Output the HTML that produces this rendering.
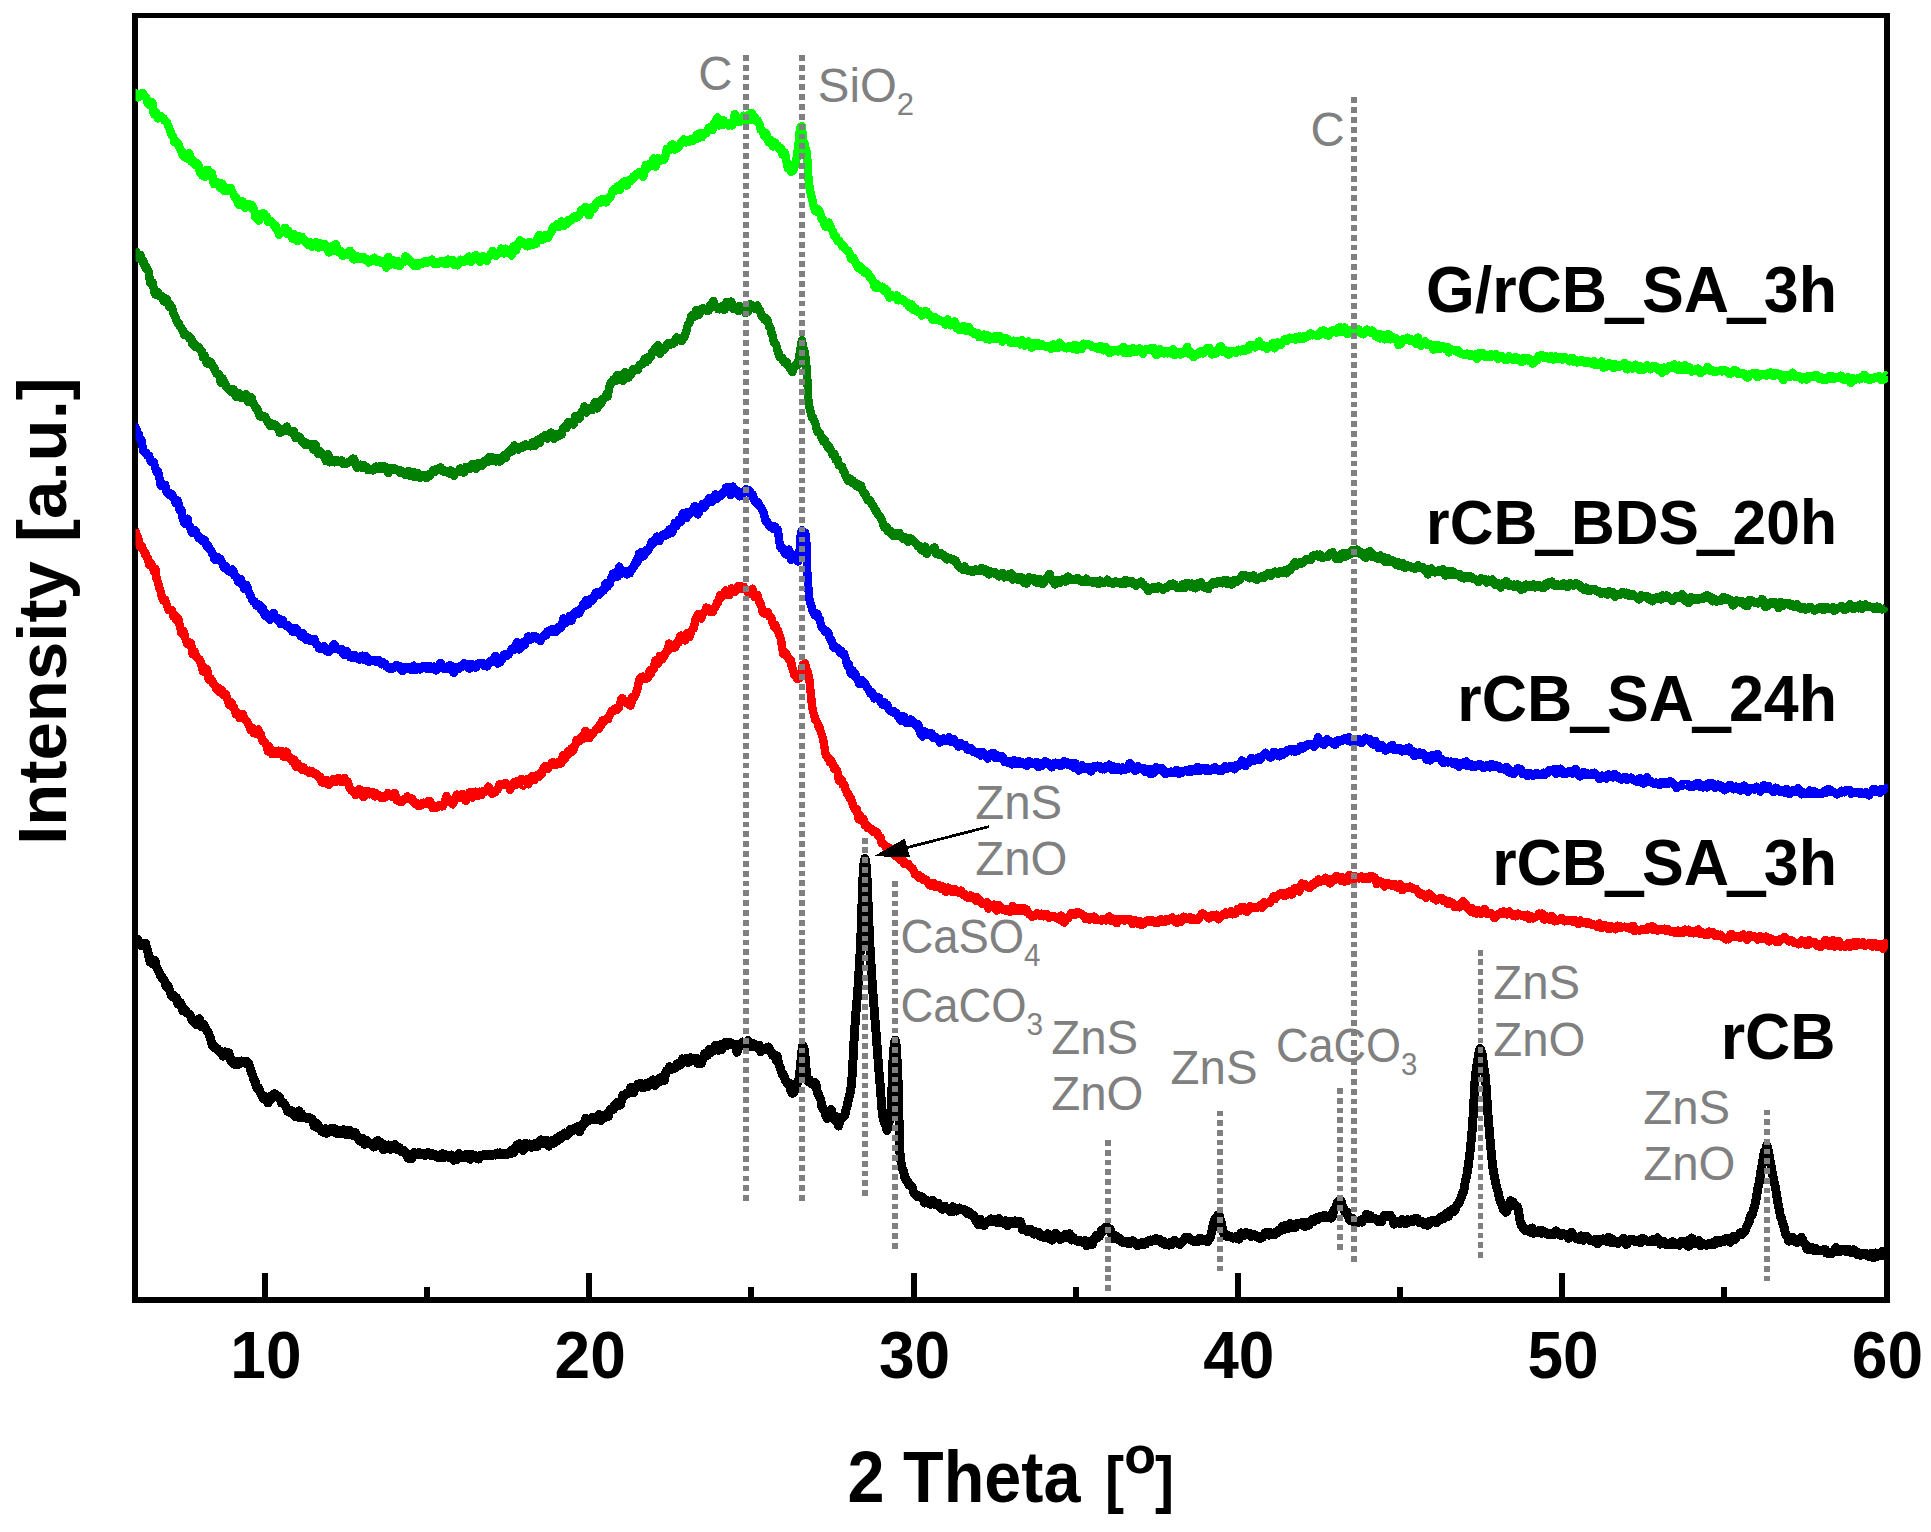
<!DOCTYPE html>
<html><head><meta charset="utf-8"><title>XRD patterns</title>
<style>
html,body{margin:0;padding:0;background:#fff;}
body{width:1931px;height:1532px;overflow:hidden;}
svg{display:block;}
.b{font-family:"Liberation Sans",Arial,Helvetica,sans-serif;font-weight:700;fill:#000;}
.g{font-family:"Liberation Sans",Arial,Helvetica,sans-serif;font-weight:400;fill:#808080;}
.c{fill:none;stroke-linejoin:round;stroke-linecap:butt;}
.d{fill:none;stroke:#808080;stroke-width:5.8;}
.t{stroke:#000;stroke-width:6;fill:none;}
</style></head><body>
<svg width="1931" height="1532" viewBox="0 0 1931 1532" shape-rendering="crispEdges">
<rect x="0" y="0" width="1931" height="1532" fill="#fff"/>
<g id="frame" fill="#000"><rect x="132" y="13" width="6" height="1290"/><rect x="1884" y="13" width="6" height="1290"/><rect x="132" y="13" width="1758" height="5"/><rect x="132" y="1297" width="1758" height="6"/></g>
<defs><clipPath id="cp"><rect x="135.5" y="16" width="1752.5" height="1284"/></clipPath></defs>
<g id="curves" clip-path="url(#cp)" stroke-width="8.4">
<path class="c" stroke="#000000" stroke-width="9" d="M135.0,939.9 135.7,940.5 136.4,940.2 137.1,939.2 137.5,939.1 137.8,941.2 138.5,944.2 139.2,944.9 139.9,944.0 140.6,943.7 141.3,945.6 142.0,945.6 142.7,944.5 143.4,943.4 144.1,945.3 144.8,945.9 145.0,943.9 145.5,943.1 146.2,946.2 146.9,947.6 147.6,951.4 148.3,953.9 149.0,958.0 149.7,960.1 150.0,962.0 150.4,959.7 151.1,958.8 151.8,960.7 152.5,963.7 153.2,961.6 153.9,960.4 154.6,960.3 155.3,962.0 156.0,965.2 156.7,967.7 157.4,968.7 158.1,970.3 158.8,971.4 159.5,972.8 160.0,973.8 160.2,975.3 160.9,975.3 161.6,976.0 162.3,978.1 163.0,978.7 163.7,979.6 164.4,980.7 165.1,982.1 165.8,985.3 166.5,986.7 167.2,986.7 167.9,985.3 168.6,986.9 169.3,989.3 170.0,991.1 170.0,991.9 170.7,993.0 171.4,995.9 172.1,996.4 172.8,996.1 173.5,995.5 174.2,996.4 174.9,996.6 175.6,997.7 176.3,997.8 177.0,1001.9 177.7,1003.8 178.4,1004.0 179.1,1001.8 179.8,1003.1 180.5,1002.8 181.2,1004.4 181.9,1005.8 182.0,1009.0 182.6,1010.6 183.3,1010.9 184.0,1008.8 184.7,1009.2 185.4,1011.7 186.1,1012.5 186.8,1012.1 187.5,1013.2 188.2,1013.7 188.9,1014.0 189.6,1014.0 190.3,1015.2 191.0,1016.7 191.7,1019.9 192.4,1020.9 193.1,1021.5 193.8,1021.8 194.5,1021.8 194.6,1022.1 195.2,1022.8 195.9,1024.3 196.6,1022.3 197.3,1021.9 198.0,1019.8 198.7,1019.0 199.4,1018.9 200.1,1021.0 200.8,1023.5 201.5,1026.5 202.2,1027.1 202.9,1025.6 203.6,1024.2 204.3,1026.0 205.0,1027.8 205.7,1028.6 206.4,1029.3 207.0,1031.3 207.1,1031.6 207.8,1031.2 208.5,1033.2 209.2,1035.4 209.9,1037.4 210.6,1038.2 211.3,1042.2 212.0,1044.1 212.7,1046.2 213.4,1046.6 214.1,1047.8 214.8,1046.7 215.5,1046.9 216.2,1048.5 216.9,1048.6 217.0,1048.8 217.6,1048.7 218.3,1050.5 219.0,1050.4 219.7,1052.2 220.4,1052.9 221.1,1052.2 221.8,1053.1 222.5,1055.0 223.2,1056.2 223.9,1054.7 224.6,1053.1 225.3,1051.9 226.0,1053.5 226.7,1053.5 227.0,1054.2 227.4,1052.7 228.1,1053.3 228.8,1052.8 229.5,1055.6 230.2,1057.8 230.9,1061.0 231.6,1061.7 232.3,1062.1 233.0,1061.7 233.7,1063.1 234.4,1064.4 235.1,1064.0 235.8,1063.7 236.5,1061.9 237.0,1061.5 237.2,1063.8 237.9,1064.7 238.6,1063.5 239.3,1062.2 240.0,1063.6 240.7,1062.6 241.4,1061.0 242.1,1061.2 242.8,1061.3 243.5,1061.6 244.2,1062.4 244.9,1063.3 245.6,1061.3 245.6,1061.5 246.3,1061.2 247.0,1062.9 247.7,1062.6 248.4,1063.2 249.1,1064.7 249.8,1067.0 250.5,1069.9 251.2,1071.2 251.9,1073.6 252.6,1075.0 253.3,1077.8 254.0,1080.0 254.3,1080.3 254.7,1080.0 255.4,1082.4 256.1,1085.4 256.8,1087.8 257.5,1087.7 258.2,1087.4 258.9,1088.3 259.6,1091.5 260.3,1093.1 261.0,1093.7 261.7,1094.8 262.4,1097.2 263.1,1098.5 263.8,1097.9 264.0,1097.8 264.5,1096.2 265.2,1097.2 265.9,1097.4 266.6,1099.6 267.3,1101.6 268.0,1103.0 268.7,1101.0 269.4,1097.5 270.1,1096.5 270.8,1097.1 271.5,1097.2 272.2,1098.4 272.9,1096.8 273.6,1094.5 274.3,1093.6 275.0,1095.1 275.7,1096.4 276.4,1096.4 277.1,1095.9 277.8,1095.8 278.5,1096.0 279.0,1097.7 279.2,1096.8 279.9,1098.6 280.6,1100.4 281.3,1102.8 282.0,1102.7 282.7,1102.8 283.4,1102.6 284.1,1103.5 284.8,1104.5 285.5,1105.7 286.2,1107.5 286.9,1108.5 287.6,1111.4 288.3,1111.9 289.0,1111.4 289.7,1110.8 290.4,1112.6 291.1,1110.5 291.6,1110.8 291.8,1111.1 292.5,1113.7 293.2,1114.5 293.9,1114.9 294.6,1116.3 295.3,1116.4 296.0,1115.2 296.7,1113.8 297.4,1112.0 298.1,1111.4 298.8,1110.8 299.5,1115.1 300.2,1118.0 300.9,1116.7 301.6,1113.7 302.3,1115.4 303.0,1117.3 303.7,1117.8 304.4,1116.6 305.1,1116.8 305.8,1117.5 306.5,1118.1 307.2,1118.5 307.9,1117.6 308.6,1117.1 309.0,1117.8 309.3,1119.0 310.0,1118.5 310.7,1119.0 311.4,1118.7 312.1,1119.0 312.8,1121.1 313.5,1124.1 314.2,1126.3 314.9,1125.6 315.6,1126.0 316.3,1124.3 317.0,1123.8 317.7,1124.5 318.4,1128.0 319.1,1128.0 319.8,1128.2 320.5,1128.3 321.2,1130.9 321.9,1131.6 322.6,1131.4 323.3,1132.3 324.0,1132.3 324.7,1131.4 325.4,1128.7 326.1,1129.0 326.4,1131.2 326.8,1133.2 327.5,1132.6 328.2,1131.1 328.9,1130.5 329.6,1129.9 330.3,1129.1 331.0,1128.6 331.7,1130.3 332.4,1131.0 333.1,1131.5 333.8,1129.4 334.5,1128.7 335.2,1131.1 335.9,1133.1 336.6,1133.4 337.3,1131.7 338.0,1130.2 338.7,1130.8 339.4,1132.6 340.1,1133.6 340.8,1133.4 341.5,1132.6 342.2,1133.5 342.9,1131.9 343.6,1130.9 343.8,1129.8 344.3,1132.4 345.0,1132.7 345.7,1132.8 346.4,1133.7 347.1,1134.9 347.8,1132.7 348.5,1130.8 349.2,1130.8 349.9,1130.7 350.6,1131.4 351.3,1134.3 352.0,1135.2 352.7,1134.6 353.4,1132.3 354.1,1132.8 354.8,1132.6 355.5,1132.8 356.2,1134.7 356.9,1136.7 357.6,1138.1 358.3,1138.9 359.0,1140.3 359.7,1140.6 360.4,1140.8 361.1,1141.4 361.8,1140.4 362.5,1138.4 363.2,1139.3 363.9,1141.5 364.6,1144.5 365.3,1143.5 366.0,1141.4 366.0,1140.2 366.7,1140.7 367.4,1142.2 368.1,1143.6 368.8,1143.8 369.5,1143.9 370.2,1143.6 370.9,1144.4 371.6,1143.9 372.3,1144.1 373.0,1146.4 373.7,1147.1 374.4,1146.4 375.1,1143.2 375.8,1142.2 376.5,1141.1 377.2,1140.9 377.9,1140.6 378.6,1143.5 379.3,1145.8 380.0,1144.1 380.7,1142.6 381.4,1143.3 382.1,1146.0 382.8,1148.3 383.5,1149.7 384.2,1148.2 384.9,1144.9 385.6,1145.6 386.3,1146.4 387.0,1145.5 387.7,1145.5 388.4,1145.0 389.1,1146.1 389.8,1147.0 390.5,1149.3 391.0,1147.7 391.2,1147.5 391.9,1146.7 392.6,1146.2 393.3,1145.9 394.0,1145.1 394.7,1144.4 395.4,1145.8 396.1,1147.9 396.8,1149.4 397.5,1149.9 398.2,1149.6 398.9,1148.6 399.6,1147.8 400.3,1150.6 401.0,1151.1 401.7,1151.8 402.4,1151.8 403.1,1151.9 403.8,1150.1 404.5,1151.6 405.2,1154.0 405.9,1153.4 406.6,1152.9 407.3,1155.1 408.0,1158.1 408.7,1157.0 409.4,1156.4 410.1,1155.0 410.8,1156.9 411.0,1158.4 411.5,1158.8 412.2,1156.3 412.9,1156.1 413.6,1153.3 414.3,1152.6 415.0,1152.9 415.7,1153.4 416.4,1154.1 417.1,1154.4 417.8,1154.0 418.5,1152.7 419.2,1152.5 419.9,1154.7 420.6,1155.0 421.3,1154.9 422.0,1154.6 422.7,1153.7 423.4,1153.2 424.1,1153.2 424.8,1155.4 425.5,1155.0 426.2,1154.3 426.9,1153.5 427.6,1152.9 428.0,1152.3 428.3,1152.8 429.0,1154.5 429.7,1155.0 430.4,1155.2 431.1,1153.8 431.8,1153.4 432.5,1154.3 433.2,1154.4 433.9,1155.9 434.6,1155.9 435.3,1156.0 436.0,1154.9 436.7,1155.1 437.4,1157.2 438.1,1157.2 438.8,1157.3 439.5,1155.1 440.2,1155.9 440.9,1155.7 441.6,1154.9 442.3,1153.7 443.0,1156.8 443.7,1158.0 444.4,1156.9 445.1,1154.7 445.8,1154.8 446.5,1156.1 447.2,1156.9 447.9,1156.9 448.0,1157.1 448.6,1157.5 449.3,1157.9 450.0,1156.6 450.7,1155.9 451.4,1155.0 452.1,1157.3 452.8,1159.1 453.5,1160.2 454.2,1158.5 454.9,1158.3 455.6,1157.8 456.3,1159.4 457.0,1159.4 457.7,1156.7 458.4,1154.4 459.1,1153.7 459.8,1155.8 460.5,1157.8 461.2,1157.7 461.9,1155.7 462.6,1155.3 463.3,1157.8 464.0,1157.1 464.7,1156.4 465.4,1154.8 465.6,1156.8 466.1,1156.0 466.8,1156.0 467.5,1154.7 468.2,1154.5 468.9,1156.1 469.6,1158.7 470.3,1159.3 471.0,1156.7 471.7,1154.4 472.4,1154.6 473.1,1155.7 473.8,1157.1 474.5,1157.5 475.2,1155.8 475.9,1156.2 476.6,1156.1 477.3,1157.5 478.0,1159.0 478.7,1159.0 479.4,1156.9 480.1,1155.1 480.8,1155.8 481.5,1155.7 482.2,1155.4 482.9,1155.3 483.6,1154.9 484.3,1155.4 485.0,1156.0 485.7,1155.8 486.4,1155.3 487.1,1154.6 487.8,1154.6 488.5,1154.6 489.2,1155.3 489.9,1155.5 490.4,1155.1 490.6,1155.3 491.3,1154.3 492.0,1154.9 492.7,1155.3 493.4,1154.7 494.1,1154.0 494.8,1154.3 495.5,1155.0 496.2,1154.6 496.9,1153.9 497.6,1153.0 498.3,1153.1 499.0,1154.1 499.7,1154.2 500.4,1152.9 501.1,1153.2 501.8,1153.7 502.5,1154.7 503.2,1154.4 503.9,1154.6 504.6,1153.6 505.3,1153.5 506.0,1153.5 506.7,1154.2 507.4,1154.4 508.1,1153.3 508.8,1152.8 509.5,1152.9 510.2,1153.7 510.9,1153.5 511.6,1150.8 512.3,1149.7 513.0,1150.8 513.7,1152.5 514.4,1151.1 515.0,1148.3 515.1,1147.9 515.8,1147.5 516.5,1145.8 517.2,1145.0 517.9,1144.6 518.6,1144.7 519.3,1143.7 520.0,1146.0 520.7,1147.4 521.4,1148.7 522.1,1149.2 522.8,1150.4 523.5,1149.7 524.2,1147.5 524.9,1144.5 525.6,1143.2 526.3,1144.2 527.0,1146.4 527.7,1146.8 528.4,1146.9 529.1,1145.3 529.8,1144.0 530.5,1144.1 531.2,1145.9 531.9,1147.3 532.6,1146.9 533.3,1146.9 534.0,1145.8 534.7,1145.0 535.4,1143.6 536.1,1143.1 536.8,1145.0 537.5,1146.5 538.2,1144.4 538.9,1142.6 539.6,1141.8 540.0,1142.4 540.3,1140.3 541.0,1139.9 541.7,1141.7 542.4,1143.7 543.1,1143.1 543.8,1142.0 544.5,1143.0 545.2,1141.7 545.9,1140.4 546.6,1140.4 547.3,1143.5 548.0,1144.9 548.7,1146.1 549.4,1144.5 550.1,1143.2 550.8,1142.8 551.5,1142.0 552.2,1140.6 552.9,1140.8 553.6,1143.3 554.3,1143.0 555.0,1140.8 555.7,1138.9 556.4,1139.0 557.1,1140.0 557.8,1140.7 558.5,1139.2 559.2,1137.3 559.9,1135.9 560.6,1136.4 561.3,1138.2 562.0,1137.5 562.5,1135.7 562.7,1135.3 563.4,1135.7 564.1,1133.9 564.8,1133.0 565.5,1134.3 566.2,1135.9 566.9,1134.0 567.6,1133.9 568.3,1133.3 569.0,1133.4 569.7,1131.2 570.4,1129.7 571.1,1129.0 571.8,1129.1 572.5,1130.3 573.2,1130.7 573.9,1129.3 574.6,1128.2 575.3,1127.7 576.0,1128.0 576.7,1127.6 577.4,1126.8 578.1,1127.1 578.8,1129.6 579.5,1131.6 580.2,1129.9 580.9,1126.6 581.6,1126.4 582.3,1126.6 583.0,1124.7 583.7,1122.9 584.4,1123.4 585.0,1123.1 585.1,1120.5 585.8,1118.1 586.5,1119.2 587.2,1120.0 587.9,1119.9 588.6,1119.5 589.3,1120.4 590.0,1119.4 590.7,1119.6 591.4,1118.3 592.1,1117.9 592.8,1117.2 593.5,1118.8 594.2,1119.2 594.9,1119.9 595.6,1118.1 596.3,1117.6 597.0,1118.7 597.7,1117.9 598.4,1115.6 599.1,1114.6 599.8,1119.0 600.5,1120.5 601.2,1119.9 601.9,1118.2 602.6,1118.2 603.3,1118.1 604.0,1116.3 604.7,1114.9 605.0,1116.3 605.4,1117.2 606.1,1115.6 606.8,1115.3 607.5,1116.8 608.2,1116.7 608.9,1114.5 609.6,1110.8 610.3,1109.8 611.0,1109.1 611.7,1110.1 612.4,1110.1 613.1,1109.8 613.8,1106.5 614.5,1105.3 615.2,1104.7 615.9,1105.8 616.6,1104.6 617.3,1104.2 617.3,1102.6 618.0,1103.0 618.7,1103.8 619.4,1105.5 620.1,1104.7 620.8,1104.3 621.5,1100.4 622.2,1097.1 622.9,1095.1 623.6,1095.6 624.3,1095.6 625.0,1094.6 625.7,1093.9 626.4,1093.0 627.1,1093.6 627.8,1093.7 628.5,1093.1 629.2,1092.3 629.8,1090.6 629.9,1090.6 630.6,1087.5 631.3,1087.2 632.0,1088.5 632.7,1092.6 633.4,1092.9 634.1,1091.2 634.8,1087.7 635.5,1087.1 636.2,1086.4 636.9,1086.9 637.6,1084.4 638.3,1085.2 639.0,1084.9 639.7,1085.2 640.4,1083.2 641.1,1083.3 641.8,1086.0 642.5,1087.9 643.2,1087.8 643.9,1085.8 644.6,1086.1 644.7,1085.9 645.3,1083.8 646.0,1083.9 646.7,1085.3 647.4,1085.3 648.1,1086.3 648.8,1084.2 649.5,1083.4 650.2,1081.8 650.9,1083.4 651.6,1082.1 652.3,1080.4 653.0,1079.9 653.7,1082.3 654.4,1083.2 655.1,1085.4 655.8,1083.3 656.5,1083.2 657.2,1081.2 657.9,1081.9 658.6,1081.7 659.3,1082.0 659.6,1080.0 660.0,1077.9 660.7,1077.7 661.4,1079.3 662.1,1079.7 662.8,1079.4 663.5,1080.2 664.2,1080.6 664.9,1076.8 665.6,1072.9 666.3,1071.1 667.0,1070.3 667.7,1070.4 668.4,1070.3 669.1,1067.9 669.5,1066.6 669.8,1068.6 670.5,1070.0 671.2,1068.1 671.9,1068.2 672.6,1068.5 673.3,1068.9 674.0,1068.4 674.7,1068.2 675.4,1067.1 676.1,1065.4 676.8,1064.1 677.5,1063.8 678.2,1065.7 678.9,1064.3 679.6,1065.0 680.3,1065.2 681.0,1064.5 681.7,1060.6 682.4,1058.9 683.1,1059.2 683.8,1059.6 684.5,1059.7 685.2,1058.8 685.9,1058.6 686.6,1058.6 687.0,1058.7 687.3,1059.2 688.0,1062.7 688.7,1062.2 689.4,1060.4 690.1,1057.7 690.8,1059.3 691.5,1058.6 692.2,1058.8 692.9,1059.2 693.6,1060.0 694.3,1060.0 695.0,1059.6 695.7,1058.9 696.4,1058.3 697.0,1059.1 697.1,1062.5 697.8,1063.7 698.5,1062.7 699.2,1061.1 699.9,1061.7 700.6,1063.5 701.3,1063.5 702.0,1061.0 702.7,1059.7 703.4,1058.0 704.1,1056.2 704.8,1053.4 705.5,1054.0 706.2,1055.1 706.9,1055.9 707.6,1053.5 708.3,1052.5 709.0,1049.6 709.3,1049.7 709.7,1050.6 710.4,1053.1 711.1,1052.6 711.8,1049.5 712.5,1049.8 713.2,1051.0 713.9,1049.8 714.6,1047.1 715.3,1045.2 716.0,1045.8 716.7,1047.1 717.4,1049.4 718.1,1050.3 718.8,1048.9 719.5,1046.0 720.2,1044.8 720.9,1046.9 721.6,1049.6 722.3,1048.7 723.0,1045.9 723.7,1046.6 724.4,1045.8 725.1,1044.1 725.8,1042.2 726.5,1044.7 726.7,1045.1 727.2,1045.4 727.9,1043.9 728.6,1043.3 729.3,1042.8 730.0,1042.7 730.7,1042.9 731.4,1044.4 732.1,1044.9 732.8,1045.0 733.5,1045.3 734.2,1045.6 734.9,1045.2 735.6,1044.3 736.3,1047.0 736.7,1049.5 737.0,1052.3 737.7,1050.6 738.4,1048.6 739.1,1046.8 739.8,1046.5 740.5,1046.4 741.2,1044.5 741.9,1043.5 742.6,1042.0 743.3,1044.0 744.0,1043.7 744.7,1043.2 745.4,1042.1 745.4,1042.4 746.1,1043.2 746.8,1042.8 747.5,1042.3 748.2,1040.5 748.9,1041.6 749.6,1044.5 750.3,1046.3 751.0,1045.6 751.7,1045.7 752.4,1046.1 753.1,1044.6 753.8,1043.8 754.5,1046.8 755.2,1046.6 755.9,1046.7 756.5,1045.7 756.6,1045.8 757.3,1046.1 758.0,1047.8 758.7,1047.7 759.4,1045.2 760.1,1048.7 760.8,1051.7 761.5,1050.6 762.2,1049.5 762.9,1050.0 763.6,1050.1 764.3,1049.5 765.0,1049.3 765.7,1048.5 766.4,1047.8 766.5,1048.0 767.1,1047.5 767.8,1047.1 768.5,1046.9 769.2,1048.5 769.9,1050.2 770.6,1051.2 771.3,1052.1 772.0,1053.4 772.7,1055.6 773.4,1054.9 774.1,1055.0 774.8,1054.7 775.5,1057.5 776.2,1060.2 776.4,1058.6 776.9,1055.8 777.6,1057.5 778.3,1061.6 779.0,1064.8 779.7,1066.0 780.4,1068.2 781.1,1070.7 781.8,1072.6 782.5,1075.0 783.2,1074.2 783.9,1076.3 784.0,1075.6 784.6,1078.6 785.3,1080.2 786.0,1081.0 786.7,1082.4 787.4,1083.0 788.1,1083.9 788.8,1082.9 789.5,1085.2 790.2,1088.0 790.9,1091.2 791.6,1092.3 792.3,1093.2 792.6,1092.8 793.0,1093.2 793.7,1091.0 794.4,1091.6 795.1,1090.2 795.8,1088.1 796.5,1085.4 797.2,1083.8 797.9,1081.0 798.6,1079.5 798.8,1079.2 799.3,1077.0 800.0,1070.5 800.7,1063.5 801.4,1055.5 802.1,1049.0 802.8,1045.6 803.3,1045.8 803.5,1048.0 804.2,1049.1 804.9,1055.0 805.6,1063.1 806.3,1071.4 807.0,1078.6 807.5,1081.2 807.7,1080.8 808.4,1079.3 809.1,1079.6 809.8,1079.9 810.5,1082.0 811.2,1082.3 811.9,1084.2 812.6,1083.3 813.3,1085.0 813.7,1084.0 814.0,1082.6 814.7,1082.3 815.4,1083.3 816.1,1085.1 816.8,1089.4 817.5,1092.3 818.2,1094.5 818.9,1094.9 819.6,1097.1 820.3,1098.5 821.0,1100.7 821.0,1101.5 821.7,1106.0 822.4,1108.0 823.1,1109.4 823.8,1109.2 824.5,1111.1 825.2,1113.3 825.9,1115.5 826.6,1116.5 827.3,1118.6 827.4,1117.7 828.0,1115.3 828.7,1113.4 829.4,1114.4 830.1,1112.0 830.8,1110.2 831.0,1109.3 831.5,1110.1 832.2,1114.3 832.9,1118.3 833.6,1118.2 834.3,1115.7 835.0,1115.9 835.7,1119.7 836.4,1121.5 837.1,1122.6 837.8,1123.7 838.5,1126.0 838.6,1126.0 839.2,1123.5 839.9,1120.6 840.6,1119.2 841.3,1117.5 842.0,1118.3 842.7,1117.2 843.4,1117.0 844.1,1115.6 844.8,1115.2 845.5,1111.7 846.0,1109.3 846.2,1108.5 846.9,1106.9 847.6,1103.6 848.3,1100.6 849.0,1097.5 849.7,1095.8 850.4,1091.1 851.0,1087.8 851.1,1086.7 851.8,1080.5 852.5,1069.5 853.2,1056.4 853.9,1043.0 854.6,1031.0 854.7,1029.3 855.3,1021.0 856.0,1011.8 856.7,1004.0 857.4,995.4 858.1,985.8 858.5,979.6 858.8,974.9 859.5,963.3 860.2,950.2 860.9,935.4 861.0,933.3 861.6,916.5 862.3,895.2 862.5,890.0 863.0,877.0 863.5,868.5 863.7,866.3 864.4,860.1 865.0,858.3 865.1,858.4 865.8,862.5 866.5,867.5 866.5,867.5 867.2,882.2 867.5,889.8 867.9,899.4 868.6,916.9 869.3,933.0 869.3,933.2 870.0,946.8 870.7,959.3 871.4,970.8 872.0,979.8 872.1,981.2 872.8,991.3 873.5,1000.5 874.2,1009.6 874.9,1018.3 875.6,1027.0 875.8,1029.3 876.3,1035.8 877.0,1045.3 877.7,1054.7 878.4,1064.4 879.1,1073.3 879.6,1078.8 879.8,1080.8 880.5,1089.9 881.2,1099.6 881.9,1108.5 882.6,1115.9 883.3,1119.4 883.3,1117.6 884.0,1120.3 884.7,1123.0 885.4,1125.1 886.1,1125.9 886.8,1128.6 887.0,1130.3 887.5,1128.1 888.2,1125.4 888.9,1122.8 889.6,1119.8 890.3,1116.0 890.8,1113.7 891.0,1112.2 891.7,1097.0 892.4,1075.5 893.1,1057.9 893.3,1054.9 893.8,1049.2 894.5,1041.8 895.2,1040.0 895.2,1040.5 895.9,1042.9 896.6,1051.7 897.3,1064.4 898.0,1079.1 898.0,1079.2 898.7,1105.1 899.4,1137.6 900.0,1153.5 900.1,1154.4 900.8,1160.6 901.5,1165.5 902.2,1168.9 902.9,1170.1 903.6,1171.4 904.3,1175.4 904.4,1176.3 905.0,1178.0 905.7,1178.7 906.4,1181.1 907.1,1180.9 907.8,1181.8 908.5,1183.5 909.2,1185.3 909.9,1185.3 910.6,1185.8 911.3,1185.8 912.0,1187.2 912.7,1188.1 913.0,1190.1 913.4,1191.6 914.1,1192.9 914.8,1193.6 915.5,1194.3 916.2,1195.7 916.9,1196.2 917.6,1195.7 918.3,1195.6 919.0,1196.1 919.7,1196.3 920.4,1196.7 920.6,1196.8 921.1,1197.1 921.8,1196.8 922.5,1197.2 923.2,1198.2 923.9,1201.3 924.6,1203.1 925.3,1202.7 926.0,1201.9 926.7,1200.8 927.4,1200.7 928.1,1200.7 928.8,1202.2 929.5,1203.6 930.2,1204.3 930.9,1202.9 931.6,1200.5 932.3,1200.1 933.0,1200.6 933.7,1202.4 934.4,1204.1 935.1,1204.4 935.8,1203.6 936.5,1204.5 937.2,1205.4 937.9,1204.6 938.0,1203.0 938.6,1204.3 939.3,1205.7 940.0,1206.9 940.7,1207.9 941.4,1208.8 942.1,1209.3 942.8,1209.0 943.5,1208.0 944.2,1206.3 944.9,1206.1 945.6,1207.7 946.3,1208.4 947.0,1208.8 947.7,1208.1 948.4,1209.0 949.1,1210.3 949.8,1211.5 950.5,1211.5 951.2,1211.7 951.9,1212.0 952.6,1209.4 953.0,1206.8 953.3,1206.8 954.0,1207.9 954.7,1209.1 955.4,1210.3 956.1,1211.1 956.8,1209.4 957.5,1209.7 958.2,1209.9 958.9,1209.7 959.6,1208.0 960.3,1209.3 961.0,1209.8 961.7,1209.8 962.4,1209.6 963.1,1209.2 963.8,1209.2 964.5,1210.5 965.2,1211.0 965.9,1211.4 966.6,1210.7 967.3,1213.6 967.8,1214.0 968.0,1213.6 968.7,1212.8 969.4,1212.6 970.1,1212.6 970.8,1213.1 971.5,1215.1 972.2,1215.9 972.9,1215.7 973.6,1215.2 974.3,1216.5 975.0,1217.5 975.7,1220.2 976.4,1221.5 977.1,1222.6 977.8,1223.7 978.5,1224.8 979.2,1222.1 979.9,1220.0 980.0,1219.1 980.6,1221.5 981.3,1222.2 982.0,1224.0 982.7,1223.9 983.4,1224.9 984.1,1225.5 984.8,1225.0 985.5,1223.1 986.2,1221.9 986.9,1222.3 987.6,1222.0 988.3,1221.4 989.0,1221.7 989.7,1221.0 990.4,1220.6 991.1,1218.8 991.8,1219.3 992.5,1219.8 993.2,1220.9 993.9,1221.8 994.6,1220.0 995.3,1219.8 996.0,1220.2 996.7,1222.2 997.4,1222.2 998.1,1219.9 998.8,1218.4 999.5,1219.1 1000.0,1222.0 1000.2,1223.0 1000.9,1222.8 1001.6,1220.8 1002.3,1221.6 1003.0,1223.1 1003.7,1223.6 1004.4,1222.0 1005.1,1220.7 1005.8,1220.8 1006.5,1223.2 1007.2,1225.9 1007.9,1225.4 1008.6,1223.7 1009.3,1221.9 1010.0,1221.6 1010.7,1221.2 1011.4,1221.8 1012.1,1221.5 1012.8,1222.8 1013.5,1223.5 1014.2,1223.8 1014.9,1222.2 1015.0,1220.8 1015.6,1221.0 1016.3,1222.4 1017.0,1222.1 1017.7,1221.6 1018.4,1221.8 1019.1,1222.0 1019.8,1222.0 1020.5,1221.9 1021.2,1224.0 1021.9,1226.6 1022.6,1229.8 1023.3,1229.7 1024.0,1228.5 1024.7,1228.8 1025.4,1229.9 1026.1,1230.5 1026.8,1231.4 1027.5,1232.0 1027.5,1231.4 1028.2,1229.3 1028.9,1229.4 1029.6,1230.5 1030.3,1230.4 1031.0,1229.5 1031.7,1230.0 1032.4,1232.6 1033.1,1233.3 1033.8,1233.6 1034.5,1234.2 1035.2,1233.3 1035.9,1231.9 1036.6,1232.6 1037.3,1234.2 1038.0,1233.0 1038.7,1232.1 1039.4,1233.4 1040.1,1236.3 1040.8,1234.9 1041.5,1235.4 1042.2,1234.8 1042.9,1236.3 1043.6,1235.9 1044.3,1237.8 1045.0,1237.2 1045.7,1235.3 1046.4,1234.7 1047.1,1235.3 1047.8,1233.7 1048.5,1234.7 1049.2,1237.0 1049.9,1239.1 1050.0,1237.0 1050.6,1237.7 1051.3,1238.3 1052.0,1240.1 1052.7,1239.3 1053.4,1237.2 1054.1,1235.4 1054.8,1234.3 1055.5,1233.4 1056.2,1233.7 1056.9,1235.6 1057.6,1236.5 1058.3,1236.2 1059.0,1237.4 1059.7,1239.0 1060.4,1239.5 1061.1,1239.0 1061.8,1237.5 1062.5,1236.7 1063.2,1236.8 1063.9,1236.5 1064.6,1236.1 1065.0,1234.5 1065.3,1235.3 1066.0,1238.0 1066.7,1237.9 1067.4,1237.0 1068.1,1235.0 1068.8,1234.4 1069.5,1233.6 1070.2,1235.2 1070.9,1239.1 1071.6,1240.1 1072.3,1238.9 1073.0,1238.1 1073.7,1237.9 1074.4,1239.7 1075.1,1239.9 1075.8,1240.4 1076.5,1241.1 1077.2,1241.1 1077.9,1241.0 1078.6,1240.1 1079.3,1240.8 1080.0,1240.5 1080.7,1241.5 1081.4,1241.1 1082.1,1241.7 1082.8,1242.4 1083.5,1242.5 1084.2,1241.6 1084.9,1240.7 1085.6,1242.5 1086.3,1244.4 1087.0,1245.9 1087.0,1244.7 1087.7,1243.9 1088.4,1243.2 1089.1,1243.6 1089.8,1242.8 1090.5,1241.5 1091.2,1241.2 1091.9,1244.0 1092.6,1244.3 1093.3,1240.8 1094.0,1239.1 1094.7,1239.0 1095.4,1237.4 1096.1,1235.6 1096.8,1235.9 1097.5,1236.7 1098.2,1237.3 1098.9,1236.6 1099.6,1236.3 1099.7,1235.6 1100.3,1234.6 1101.0,1231.5 1101.7,1230.1 1102.4,1230.0 1103.1,1231.0 1103.8,1230.6 1104.5,1229.4 1105.2,1227.8 1105.9,1226.7 1106.6,1226.6 1107.0,1226.4 1107.3,1227.3 1108.0,1228.4 1108.7,1229.5 1109.4,1228.5 1110.1,1229.0 1110.8,1230.7 1111.5,1233.3 1112.2,1236.7 1112.9,1238.9 1113.6,1238.9 1114.3,1237.9 1114.6,1237.2 1115.0,1236.5 1115.7,1235.8 1116.4,1236.6 1117.1,1237.5 1117.8,1239.5 1118.5,1239.7 1119.2,1240.3 1119.9,1238.6 1120.6,1239.7 1121.3,1240.5 1122.0,1242.1 1122.7,1242.2 1123.4,1242.8 1124.1,1242.2 1124.8,1242.0 1125.5,1242.8 1126.2,1242.6 1126.9,1241.4 1127.6,1242.6 1128.3,1243.7 1129.0,1243.5 1129.5,1243.9 1129.7,1243.4 1130.4,1242.5 1131.1,1241.3 1131.8,1241.0 1132.5,1240.8 1133.2,1241.4 1133.9,1242.6 1134.6,1242.8 1135.3,1242.9 1136.0,1244.2 1136.7,1244.9 1137.4,1245.6 1138.1,1244.2 1138.8,1243.5 1139.5,1243.3 1140.2,1243.7 1140.9,1243.4 1141.6,1242.5 1142.3,1245.0 1143.0,1244.8 1143.7,1243.4 1144.4,1242.4 1145.1,1244.2 1145.8,1244.0 1146.5,1242.5 1147.2,1241.4 1147.9,1241.8 1148.6,1241.9 1149.3,1241.5 1150.0,1239.9 1150.7,1239.9 1151.4,1241.4 1152.1,1241.1 1152.8,1241.1 1153.5,1240.0 1154.2,1240.7 1154.4,1240.4 1154.9,1239.5 1155.6,1238.6 1156.3,1238.8 1157.0,1239.8 1157.7,1240.8 1158.4,1240.4 1159.1,1239.3 1159.8,1239.5 1160.5,1241.2 1161.2,1242.9 1161.9,1243.1 1162.6,1242.3 1163.3,1241.0 1164.0,1241.8 1164.7,1244.2 1165.4,1244.2 1166.1,1243.9 1166.8,1244.0 1167.5,1243.3 1168.2,1244.5 1168.9,1245.2 1169.6,1244.3 1170.3,1242.6 1171.0,1243.4 1171.7,1244.6 1172.4,1244.0 1173.1,1243.3 1173.8,1242.4 1174.3,1240.6 1174.5,1240.1 1175.2,1240.9 1175.9,1241.8 1176.6,1242.9 1177.3,1243.0 1178.0,1243.7 1178.7,1243.6 1179.4,1244.2 1180.1,1244.3 1180.8,1243.6 1181.5,1242.3 1182.2,1242.1 1182.9,1240.9 1183.6,1240.1 1184.3,1239.1 1185.0,1238.0 1185.7,1237.3 1186.4,1237.5 1187.1,1238.7 1187.8,1237.5 1188.5,1237.4 1189.0,1238.3 1189.2,1239.0 1189.9,1239.0 1190.6,1240.0 1191.3,1239.6 1192.0,1239.8 1192.7,1240.9 1193.4,1241.2 1194.1,1240.5 1194.8,1240.5 1195.5,1241.3 1196.2,1241.2 1196.9,1240.9 1197.6,1241.9 1198.3,1240.6 1199.0,1239.6 1199.7,1238.0 1200.4,1238.4 1201.1,1238.5 1201.8,1239.2 1202.5,1240.4 1203.2,1240.3 1203.9,1240.4 1204.6,1240.3 1205.3,1240.4 1206.0,1239.6 1206.7,1240.6 1207.4,1241.8 1208.1,1240.8 1208.8,1239.1 1209.0,1237.8 1209.5,1238.3 1210.2,1237.7 1210.9,1235.6 1211.6,1232.1 1212.3,1229.0 1213.0,1226.0 1213.7,1223.2 1214.0,1221.4 1214.4,1220.3 1215.1,1218.8 1215.8,1219.8 1216.5,1219.4 1217.2,1218.0 1217.9,1215.2 1218.6,1215.3 1219.3,1215.8 1219.5,1217.0 1220.0,1219.0 1220.7,1220.5 1221.4,1223.4 1222.1,1226.5 1222.8,1230.4 1223.5,1232.5 1224.2,1234.1 1224.9,1234.9 1225.0,1235.6 1225.6,1234.6 1226.3,1234.9 1227.0,1235.5 1227.7,1236.8 1228.4,1235.9 1229.1,1235.8 1229.8,1236.7 1230.5,1236.8 1231.2,1236.6 1231.9,1236.7 1232.6,1237.8 1233.3,1238.1 1234.0,1237.5 1234.7,1237.0 1235.4,1236.8 1236.1,1238.3 1236.8,1238.5 1237.5,1238.7 1238.2,1239.0 1238.9,1239.2 1239.0,1237.8 1239.6,1236.5 1240.3,1234.5 1241.0,1232.8 1241.7,1233.6 1242.4,1235.0 1243.1,1235.4 1243.8,1235.8 1244.5,1234.3 1245.2,1233.6 1245.9,1232.6 1246.6,1233.3 1247.3,1233.5 1248.0,1233.7 1248.7,1233.6 1249.4,1233.3 1250.1,1233.9 1250.8,1235.6 1251.5,1236.4 1252.2,1235.9 1252.9,1235.1 1253.6,1234.5 1254.3,1235.9 1255.0,1235.2 1255.7,1236.6 1256.0,1236.4 1256.4,1236.4 1257.1,1235.8 1257.8,1236.8 1258.5,1238.0 1259.2,1238.3 1259.9,1237.4 1260.6,1238.4 1261.3,1238.1 1262.0,1237.3 1262.7,1237.1 1263.4,1236.0 1264.1,1235.6 1264.8,1233.3 1265.5,1232.8 1266.2,1233.2 1266.9,1233.1 1267.6,1233.8 1268.3,1233.5 1268.7,1235.1 1269.0,1233.5 1269.7,1232.2 1270.4,1233.7 1271.1,1234.7 1271.8,1234.6 1272.5,1233.1 1273.2,1233.5 1273.9,1233.4 1274.6,1234.8 1275.3,1233.1 1276.0,1232.3 1276.7,1231.6 1277.4,1232.6 1278.1,1231.0 1278.8,1229.9 1279.5,1231.2 1280.2,1231.2 1280.9,1229.6 1281.6,1227.5 1282.3,1226.5 1283.0,1227.1 1283.7,1229.2 1284.4,1229.4 1285.1,1226.3 1285.8,1225.3 1286.0,1227.6 1286.5,1228.9 1287.2,1228.8 1287.9,1227.2 1288.6,1226.0 1289.3,1224.4 1290.0,1223.6 1290.7,1224.2 1291.4,1225.3 1292.1,1227.7 1292.8,1227.8 1293.5,1226.7 1294.2,1224.9 1294.9,1226.1 1295.6,1227.4 1296.3,1224.9 1297.0,1223.3 1297.7,1224.1 1298.4,1225.1 1299.1,1223.8 1299.8,1223.7 1300.5,1223.9 1301.2,1223.6 1301.9,1222.7 1302.6,1222.0 1303.3,1222.9 1303.5,1223.8 1304.0,1225.8 1304.7,1226.6 1305.4,1224.6 1306.1,1222.7 1306.8,1223.4 1307.5,1225.1 1308.2,1225.6 1308.9,1224.9 1309.6,1222.8 1310.3,1222.4 1311.0,1222.2 1311.7,1220.2 1312.4,1219.4 1313.1,1220.8 1313.8,1221.9 1314.5,1219.4 1315.2,1219.0 1315.9,1217.7 1316.6,1217.6 1317.3,1219.7 1318.0,1218.6 1318.5,1218.6 1318.7,1218.0 1319.4,1217.8 1320.1,1216.4 1320.8,1217.6 1321.5,1216.8 1322.2,1216.6 1322.9,1216.7 1323.6,1217.1 1324.3,1215.1 1325.0,1216.9 1325.7,1217.4 1326.4,1217.6 1327.1,1216.8 1327.8,1217.6 1328.5,1216.2 1329.2,1215.7 1329.9,1216.6 1330.6,1217.7 1331.0,1217.8 1331.3,1218.1 1332.0,1217.7 1332.7,1214.5 1333.4,1212.0 1334.1,1209.3 1334.8,1208.7 1335.5,1207.9 1336.2,1206.9 1336.9,1203.8 1337.6,1202.1 1338.3,1201.8 1339.0,1201.0 1339.6,1201.0 1339.7,1200.6 1340.4,1200.1 1341.1,1201.3 1341.8,1203.9 1342.5,1205.8 1343.2,1207.3 1343.9,1209.2 1344.6,1210.9 1345.3,1212.8 1346.0,1212.0 1346.7,1211.9 1347.0,1213.1 1347.4,1214.9 1348.1,1216.2 1348.8,1217.6 1349.5,1219.6 1350.2,1220.7 1350.9,1220.5 1351.6,1219.0 1352.3,1218.2 1353.0,1220.0 1353.7,1221.7 1354.4,1220.3 1355.1,1220.5 1355.8,1220.8 1356.5,1221.9 1357.2,1221.8 1357.9,1222.4 1358.0,1221.6 1358.6,1220.9 1359.3,1220.7 1360.0,1220.6 1360.7,1220.9 1361.4,1221.7 1362.1,1222.2 1362.8,1220.4 1363.5,1218.6 1364.2,1219.4 1364.9,1218.8 1365.6,1217.3 1366.3,1214.4 1367.0,1215.2 1367.7,1217.5 1368.4,1218.5 1369.1,1218.1 1369.8,1215.9 1370.5,1215.7 1370.7,1216.4 1371.2,1218.6 1371.9,1218.6 1372.6,1218.4 1373.3,1218.9 1374.0,1218.5 1374.7,1218.2 1375.4,1219.4 1376.1,1219.3 1376.8,1219.5 1377.5,1220.9 1378.0,1221.7 1378.2,1219.5 1378.9,1219.9 1379.6,1221.0 1380.3,1221.6 1381.0,1221.9 1381.7,1221.3 1382.4,1219.4 1383.1,1217.9 1383.8,1217.1 1384.5,1215.2 1385.2,1215.8 1385.6,1216.8 1385.9,1217.1 1386.6,1216.4 1387.3,1215.7 1388.0,1216.0 1388.7,1215.8 1389.4,1215.7 1390.1,1215.2 1390.8,1216.7 1391.5,1218.0 1392.2,1218.2 1392.9,1220.3 1393.6,1223.0 1394.3,1224.1 1395.0,1223.0 1395.7,1223.1 1396.4,1223.1 1397.1,1222.7 1397.8,1221.9 1398.0,1221.7 1398.5,1222.5 1399.2,1222.9 1399.9,1223.6 1400.6,1221.7 1401.3,1221.7 1402.0,1219.4 1402.7,1221.7 1403.4,1222.1 1404.1,1222.5 1404.8,1222.6 1405.5,1223.9 1406.2,1223.6 1406.9,1221.4 1407.6,1219.6 1408.3,1220.2 1409.0,1220.7 1409.7,1221.6 1410.4,1221.1 1411.1,1220.0 1411.8,1219.5 1412.5,1219.2 1413.2,1221.3 1413.9,1220.4 1414.6,1219.3 1415.3,1218.5 1415.4,1220.6 1416.0,1220.2 1416.7,1220.3 1417.4,1218.5 1418.1,1220.6 1418.8,1221.6 1419.5,1222.8 1420.2,1222.5 1420.9,1222.5 1421.6,1221.4 1422.3,1221.8 1423.0,1222.6 1423.7,1223.5 1424.4,1223.7 1425.1,1225.0 1425.8,1224.3 1426.5,1222.7 1427.2,1222.8 1427.9,1225.3 1428.6,1224.9 1429.3,1222.5 1430.0,1221.2 1430.7,1221.2 1431.4,1220.6 1432.1,1221.2 1432.8,1221.3 1433.5,1220.7 1434.2,1221.3 1434.9,1222.0 1435.3,1221.4 1435.6,1221.8 1436.3,1222.8 1437.0,1221.6 1437.7,1220.6 1438.4,1219.3 1439.1,1219.7 1439.8,1220.0 1440.5,1219.5 1441.2,1216.9 1441.9,1216.5 1442.6,1217.2 1443.3,1217.8 1444.0,1218.6 1444.7,1217.8 1445.0,1215.7 1445.4,1214.2 1446.1,1213.7 1446.8,1214.1 1447.5,1216.1 1448.2,1216.6 1448.9,1214.5 1449.6,1211.5 1450.3,1211.5 1451.0,1211.1 1451.7,1209.8 1452.4,1209.6 1453.1,1211.2 1453.8,1211.8 1454.5,1210.4 1455.0,1209.8 1455.2,1209.8 1455.9,1208.3 1456.6,1205.7 1457.3,1204.3 1458.0,1204.0 1458.7,1203.3 1459.4,1201.9 1460.1,1199.5 1460.8,1198.5 1461.5,1196.4 1462.2,1193.4 1462.6,1192.9 1462.9,1193.5 1463.6,1192.0 1464.3,1187.4 1465.0,1183.0 1465.7,1179.7 1466.4,1177.1 1467.1,1173.6 1467.8,1169.3 1468.5,1164.3 1468.8,1161.9 1469.2,1158.5 1469.9,1153.2 1470.6,1146.5 1471.3,1139.2 1472.0,1131.6 1472.6,1124.3 1472.7,1122.7 1473.4,1111.2 1474.1,1097.8 1474.8,1084.7 1475.5,1075.2 1475.6,1074.8 1476.2,1070.1 1476.9,1064.6 1477.6,1060.6 1478.3,1056.6 1479.0,1052.2 1479.7,1049.5 1480.0,1048.7 1480.4,1048.8 1481.1,1050.8 1481.8,1052.5 1482.5,1056.8 1483.2,1061.9 1483.9,1067.2 1484.6,1071.7 1485.0,1074.3 1485.3,1077.1 1486.0,1085.1 1486.7,1095.1 1487.4,1105.6 1488.1,1116.0 1488.7,1123.2 1488.8,1124.5 1489.5,1132.9 1490.2,1141.4 1490.9,1149.1 1491.6,1156.3 1492.3,1162.7 1493.0,1168.2 1493.7,1172.3 1493.7,1172.5 1494.4,1176.3 1495.1,1180.3 1495.8,1183.6 1496.5,1187.0 1497.2,1189.4 1497.9,1191.4 1498.6,1194.6 1499.3,1197.4 1500.0,1200.1 1500.0,1199.9 1500.7,1202.7 1501.4,1202.8 1502.1,1204.2 1502.8,1207.7 1503.5,1209.9 1504.2,1209.3 1504.9,1209.0 1505.0,1210.7 1505.6,1212.2 1506.3,1211.8 1507.0,1211.1 1507.7,1207.8 1508.4,1207.7 1509.1,1206.7 1509.8,1204.1 1510.5,1200.6 1511.2,1201.1 1511.9,1203.4 1512.3,1203.8 1512.6,1203.4 1513.3,1202.2 1514.0,1204.0 1514.7,1204.9 1515.4,1205.8 1516.1,1205.8 1516.8,1206.6 1517.3,1206.5 1517.5,1206.9 1518.2,1209.5 1518.9,1213.5 1519.6,1217.6 1520.3,1222.0 1521.0,1224.8 1521.0,1225.5 1521.7,1225.5 1522.4,1225.3 1523.1,1227.1 1523.8,1229.4 1524.5,1229.9 1525.2,1230.6 1525.9,1230.5 1526.6,1230.7 1527.3,1229.9 1528.0,1230.2 1528.5,1231.0 1528.7,1230.9 1529.4,1231.8 1530.1,1232.1 1530.8,1230.2 1531.5,1228.6 1532.2,1227.9 1532.9,1230.3 1533.0,1232.3 1533.6,1233.2 1534.3,1232.5 1535.0,1231.0 1535.7,1231.1 1536.4,1231.2 1537.1,1232.6 1537.8,1231.2 1538.5,1231.1 1539.2,1230.6 1539.9,1231.4 1540.6,1231.5 1541.3,1233.2 1542.0,1232.6 1542.7,1230.7 1543.4,1230.8 1544.1,1231.7 1544.8,1232.7 1545.5,1232.8 1546.2,1233.1 1546.9,1232.7 1547.6,1234.4 1548.3,1234.7 1549.0,1234.4 1549.7,1234.3 1550.4,1234.4 1551.1,1234.0 1551.8,1235.0 1552.5,1233.6 1553.2,1234.0 1553.9,1233.1 1554.6,1234.2 1555.3,1232.2 1556.0,1230.9 1556.7,1231.9 1557.4,1232.0 1558.1,1233.4 1558.8,1233.1 1559.5,1234.1 1560.2,1235.2 1560.9,1235.5 1561.6,1234.1 1562.3,1233.8 1563.0,1233.3 1563.0,1233.6 1563.7,1233.6 1564.4,1235.0 1565.1,1234.9 1565.8,1234.6 1566.5,1234.5 1567.2,1235.2 1567.9,1237.2 1568.6,1238.4 1569.3,1237.1 1570.0,1234.6 1570.7,1232.7 1571.4,1232.3 1572.1,1234.0 1572.8,1234.6 1573.5,1235.9 1574.2,1235.5 1574.9,1236.5 1575.6,1237.5 1576.3,1238.6 1577.0,1238.3 1577.7,1237.3 1578.4,1239.3 1579.1,1239.2 1579.8,1238.8 1580.5,1237.6 1581.2,1235.8 1581.9,1236.3 1582.6,1239.2 1583.3,1240.2 1584.0,1239.3 1584.7,1238.4 1585.4,1238.2 1586.1,1236.3 1586.8,1236.7 1587.5,1237.5 1588.2,1239.1 1588.9,1239.4 1589.6,1240.1 1590.3,1239.6 1591.0,1240.2 1591.7,1240.1 1592.4,1240.2 1593.1,1240.9 1593.8,1241.3 1594.5,1241.2 1595.2,1239.5 1595.9,1239.3 1596.6,1241.5 1597.3,1243.6 1598.0,1243.0 1598.7,1241.5 1599.4,1240.1 1600.0,1239.2 1600.1,1239.6 1600.8,1240.4 1601.5,1240.5 1602.2,1240.2 1602.9,1238.8 1603.6,1239.2 1604.3,1239.7 1605.0,1240.7 1605.7,1239.5 1606.4,1241.0 1607.1,1241.7 1607.8,1239.6 1608.5,1237.4 1609.2,1238.9 1609.9,1241.6 1610.6,1242.5 1611.3,1240.9 1612.0,1238.9 1612.7,1239.6 1613.4,1239.7 1614.1,1240.8 1614.8,1241.3 1615.5,1242.9 1616.2,1242.8 1616.9,1242.9 1617.6,1243.4 1618.3,1242.5 1619.0,1241.9 1619.7,1240.9 1620.4,1241.1 1621.1,1240.5 1621.8,1240.2 1622.5,1240.5 1623.2,1239.2 1623.9,1238.2 1624.6,1240.0 1625.3,1243.7 1626.0,1244.7 1626.7,1244.3 1627.4,1242.8 1628.1,1241.3 1628.8,1240.4 1629.5,1240.5 1630.2,1239.3 1630.9,1239.1 1631.6,1239.8 1632.3,1239.6 1633.0,1239.6 1633.7,1240.2 1634.4,1241.4 1635.1,1241.7 1635.8,1241.5 1636.5,1241.5 1637.2,1240.6 1637.9,1240.1 1638.6,1239.9 1639.3,1240.7 1640.0,1241.6 1640.7,1242.9 1641.4,1241.1 1642.1,1240.0 1642.8,1238.2 1643.5,1239.6 1644.2,1239.2 1644.9,1239.8 1645.6,1240.7 1646.3,1241.0 1647.0,1240.9 1647.7,1241.0 1648.4,1241.5 1649.1,1241.5 1649.8,1241.2 1650.0,1240.9 1650.5,1241.7 1651.2,1241.4 1651.9,1240.6 1652.6,1239.6 1653.3,1239.6 1654.0,1240.3 1654.7,1241.0 1655.4,1241.5 1656.1,1241.9 1656.8,1238.6 1657.5,1237.9 1658.2,1238.5 1658.9,1240.9 1659.6,1242.7 1660.3,1244.1 1661.0,1243.3 1661.7,1241.9 1662.4,1241.6 1663.1,1242.5 1663.8,1242.2 1664.5,1241.8 1665.2,1243.2 1665.9,1243.8 1666.6,1244.8 1667.3,1244.0 1668.0,1243.7 1668.7,1243.4 1669.4,1243.5 1670.1,1244.4 1670.8,1244.5 1671.5,1243.1 1672.2,1241.7 1672.9,1242.3 1673.6,1243.2 1674.3,1243.0 1675.0,1242.8 1675.7,1244.6 1676.4,1245.0 1677.1,1243.5 1677.8,1244.2 1678.5,1244.9 1679.2,1245.2 1679.9,1244.0 1680.6,1243.0 1681.3,1241.3 1682.0,1241.9 1682.7,1243.3 1683.4,1243.5 1684.1,1242.2 1684.8,1241.4 1685.5,1241.4 1686.2,1241.1 1686.9,1242.5 1687.6,1243.9 1688.3,1246.2 1689.0,1246.2 1689.7,1244.5 1690.4,1241.7 1691.1,1238.7 1691.8,1238.1 1692.5,1238.8 1693.2,1242.0 1693.9,1243.2 1694.6,1243.2 1695.3,1242.6 1696.0,1242.7 1696.7,1244.0 1697.4,1243.5 1698.1,1242.1 1698.8,1240.4 1699.5,1242.0 1699.6,1244.1 1700.2,1245.8 1700.9,1243.7 1701.6,1243.2 1702.3,1243.1 1703.0,1243.9 1703.7,1243.7 1704.4,1244.5 1705.1,1244.7 1705.8,1244.9 1706.5,1245.2 1707.2,1245.2 1707.9,1243.8 1708.6,1243.9 1709.3,1244.4 1710.0,1244.2 1710.7,1244.7 1711.4,1243.7 1712.1,1242.8 1712.8,1242.7 1713.5,1243.3 1714.2,1244.5 1714.9,1244.0 1715.6,1243.4 1716.3,1240.9 1717.0,1240.1 1717.7,1241.2 1718.4,1241.0 1719.1,1241.1 1719.8,1241.4 1720.5,1242.3 1721.2,1241.0 1721.9,1240.7 1722.6,1240.4 1723.3,1239.9 1724.0,1240.6 1724.4,1241.3 1724.7,1240.6 1725.4,1238.8 1726.1,1238.6 1726.8,1239.2 1727.5,1239.4 1728.2,1238.6 1728.9,1238.5 1729.6,1240.9 1730.3,1242.3 1731.0,1240.9 1731.7,1239.1 1732.4,1237.6 1733.1,1236.7 1733.8,1236.9 1734.5,1239.7 1735.2,1239.3 1735.9,1238.5 1736.6,1236.9 1737.3,1236.1 1738.0,1235.3 1738.7,1234.9 1739.4,1234.0 1740.1,1232.8 1740.8,1233.2 1741.5,1234.7 1741.8,1234.6 1742.2,1234.2 1742.9,1232.3 1743.6,1231.8 1744.3,1232.2 1745.0,1231.2 1745.7,1229.6 1746.4,1227.4 1747.1,1225.5 1747.8,1224.6 1748.5,1223.0 1749.2,1221.4 1749.9,1217.8 1750.6,1216.0 1751.3,1214.3 1751.8,1214.1 1752.0,1215.1 1752.7,1213.0 1753.4,1209.8 1754.1,1207.7 1754.8,1205.1 1755.5,1201.7 1756.2,1198.7 1756.9,1194.4 1757.6,1190.1 1758.3,1185.8 1759.0,1183.2 1759.2,1182.0 1759.7,1179.0 1760.4,1175.0 1761.1,1170.0 1761.8,1166.3 1762.5,1162.7 1763.2,1158.2 1763.9,1154.1 1764.6,1151.1 1765.3,1150.2 1766.0,1149.2 1766.7,1146.8 1766.7,1145.3 1767.4,1146.4 1768.1,1150.4 1768.8,1153.3 1769.5,1156.9 1770.2,1161.1 1770.9,1164.9 1771.6,1168.6 1772.3,1172.9 1773.0,1176.6 1773.7,1180.3 1774.0,1181.9 1774.4,1183.3 1775.1,1186.2 1775.8,1189.7 1776.5,1194.2 1777.2,1198.7 1777.9,1203.1 1778.6,1206.7 1779.3,1210.0 1780.0,1214.0 1780.7,1216.9 1781.4,1218.1 1781.6,1218.8 1782.1,1221.4 1782.8,1224.1 1783.5,1225.4 1784.2,1227.4 1784.9,1231.4 1785.6,1234.4 1786.3,1235.5 1787.0,1236.1 1787.7,1237.2 1788.4,1240.8 1789.1,1241.1 1789.8,1239.6 1790.5,1238.4 1791.2,1239.2 1791.5,1239.7 1791.9,1237.1 1792.6,1237.9 1793.3,1240.3 1794.0,1240.5 1794.7,1240.3 1795.4,1239.4 1796.1,1242.0 1796.8,1242.4 1797.5,1242.3 1798.2,1241.3 1798.9,1241.7 1799.6,1241.5 1800.3,1239.9 1801.0,1238.6 1801.5,1237.3 1801.7,1238.2 1802.4,1239.2 1803.1,1241.0 1803.8,1242.1 1804.5,1243.3 1805.2,1244.4 1805.9,1244.9 1806.5,1246.6 1806.6,1247.8 1807.3,1249.2 1808.0,1249.5 1808.7,1248.7 1809.4,1249.1 1810.1,1248.7 1810.8,1247.9 1811.5,1247.6 1812.2,1249.1 1812.9,1250.0 1813.6,1250.4 1814.3,1248.6 1815.0,1248.4 1815.7,1248.1 1816.4,1250.3 1817.1,1250.9 1817.8,1250.6 1818.5,1250.3 1819.2,1250.9 1819.9,1250.8 1820.6,1250.9 1821.3,1250.7 1822.0,1250.8 1822.7,1250.0 1823.4,1250.1 1824.1,1249.6 1824.8,1249.0 1825.5,1250.6 1826.2,1253.0 1826.9,1253.1 1827.6,1253.3 1828.3,1252.7 1829.0,1252.7 1829.7,1252.6 1830.4,1253.1 1831.1,1253.9 1831.8,1253.9 1832.5,1252.2 1833.2,1251.3 1833.9,1251.0 1834.6,1251.4 1835.3,1248.4 1836.0,1247.6 1836.3,1249.3 1836.7,1251.1 1837.4,1251.3 1838.1,1251.9 1838.8,1251.7 1839.5,1252.0 1840.2,1250.1 1840.9,1249.6 1841.6,1249.7 1842.3,1250.1 1843.0,1250.5 1843.7,1249.6 1844.4,1250.1 1845.1,1250.1 1845.8,1251.3 1846.5,1251.4 1847.2,1249.9 1847.9,1249.0 1848.6,1250.4 1849.3,1251.1 1850.0,1251.9 1850.7,1251.1 1851.4,1252.9 1852.1,1252.1 1852.8,1250.9 1853.5,1249.8 1854.2,1251.3 1854.9,1252.1 1855.6,1251.4 1856.3,1251.5 1857.0,1253.3 1857.7,1254.5 1858.4,1254.3 1859.1,1253.3 1859.8,1253.7 1860.5,1255.3 1861.2,1254.3 1861.9,1254.1 1862.6,1253.6 1863.3,1253.4 1864.0,1253.6 1864.7,1254.3 1865.4,1255.0 1866.1,1254.4 1866.8,1253.9 1867.5,1254.3 1868.2,1254.1 1868.6,1255.7 1868.9,1256.6 1869.6,1255.7 1870.3,1254.2 1871.0,1253.5 1871.7,1254.8 1872.4,1257.2 1873.1,1257.8 1873.8,1256.4 1874.5,1254.5 1875.2,1253.9 1875.9,1253.0 1876.6,1253.3 1877.3,1255.0 1878.0,1256.1 1878.7,1255.1 1879.4,1256.0 1880.1,1255.2 1880.8,1255.6 1881.5,1253.5 1882.2,1251.6 1882.9,1252.1 1883.6,1254.2 1884.3,1255.6 1885.0,1254.2 1885.7,1252.5 1886.0,1251.6"/>
<path class="c" stroke="#ff0000" d="M135.0,529.4 135.7,531.8 136.4,535.2 137.1,534.9 137.8,536.8 138.5,539.2 139.2,543.2 139.9,546.3 140.6,547.4 141.3,546.0 142.0,546.6 142.7,549.3 143.4,550.1 144.1,551.2 144.8,554.1 145.0,553.9 145.5,553.1 146.2,555.5 146.9,557.9 147.6,557.9 148.3,560.1 149.0,565.0 149.7,565.2 150.4,562.8 151.1,563.3 151.8,565.2 152.5,567.5 153.2,568.5 153.9,571.6 154.6,571.2 155.0,569.8 155.3,568.5 156.0,574.4 156.7,579.4 157.4,580.9 158.1,582.2 158.8,586.6 159.5,588.8 160.2,590.2 160.9,592.2 161.6,596.2 162.3,598.5 163.0,600.3 163.7,600.2 164.4,600.9 165.0,600.4 165.1,599.7 165.8,601.7 166.5,604.1 167.2,605.9 167.9,608.0 168.6,610.3 169.3,609.1 170.0,609.8 170.7,609.7 171.4,611.1 172.1,610.2 172.8,613.2 173.5,616.7 174.2,617.1 174.9,615.4 175.0,615.2 175.6,616.2 176.3,620.2 177.0,620.5 177.7,620.2 178.4,618.5 179.1,622.1 179.8,626.1 180.5,628.5 181.2,632.7 181.9,634.0 182.6,632.7 183.3,630.6 184.0,632.3 184.7,635.6 185.4,638.7 186.1,641.3 186.8,642.2 187.0,643.7 187.5,644.2 188.2,644.5 188.9,642.7 189.6,642.5 190.3,642.7 191.0,643.7 191.7,648.1 192.4,653.4 193.1,654.4 193.8,652.9 194.5,651.4 195.2,652.8 195.9,655.6 196.6,657.2 197.3,657.4 198.0,658.8 198.7,659.3 199.4,659.4 199.6,659.3 200.1,661.6 200.8,662.0 201.5,665.2 202.2,668.8 202.9,671.4 203.6,669.7 204.3,667.3 205.0,668.7 205.7,669.5 206.4,670.7 207.1,669.2 207.8,673.0 208.5,678.3 209.2,680.0 209.5,678.5 209.9,678.1 210.6,678.4 211.3,680.2 212.0,680.5 212.7,683.0 213.4,683.0 214.1,684.3 214.8,685.0 215.5,686.1 216.2,689.2 216.9,690.0 217.6,687.7 218.3,688.0 219.0,688.8 219.7,692.0 220.4,691.9 221.1,691.0 221.8,689.7 222.5,692.5 223.2,695.0 223.9,693.8 224.5,694.3 224.6,693.6 225.3,694.3 226.0,694.3 226.7,696.7 227.4,699.1 228.1,700.7 228.8,703.5 229.5,705.2 230.2,705.2 230.9,702.9 231.6,702.6 232.3,704.9 233.0,707.9 233.7,707.2 234.4,708.6 235.1,711.1 235.8,714.3 236.5,711.6 237.2,712.1 237.9,713.1 238.6,716.2 239.3,717.0 239.4,718.0 240.0,717.1 240.7,718.1 241.4,716.5 242.1,715.1 242.8,714.3 243.5,716.7 244.2,718.8 244.9,718.7 245.6,720.2 246.3,720.5 247.0,721.4 247.7,722.4 248.4,724.8 249.1,725.1 249.8,727.9 250.5,730.0 251.2,729.2 251.9,727.5 252.6,729.5 253.3,732.2 254.0,733.2 254.3,732.0 254.7,731.2 255.4,732.3 256.1,733.7 256.8,733.3 257.5,730.1 258.2,729.4 258.9,732.3 259.6,734.8 260.3,734.8 261.0,734.7 261.7,738.2 262.4,741.1 263.1,740.9 263.8,740.9 264.5,741.4 265.2,743.2 265.9,743.6 266.6,745.7 267.3,749.5 268.0,751.5 268.7,747.8 269.0,746.1 269.4,747.1 270.1,749.4 270.8,750.0 271.5,753.0 272.2,754.3 272.9,753.0 273.6,750.6 274.3,751.6 275.0,751.3 275.7,751.0 276.4,751.6 277.1,753.7 277.8,752.6 278.5,750.7 279.2,751.8 279.9,752.3 280.6,753.0 281.3,753.5 281.6,752.5 282.0,751.1 282.7,753.1 283.4,756.6 284.1,755.5 284.8,754.4 285.5,753.3 286.2,751.6 286.9,752.4 287.6,754.8 288.3,757.6 289.0,757.6 289.7,758.6 290.4,757.9 291.1,759.0 291.8,760.7 292.5,761.8 293.2,762.2 293.9,760.6 294.0,759.6 294.6,760.6 295.3,764.9 296.0,767.2 296.7,765.7 297.4,764.2 298.1,763.9 298.8,765.2 299.5,767.0 300.2,767.2 300.9,768.1 301.6,769.5 302.3,768.8 303.0,768.4 303.7,767.3 304.4,769.3 305.1,770.1 305.8,770.9 306.5,770.9 307.2,771.5 307.9,771.4 308.6,772.5 309.0,771.0 309.3,770.6 310.0,771.5 310.7,770.8 311.4,771.1 312.1,771.1 312.8,773.5 313.5,772.4 314.2,773.1 314.9,774.4 315.6,774.1 316.3,774.0 317.0,774.6 317.7,776.7 318.4,777.0 319.1,777.1 319.8,776.4 320.5,778.7 321.2,780.4 321.9,782.4 322.6,781.5 323.3,780.4 324.0,780.5 324.7,782.2 325.4,783.4 326.1,783.5 326.8,780.2 327.5,780.8 328.2,782.8 328.9,784.9 329.0,783.1 329.6,782.8 330.3,781.9 331.0,780.4 331.7,780.5 332.4,780.7 333.1,779.3 333.8,779.5 334.5,781.2 335.2,782.0 335.9,781.7 336.6,779.6 337.3,778.6 338.0,778.3 338.7,779.9 339.4,778.5 340.1,779.3 340.8,780.5 341.5,782.0 342.2,781.1 342.9,781.8 343.6,781.3 343.8,778.6 344.3,777.9 345.0,779.0 345.7,780.8 346.4,780.9 347.1,780.9 347.8,781.6 348.5,784.1 349.2,786.8 349.9,788.1 350.6,788.7 351.3,790.4 352.0,791.1 352.7,791.7 353.4,791.7 354.1,792.2 354.8,793.7 355.5,794.9 356.2,794.4 356.9,791.3 357.6,791.4 358.3,791.6 358.7,791.1 359.0,789.3 359.7,789.6 360.4,790.2 361.1,791.1 361.8,792.3 362.5,795.0 363.2,796.9 363.9,796.9 364.6,795.3 365.3,792.2 366.0,791.2 366.7,791.8 367.4,791.0 368.1,791.3 368.8,792.3 369.5,794.4 370.2,794.2 370.9,794.0 371.6,793.7 372.3,793.3 373.0,792.0 373.7,792.6 374.4,794.7 375.1,796.5 375.8,795.9 376.5,793.4 377.2,794.3 377.9,794.5 378.6,795.4 378.6,795.2 379.3,795.5 380.0,795.6 380.7,796.0 381.4,797.5 382.1,798.3 382.8,798.2 383.5,797.5 384.2,797.9 384.9,797.4 385.6,797.1 386.3,796.1 387.0,794.3 387.7,793.2 388.4,793.6 389.1,794.7 389.8,796.0 390.5,796.4 391.2,796.4 391.9,793.9 392.6,793.9 393.3,793.6 394.0,793.6 394.7,793.2 395.4,795.1 396.1,798.6 396.8,800.1 397.5,798.5 398.2,800.2 398.5,801.4 398.9,800.4 399.6,799.6 400.3,801.7 401.0,802.3 401.7,801.0 402.4,800.8 403.1,800.5 403.8,799.6 404.5,798.7 405.2,798.5 405.9,798.6 406.6,798.6 407.3,796.5 408.0,797.9 408.7,798.5 409.4,799.2 410.1,798.9 410.8,800.0 411.5,798.4 412.2,798.5 412.9,799.8 413.6,802.5 414.3,803.3 415.0,803.7 415.7,802.7 416.4,803.9 417.1,803.2 417.8,804.1 418.3,804.5 418.5,806.1 419.2,806.1 419.9,805.9 420.6,804.0 421.3,803.5 422.0,803.7 422.7,804.7 423.4,802.7 424.1,804.0 424.8,804.2 425.5,803.5 426.2,802.6 426.9,803.1 427.6,803.4 428.3,802.5 429.0,800.8 429.7,801.4 430.4,802.2 431.1,804.3 431.8,806.4 432.5,807.9 433.2,808.2 433.9,807.7 434.6,807.8 435.3,806.7 436.0,805.8 436.7,806.8 437.4,807.2 438.1,806.2 438.8,805.5 439.5,805.9 440.2,805.1 440.7,805.2 440.9,805.8 441.6,806.5 442.3,805.8 443.0,806.1 443.7,804.6 444.4,803.0 445.1,800.1 445.8,798.1 446.5,795.9 447.2,798.1 447.9,799.3 448.6,799.7 449.3,799.9 450.0,801.8 450.7,801.5 451.4,802.4 452.1,803.9 452.8,804.4 453.5,803.1 454.2,800.5 454.9,798.6 455.6,797.4 456.3,795.9 457.0,794.6 457.7,796.5 458.0,798.0 458.4,798.3 459.1,795.2 459.8,796.7 460.5,797.2 461.2,797.3 461.9,795.6 462.6,794.1 463.3,794.1 464.0,795.1 464.7,798.4 465.4,800.8 466.1,800.9 466.8,799.3 467.5,797.4 468.2,794.3 468.9,793.6 469.6,792.2 470.3,792.7 471.0,794.6 471.7,796.6 472.4,797.5 473.1,795.7 473.8,794.3 474.5,791.9 475.2,791.7 475.9,794.0 476.6,795.8 477.3,796.3 478.0,794.3 478.0,792.2 478.7,792.6 479.4,791.7 480.1,791.9 480.8,792.9 481.5,795.1 482.2,793.4 482.9,792.2 483.6,791.0 484.3,791.9 485.0,791.0 485.7,791.4 486.4,790.3 487.1,790.4 487.8,788.8 488.5,786.6 489.2,788.6 489.9,790.9 490.6,792.4 491.3,793.5 492.0,793.4 492.7,793.5 493.4,791.3 494.1,792.3 494.8,791.7 495.5,792.1 496.2,790.4 496.9,789.3 497.6,789.6 498.3,787.6 499.0,785.5 499.7,784.1 500.4,785.1 501.1,784.0 501.8,784.4 502.5,784.5 503.0,784.9 503.2,784.7 503.9,784.3 504.6,784.0 505.3,782.8 506.0,782.9 506.7,783.9 507.4,785.7 508.1,786.0 508.8,785.9 509.5,787.9 510.2,789.8 510.9,788.2 511.6,785.1 512.3,784.1 513.0,784.1 513.7,783.7 514.4,781.9 515.1,783.1 515.8,784.3 516.5,784.5 517.2,782.2 517.9,780.8 518.6,782.1 519.3,783.1 520.0,783.3 520.7,779.8 521.4,778.8 522.1,780.1 522.8,785.1 523.5,785.5 524.2,782.6 524.9,780.7 525.6,781.3 526.3,780.5 527.0,778.9 527.7,781.0 527.7,784.0 528.4,784.4 529.1,782.1 529.8,781.9 530.5,780.9 531.2,780.0 531.9,776.4 532.6,777.8 533.3,778.6 534.0,780.3 534.7,779.2 535.4,778.0 536.1,777.3 536.8,775.2 537.5,775.2 538.2,776.1 538.9,776.7 539.6,774.4 540.3,772.6 541.0,774.0 541.7,774.1 542.4,772.3 543.1,770.2 543.8,767.5 544.5,766.4 545.2,766.4 545.9,767.3 546.6,767.5 547.3,767.3 547.6,768.9 548.0,768.6 548.7,766.7 549.4,766.7 550.1,765.7 550.8,765.2 551.5,763.2 552.2,763.4 552.9,761.9 553.6,762.9 554.3,762.7 555.0,764.9 555.7,764.8 556.4,763.9 557.1,762.7 557.8,763.1 558.5,763.5 559.2,761.7 559.9,761.7 560.6,763.3 561.3,763.4 562.0,760.0 562.7,756.3 563.4,755.1 564.1,758.0 564.8,759.1 565.5,757.7 566.2,755.6 566.9,755.4 567.5,755.1 567.6,753.4 568.3,751.0 569.0,751.6 569.7,752.6 570.4,752.7 571.1,749.9 571.8,748.0 572.5,749.7 573.2,750.6 573.9,747.6 574.6,745.7 575.3,745.0 576.0,741.9 576.7,739.9 577.4,741.2 578.1,741.9 578.8,741.1 579.5,741.2 580.2,740.4 580.9,738.3 581.6,736.5 582.3,736.3 583.0,737.0 583.7,738.7 584.4,738.3 585.0,733.5 585.1,731.2 585.8,730.8 586.5,733.8 587.2,732.8 587.9,735.5 588.6,737.5 589.3,738.1 590.0,736.4 590.7,735.7 591.4,734.6 592.1,734.7 592.8,734.1 593.5,732.4 594.2,731.8 594.9,731.1 595.6,730.0 596.3,729.5 597.0,728.2 597.7,729.4 598.4,728.9 599.1,728.5 599.8,724.8 600.5,725.0 601.2,725.1 601.9,721.8 602.6,720.2 603.3,722.2 604.0,722.1 604.7,721.3 605.4,719.3 606.1,719.7 606.8,718.5 607.0,718.2 607.5,718.1 608.2,719.2 608.9,716.5 609.6,716.0 610.3,713.5 611.0,712.9 611.7,710.8 612.4,711.8 613.1,711.5 613.8,710.3 614.5,709.0 615.2,709.5 615.9,707.9 616.6,709.9 617.3,708.7 617.3,708.7 618.0,707.8 618.7,707.9 619.4,705.3 620.1,703.7 620.8,701.8 621.5,698.7 622.2,698.0 622.9,699.4 623.6,702.2 624.3,701.4 625.0,702.5 625.7,701.2 626.4,702.3 627.1,702.3 627.8,701.3 628.5,700.6 629.2,702.8 629.9,705.5 630.6,705.5 631.3,702.8 632.0,701.0 632.0,697.8 632.7,696.8 633.4,697.5 634.1,697.5 634.8,695.6 635.5,694.3 636.2,692.9 636.9,689.8 637.6,688.1 638.3,685.0 639.0,681.1 639.7,679.0 639.7,681.1 640.4,679.3 641.1,678.0 641.8,676.7 642.5,677.1 643.2,676.6 643.9,678.9 644.6,679.2 645.3,679.1 646.0,677.7 646.7,677.4 647.4,677.1 648.1,678.0 648.8,675.2 649.5,671.8 650.2,670.3 650.9,673.7 651.6,671.5 652.3,669.8 653.0,669.1 653.7,669.0 654.4,664.7 655.1,661.0 655.8,660.1 656.5,661.6 657.0,661.2 657.2,664.0 657.9,663.8 658.6,662.6 659.3,658.3 660.0,655.8 660.7,655.8 661.4,658.6 662.1,659.5 662.8,658.3 663.5,654.7 664.2,654.1 664.9,655.3 665.6,653.7 666.3,651.5 667.0,651.6 667.7,651.0 668.4,646.5 669.1,643.4 669.5,647.0 669.8,647.7 670.5,647.8 671.2,647.7 671.9,647.6 672.6,648.0 673.3,648.0 674.0,647.9 674.7,646.2 675.4,647.1 676.1,644.8 676.8,643.4 677.5,641.7 678.2,643.1 678.9,639.9 679.6,638.4 680.3,636.1 681.0,635.7 681.7,636.5 682.4,638.0 683.1,639.0 683.8,638.1 684.5,640.0 685.2,640.5 685.9,638.1 686.6,634.3 687.3,633.2 688.0,634.7 688.7,636.1 689.4,636.9 689.4,637.1 690.1,635.1 690.8,633.2 691.5,631.1 692.2,629.6 692.9,628.5 693.6,628.7 694.3,625.5 695.0,622.3 695.7,618.4 696.4,618.6 697.1,617.1 697.8,614.5 698.5,614.5 699.2,617.3 699.4,615.0 699.9,616.2 700.6,618.0 701.3,618.6 702.0,615.5 702.7,614.7 703.4,612.7 704.1,612.1 704.8,611.4 705.5,611.0 706.2,607.6 706.9,609.3 707.6,608.1 708.3,608.8 709.0,609.9 709.7,611.6 710.4,612.2 711.1,612.1 711.8,611.9 712.5,612.1 713.2,611.1 713.9,608.9 714.3,607.9 714.6,608.1 715.3,607.4 716.0,605.6 716.7,603.2 717.4,602.3 718.1,602.7 718.8,600.1 719.5,597.3 720.2,595.2 720.9,597.0 721.6,597.0 722.3,596.7 723.0,594.9 723.7,595.6 724.4,594.5 725.1,591.0 725.5,590.5 725.8,592.8 726.5,595.1 727.2,592.7 727.9,594.3 728.6,594.4 729.3,595.3 730.0,593.9 730.7,591.9 731.4,588.4 732.1,589.2 732.8,591.1 733.5,591.7 734.2,591.8 734.9,592.3 735.6,591.3 736.3,589.3 737.0,589.0 737.7,587.2 738.4,586.0 739.0,588.1 739.1,587.2 739.8,586.4 740.5,585.9 741.2,588.8 741.9,588.9 742.6,587.8 743.3,587.0 744.0,586.9 744.7,588.4 745.4,589.2 746.1,589.9 746.8,590.9 747.5,591.8 748.2,593.0 748.9,592.6 749.6,593.3 750.3,593.2 751.0,593.7 751.6,591.4 751.7,589.7 752.4,588.7 753.1,591.0 753.8,594.5 754.5,597.1 755.2,596.9 755.9,597.2 756.6,596.1 757.3,595.0 758.0,595.9 758.7,600.2 759.4,602.8 760.1,602.8 760.8,604.1 761.5,606.8 761.5,607.0 762.2,610.0 762.9,612.8 763.6,613.2 764.3,612.1 765.0,612.0 765.7,614.1 766.4,612.5 767.1,612.1 767.8,611.9 768.5,613.8 769.2,616.5 769.9,616.5 770.6,617.1 771.3,617.6 772.0,620.5 772.7,623.4 773.4,624.4 774.0,626.8 774.1,624.8 774.8,625.3 775.5,625.2 776.2,628.3 776.9,629.4 777.6,629.7 778.3,631.6 779.0,634.4 779.7,636.3 780.4,637.5 781.1,640.9 781.4,641.5 781.8,645.5 782.5,649.9 783.2,653.9 783.9,652.8 784.6,651.7 785.3,652.2 786.0,653.9 786.7,656.2 787.4,656.1 788.1,658.3 788.8,659.2 789.5,660.2 790.2,659.2 790.9,660.6 791.3,662.5 791.6,665.6 792.3,668.1 793.0,670.0 793.7,673.0 794.4,675.5 795.1,673.9 795.8,675.3 796.5,677.0 797.2,678.7 797.9,676.2 798.6,677.5 798.8,678.4 799.3,678.5 800.0,676.8 800.7,674.5 801.4,671.6 802.1,667.8 802.8,664.8 803.5,664.4 803.8,665.6 804.2,664.2 804.9,663.3 805.6,665.6 806.3,668.5 807.0,670.3 807.7,671.3 808.4,674.8 808.7,674.9 809.1,678.1 809.8,683.3 810.5,690.6 811.2,697.6 811.9,704.4 812.5,709.0 812.6,709.3 813.3,712.3 814.0,714.8 814.7,717.1 815.4,720.2 816.1,721.1 816.8,721.4 817.5,723.1 818.2,726.2 818.9,727.7 819.6,727.6 820.3,730.4 821.0,732.6 821.0,732.8 821.7,734.3 822.4,736.9 823.1,738.7 823.8,742.6 824.5,747.7 825.2,752.3 825.9,755.1 826.6,756.3 827.3,757.4 828.0,758.5 828.6,758.0 828.7,758.2 829.4,760.0 830.1,762.6 830.8,760.7 831.5,761.3 832.2,762.1 832.9,764.1 833.6,766.9 834.3,768.8 835.0,768.2 835.7,768.2 836.4,769.9 837.1,770.8 837.8,772.9 838.5,778.4 839.2,781.1 839.9,779.2 840.6,779.2 841.0,779.1 841.3,779.2 842.0,780.9 842.7,785.0 843.4,785.2 844.1,783.9 844.8,785.7 845.5,789.8 846.2,791.3 846.9,793.3 847.6,794.3 848.3,793.7 849.0,795.5 849.7,798.0 850.4,799.4 851.0,798.3 851.1,799.1 851.8,800.9 852.5,803.6 853.2,805.7 853.9,807.6 854.6,809.1 855.3,809.7 856.0,808.4 856.7,808.8 857.4,811.8 858.1,817.7 858.8,819.4 859.5,817.5 860.2,815.7 860.9,818.5 861.6,819.7 862.3,819.7 863.0,819.3 863.4,819.0 863.7,820.3 864.4,823.8 865.1,825.6 865.8,824.8 866.5,824.5 867.2,826.5 867.9,828.3 868.6,827.9 869.3,827.5 870.0,828.7 870.7,829.6 871.4,828.7 872.1,829.0 872.8,829.8 873.5,831.9 874.2,831.8 874.9,831.8 875.6,831.4 876.0,831.5 876.3,831.5 877.0,832.7 877.7,834.0 878.4,836.3 879.1,836.5 879.8,837.4 880.5,837.4 881.2,841.4 881.9,843.4 882.6,843.6 883.3,843.6 884.0,844.7 884.7,844.6 885.4,845.4 886.1,847.0 886.8,849.3 887.5,850.2 888.2,851.0 888.3,849.4 888.9,847.6 889.6,848.2 890.3,848.8 891.0,850.9 891.7,850.8 892.4,851.3 893.1,850.8 893.8,852.1 894.5,854.2 895.2,855.8 895.9,855.6 896.6,856.7 897.3,857.2 898.0,856.9 898.7,855.4 899.4,858.1 900.1,859.8 900.8,860.2 901.5,858.8 902.2,859.4 902.9,861.3 903.6,863.5 904.3,863.2 905.0,863.2 905.7,863.1 905.7,862.5 906.4,863.5 907.1,864.3 907.8,864.2 908.5,864.1 909.2,865.4 909.9,866.1 910.6,867.5 911.3,868.3 912.0,868.1 912.7,868.4 913.4,870.1 914.1,871.6 914.8,874.2 915.5,874.1 916.2,874.2 916.9,875.1 917.6,876.3 918.3,875.0 919.0,875.9 919.7,878.1 920.4,877.0 921.1,877.0 921.8,877.0 922.5,877.6 923.0,878.3 923.2,879.8 923.9,879.8 924.6,878.8 925.3,879.4 926.0,879.8 926.7,880.9 927.4,882.0 928.1,882.6 928.8,883.4 929.5,885.2 930.2,885.4 930.9,884.8 931.6,884.8 932.3,885.5 933.0,885.4 933.7,883.0 934.4,884.3 935.1,885.9 935.8,887.3 936.5,886.6 937.2,886.1 937.9,885.7 938.6,885.3 939.3,885.4 940.0,886.5 940.7,888.7 941.4,888.8 942.1,888.2 942.8,886.5 943.5,888.1 944.2,888.1 944.9,889.5 945.5,890.5 945.6,891.7 946.3,891.8 947.0,889.9 947.7,888.8 948.4,887.6 949.1,889.1 949.8,889.8 950.5,890.4 951.2,891.6 951.9,892.0 952.6,892.0 953.3,890.2 954.0,889.3 954.7,889.1 955.4,891.4 956.1,892.2 956.8,891.9 957.5,890.7 958.2,891.9 958.9,892.0 959.6,893.2 960.3,891.0 961.0,890.6 961.7,891.8 962.4,893.7 963.1,894.7 963.8,895.3 964.5,894.3 965.2,894.2 965.9,896.2 966.6,897.1 967.3,896.5 967.8,896.8 968.0,896.7 968.7,898.0 969.4,898.0 970.1,897.1 970.8,895.4 971.5,895.8 972.2,896.8 972.9,897.0 973.6,897.4 974.3,898.5 975.0,899.8 975.7,900.7 976.4,898.6 977.1,896.9 977.8,898.1 978.5,900.1 979.2,900.0 979.9,899.8 980.6,900.9 981.3,902.8 982.0,903.5 982.7,903.0 983.4,903.2 984.1,903.0 984.8,904.1 985.5,902.6 986.2,902.4 986.9,902.2 987.6,904.3 987.7,906.1 988.3,908.6 989.0,908.0 989.7,906.0 990.4,905.3 991.1,905.7 991.8,906.2 992.5,905.4 993.2,904.6 993.9,904.6 994.6,907.4 995.3,908.5 996.0,909.2 996.7,910.6 997.4,909.9 998.1,907.3 998.8,904.9 999.5,906.0 1000.2,906.5 1000.9,907.4 1001.6,908.8 1002.3,909.5 1003.0,909.9 1003.7,909.4 1004.4,909.3 1005.1,910.0 1005.8,910.5 1006.5,911.0 1007.2,910.7 1007.9,909.2 1008.6,909.6 1009.3,910.6 1010.0,912.0 1010.7,909.9 1011.4,909.2 1012.1,909.4 1012.6,907.9 1012.8,905.9 1013.5,907.0 1014.2,910.3 1014.9,911.1 1015.6,911.1 1016.3,910.8 1017.0,909.2 1017.7,908.1 1018.4,908.1 1019.1,910.5 1019.8,910.9 1020.5,910.2 1021.2,910.2 1021.9,909.4 1022.6,907.9 1023.3,907.8 1024.0,910.4 1024.7,911.5 1025.4,909.8 1026.1,909.9 1026.8,909.5 1027.5,911.6 1028.2,912.7 1028.9,913.7 1029.6,914.8 1030.3,915.1 1031.0,915.4 1031.7,916.7 1032.4,916.8 1033.1,916.4 1033.8,915.7 1034.5,916.0 1035.2,915.1 1035.9,914.9 1036.6,914.4 1037.3,913.3 1037.4,913.2 1038.0,913.6 1038.7,915.0 1039.4,915.6 1040.1,916.0 1040.8,914.1 1041.5,913.8 1042.2,915.2 1042.9,916.3 1043.6,916.3 1044.3,916.0 1045.0,914.9 1045.7,914.5 1046.4,913.9 1047.1,914.2 1047.8,915.2 1048.5,915.8 1049.2,917.9 1049.9,917.2 1050.0,917.6 1050.6,916.0 1051.3,916.6 1052.0,916.2 1052.7,916.3 1053.4,915.9 1054.1,916.3 1054.8,916.4 1055.5,917.8 1056.2,918.2 1056.9,917.8 1057.6,917.4 1058.3,918.5 1059.0,919.4 1059.7,918.1 1060.4,917.0 1061.1,915.6 1061.8,916.7 1062.5,917.0 1063.2,921.2 1063.9,922.4 1064.6,922.6 1065.3,921.2 1066.0,919.7 1066.7,917.9 1067.4,917.9 1068.1,918.5 1068.8,916.6 1069.5,915.7 1070.2,914.8 1070.9,913.5 1071.6,912.8 1072.3,915.2 1073.0,914.5 1073.7,913.4 1074.4,913.3 1075.0,913.8 1075.1,914.2 1075.8,914.4 1076.5,914.1 1077.2,912.8 1077.9,911.8 1078.6,912.7 1079.3,912.6 1080.0,913.8 1080.7,913.7 1081.4,913.8 1082.1,915.0 1082.8,915.3 1083.5,916.2 1084.2,915.6 1084.9,916.7 1085.6,919.2 1086.3,919.2 1087.0,918.3 1087.7,916.7 1088.4,919.3 1089.1,919.5 1089.8,917.3 1090.5,917.4 1091.2,917.8 1091.9,919.1 1092.6,916.8 1093.3,916.7 1094.0,916.5 1094.7,918.0 1095.4,920.2 1096.1,920.3 1096.8,920.2 1097.5,919.5 1098.2,919.9 1098.9,919.9 1099.6,920.2 1100.0,920.3 1100.3,920.0 1101.0,919.7 1101.7,920.6 1102.4,919.4 1103.1,920.2 1103.8,919.8 1104.5,920.2 1105.2,919.9 1105.9,920.5 1106.6,918.5 1107.3,919.2 1108.0,918.9 1108.7,918.2 1109.4,916.5 1110.1,919.1 1110.8,920.9 1111.5,920.4 1112.2,918.4 1112.9,918.9 1113.6,919.1 1114.3,919.4 1115.0,918.7 1115.7,921.5 1116.4,923.0 1117.1,923.0 1117.8,921.1 1118.5,919.8 1119.2,919.3 1119.9,920.4 1120.6,919.6 1121.3,918.8 1122.0,919.9 1122.7,919.9 1123.4,919.2 1124.1,919.8 1124.6,920.6 1124.8,919.7 1125.5,919.6 1126.2,919.8 1126.9,919.8 1127.6,919.4 1128.3,919.2 1129.0,918.7 1129.7,920.0 1130.4,920.3 1131.1,919.7 1131.8,921.8 1132.5,924.1 1133.2,922.0 1133.9,921.1 1134.6,920.7 1135.3,921.5 1136.0,920.5 1136.7,921.4 1137.4,922.4 1138.1,923.7 1138.8,923.2 1139.5,921.7 1140.2,921.4 1140.9,922.8 1141.6,924.8 1142.3,924.6 1143.0,924.3 1143.7,922.9 1144.4,922.2 1145.1,921.6 1145.8,922.2 1146.5,922.1 1147.2,920.5 1147.9,920.5 1148.6,921.9 1149.3,922.3 1149.4,921.5 1150.0,920.6 1150.7,920.5 1151.4,921.1 1152.1,920.9 1152.8,920.5 1153.5,921.9 1154.2,921.9 1154.9,922.6 1155.6,923.0 1156.3,923.1 1157.0,921.7 1157.7,921.1 1158.4,922.0 1159.1,922.6 1159.8,921.4 1160.5,919.3 1161.2,919.3 1161.9,921.0 1162.6,921.6 1163.3,921.5 1164.0,922.3 1164.7,921.0 1165.4,920.9 1166.1,919.2 1166.8,919.6 1167.5,920.6 1168.2,920.8 1168.9,919.7 1169.6,918.7 1170.3,919.0 1171.0,917.9 1171.7,917.6 1172.4,917.3 1173.1,918.2 1173.8,920.1 1174.3,921.0 1174.5,918.8 1175.2,919.6 1175.9,921.5 1176.6,922.8 1177.3,920.2 1178.0,918.9 1178.7,918.7 1179.4,919.1 1180.1,919.9 1180.8,921.1 1181.5,921.6 1182.2,919.2 1182.9,917.7 1183.6,916.6 1184.3,917.1 1185.0,918.0 1185.7,918.0 1186.4,917.7 1187.1,918.0 1187.8,918.9 1188.5,918.8 1189.2,917.4 1189.9,917.0 1190.6,918.9 1191.3,920.0 1192.0,919.6 1192.7,917.9 1193.4,918.9 1194.1,919.8 1194.8,919.7 1195.5,919.0 1196.2,918.9 1196.9,920.1 1197.6,920.3 1198.3,919.6 1199.0,919.1 1199.0,917.2 1199.7,916.8 1200.4,916.8 1201.1,915.7 1201.8,913.6 1202.5,913.3 1203.2,913.6 1203.9,914.3 1204.6,915.2 1205.3,915.7 1206.0,915.5 1206.7,915.8 1207.4,916.9 1208.1,917.8 1208.8,918.4 1209.5,918.1 1210.2,916.6 1210.9,915.9 1211.6,915.4 1212.3,915.8 1213.0,915.6 1213.7,915.7 1214.4,917.0 1215.1,917.0 1215.8,916.2 1216.5,914.6 1217.2,916.9 1217.9,918.9 1218.6,919.4 1219.3,917.9 1220.0,916.7 1220.7,915.8 1221.4,915.6 1222.1,915.9 1222.8,914.8 1223.5,913.7 1224.0,914.1 1224.2,914.6 1224.9,914.1 1225.6,912.5 1226.3,913.3 1227.0,914.5 1227.7,914.1 1228.4,912.6 1229.1,912.7 1229.8,912.4 1230.5,912.0 1231.2,911.1 1231.9,914.1 1232.6,914.4 1233.3,913.5 1234.0,912.0 1234.7,912.3 1235.4,913.9 1236.1,912.3 1236.8,910.5 1237.5,909.0 1238.2,910.2 1238.9,911.2 1239.6,911.0 1240.3,909.8 1241.0,908.2 1241.7,906.9 1242.4,908.5 1243.1,909.1 1243.8,909.4 1244.5,907.3 1245.2,907.9 1245.9,908.7 1246.6,911.7 1247.3,911.6 1248.0,910.9 1248.7,908.6 1249.0,908.1 1249.4,906.5 1250.1,906.9 1250.8,906.5 1251.5,907.1 1252.2,906.8 1252.9,907.2 1253.6,907.7 1254.3,907.8 1255.0,908.2 1255.7,907.9 1256.4,908.1 1257.1,907.6 1257.8,906.9 1258.5,906.3 1259.2,906.0 1259.9,905.4 1260.6,906.1 1261.3,906.8 1262.0,907.8 1262.7,906.2 1263.4,903.8 1264.1,902.1 1264.8,903.2 1265.5,904.5 1266.2,903.5 1266.9,902.8 1267.6,902.8 1268.3,902.7 1269.0,903.0 1269.7,902.9 1270.4,902.0 1271.1,900.5 1271.8,899.3 1272.5,898.6 1273.2,896.6 1273.7,896.4 1273.9,898.0 1274.6,898.9 1275.3,898.9 1276.0,897.4 1276.7,896.7 1277.4,895.9 1278.1,895.2 1278.8,894.4 1279.5,894.1 1280.2,895.1 1280.9,894.2 1281.6,892.9 1282.3,893.9 1283.0,895.5 1283.7,894.7 1284.4,893.9 1285.1,894.7 1285.8,895.7 1286.5,895.2 1287.2,892.4 1287.9,892.7 1288.6,892.7 1289.3,892.8 1290.0,891.1 1290.7,892.3 1291.4,894.6 1292.1,894.2 1292.8,892.7 1293.5,890.7 1294.2,888.6 1294.9,888.5 1295.6,889.7 1296.3,889.8 1297.0,888.5 1297.7,888.4 1298.4,889.2 1298.6,890.3 1299.1,891.6 1299.8,890.2 1300.5,886.7 1301.2,884.6 1301.9,883.4 1302.6,884.0 1303.3,884.6 1304.0,884.6 1304.7,883.8 1305.4,885.7 1306.1,886.5 1306.8,886.9 1307.5,887.1 1308.2,887.6 1308.9,887.5 1309.6,888.2 1310.3,886.8 1311.0,885.5 1311.7,884.2 1312.4,885.5 1313.1,885.4 1313.8,884.8 1314.5,883.6 1315.2,882.1 1315.9,883.3 1316.6,882.7 1317.3,882.1 1318.0,879.7 1318.7,879.4 1319.4,880.3 1320.1,880.9 1320.8,881.6 1321.5,881.1 1322.2,881.1 1322.9,881.3 1323.4,880.4 1323.6,880.4 1324.3,879.9 1325.0,878.9 1325.7,877.7 1326.4,878.2 1327.1,880.8 1327.8,880.6 1328.5,881.4 1329.2,882.2 1329.9,883.4 1330.6,883.3 1331.3,882.2 1332.0,879.8 1332.7,878.9 1333.4,879.0 1334.1,880.1 1334.8,879.2 1335.5,876.6 1336.2,876.0 1336.9,877.0 1337.6,877.2 1338.3,876.5 1339.0,877.5 1339.7,879.2 1340.4,879.8 1341.1,880.9 1341.8,879.8 1342.5,877.5 1343.2,878.2 1343.9,880.6 1344.6,881.6 1345.3,879.4 1346.0,877.6 1346.7,877.2 1347.4,879.7 1348.1,880.9 1348.3,878.9 1348.8,876.6 1349.5,875.1 1350.2,877.1 1350.9,876.8 1351.6,878.7 1352.3,879.7 1353.0,880.4 1353.7,878.2 1354.4,875.8 1355.1,876.1 1355.8,877.0 1356.5,877.6 1357.2,876.7 1357.9,877.6 1358.6,878.5 1359.3,878.4 1360.0,876.7 1360.7,877.0 1361.4,876.5 1362.1,877.5 1362.8,878.3 1363.5,879.1 1364.2,876.9 1364.9,878.2 1365.6,877.7 1366.3,878.9 1367.0,878.4 1367.7,879.0 1368.0,879.3 1368.4,878.7 1369.1,877.8 1369.8,876.4 1370.5,877.4 1371.2,876.8 1371.9,876.1 1372.6,876.8 1373.3,877.8 1374.0,877.8 1374.7,877.3 1375.4,879.4 1376.1,881.4 1376.8,884.2 1377.5,882.9 1378.2,881.4 1378.9,880.8 1379.6,881.1 1380.3,881.6 1381.0,881.6 1381.7,882.6 1382.4,883.5 1383.1,884.0 1383.8,885.9 1384.5,886.5 1385.2,885.9 1385.6,884.4 1385.9,882.9 1386.6,883.7 1387.3,882.9 1388.0,883.3 1388.7,884.2 1389.4,885.2 1390.1,885.0 1390.8,884.0 1391.5,884.2 1392.2,886.2 1392.9,886.1 1393.6,884.8 1394.3,884.3 1395.0,884.9 1395.7,884.6 1396.4,885.3 1397.1,887.4 1397.8,886.8 1398.5,885.3 1399.2,884.7 1399.9,884.3 1400.6,886.3 1401.3,888.8 1402.0,890.3 1402.7,889.2 1403.4,887.9 1404.1,888.2 1404.8,887.5 1405.5,888.0 1406.2,887.0 1406.9,888.0 1407.6,887.6 1408.3,887.3 1409.0,887.5 1409.7,886.5 1410.4,886.6 1410.4,887.9 1411.1,887.2 1411.8,887.9 1412.5,887.7 1413.2,889.2 1413.9,888.6 1414.6,888.7 1415.3,888.7 1416.0,888.7 1416.7,890.6 1417.4,891.2 1418.1,891.6 1418.8,892.6 1419.5,894.2 1420.2,894.6 1420.9,894.7 1421.6,894.2 1422.3,893.7 1423.0,894.1 1423.7,894.7 1424.4,895.6 1425.1,896.9 1425.8,897.8 1426.5,896.7 1427.2,895.1 1427.9,894.5 1428.6,894.1 1429.3,893.5 1430.0,894.5 1430.7,896.5 1431.4,896.4 1432.1,897.1 1432.8,897.0 1433.5,898.7 1434.2,898.3 1434.9,898.8 1435.3,898.5 1435.6,899.3 1436.3,900.4 1437.0,900.0 1437.7,898.9 1438.4,898.7 1439.1,898.9 1439.8,898.5 1440.5,898.9 1441.2,898.2 1441.9,898.1 1442.6,900.1 1443.3,901.0 1444.0,900.8 1444.7,899.8 1445.4,901.2 1446.1,902.0 1446.8,902.9 1447.5,903.8 1448.2,902.4 1448.9,900.8 1449.6,901.7 1450.3,903.7 1451.0,904.4 1451.7,902.7 1452.4,902.6 1453.1,904.4 1453.8,905.4 1454.5,906.9 1455.2,906.5 1455.9,906.6 1456.6,905.9 1457.3,905.2 1458.0,905.3 1458.7,906.5 1459.4,907.4 1460.0,906.2 1460.1,906.2 1460.8,904.9 1461.5,904.8 1462.2,901.9 1462.9,901.0 1463.6,901.5 1464.3,904.5 1465.0,905.9 1465.7,904.3 1466.4,905.7 1467.1,907.3 1467.8,908.3 1468.5,908.0 1469.2,908.2 1469.9,911.0 1470.6,911.5 1471.3,909.9 1472.0,908.3 1472.7,910.2 1473.4,912.0 1474.1,912.9 1474.8,912.2 1475.5,912.9 1476.2,913.6 1476.9,912.5 1477.6,910.3 1478.3,910.4 1479.0,911.8 1479.7,912.8 1480.4,912.9 1481.1,913.7 1481.8,912.3 1482.5,910.7 1483.2,910.1 1483.9,910.2 1484.6,909.7 1485.0,908.8 1485.3,910.0 1486.0,912.2 1486.7,913.4 1487.4,913.0 1488.1,913.0 1488.8,913.1 1489.5,914.3 1490.2,913.5 1490.9,913.9 1491.6,913.5 1492.3,914.3 1493.0,915.6 1493.7,917.4 1494.4,918.2 1495.1,916.9 1495.8,917.4 1496.5,915.7 1497.2,915.7 1497.9,914.6 1498.6,913.7 1499.3,914.2 1500.0,913.6 1500.7,912.3 1501.4,912.8 1502.1,914.2 1502.8,913.4 1503.5,911.5 1504.2,912.4 1504.9,912.4 1505.6,913.6 1506.3,913.4 1507.0,914.4 1507.7,914.3 1508.4,913.2 1509.1,911.4 1509.8,912.2 1510.0,913.9 1510.5,913.3 1511.2,913.9 1511.9,914.5 1512.6,915.7 1513.3,913.9 1514.0,913.8 1514.7,914.7 1515.4,916.4 1516.1,916.4 1516.8,914.5 1517.5,913.6 1518.2,913.6 1518.9,914.9 1519.6,915.1 1520.3,914.6 1521.0,914.7 1521.7,915.7 1522.4,915.6 1523.1,915.9 1523.8,915.6 1524.5,916.8 1525.2,917.1 1525.9,917.2 1526.6,915.2 1527.3,914.6 1528.0,916.3 1528.5,918.4 1528.7,918.8 1529.4,918.3 1530.1,917.8 1530.8,916.7 1531.5,916.5 1532.2,918.1 1532.9,918.4 1533.6,917.8 1534.3,917.5 1535.0,917.3 1535.7,916.8 1536.4,916.5 1537.1,916.5 1537.8,915.3 1538.5,914.0 1539.2,913.7 1539.9,915.3 1540.6,914.9 1541.3,914.4 1542.0,913.6 1542.7,916.2 1543.4,918.1 1544.1,919.6 1544.8,918.0 1545.5,917.1 1546.2,916.3 1546.9,917.4 1547.6,917.3 1548.3,916.9 1549.0,918.6 1549.7,920.0 1550.4,919.1 1551.1,916.1 1551.8,915.9 1552.5,916.8 1553.2,917.9 1553.9,919.6 1554.6,921.3 1555.3,921.2 1556.0,921.0 1556.7,920.9 1557.4,920.7 1558.1,920.0 1558.8,919.7 1559.5,919.4 1560.2,918.9 1560.9,918.0 1561.6,917.9 1562.3,918.6 1563.0,919.8 1563.0,919.9 1563.7,920.8 1564.4,921.2 1565.1,920.4 1565.8,920.4 1566.5,920.1 1567.2,921.0 1567.9,921.1 1568.6,921.1 1569.3,920.6 1570.0,919.8 1570.7,919.9 1571.4,920.1 1572.1,921.0 1572.8,921.6 1573.5,920.4 1574.2,920.4 1574.9,920.2 1575.6,920.9 1576.3,921.8 1577.0,923.0 1577.7,922.7 1578.4,924.0 1579.1,923.7 1579.8,923.2 1580.5,920.4 1581.2,921.9 1581.9,922.2 1582.6,922.8 1583.3,922.1 1584.0,922.1 1584.7,921.9 1585.4,923.1 1586.1,923.4 1586.8,923.7 1587.5,923.1 1588.2,923.2 1588.9,922.5 1589.6,922.9 1590.3,923.9 1591.0,924.5 1591.7,924.3 1592.4,924.7 1593.1,924.2 1593.8,924.8 1594.5,924.7 1595.2,924.8 1595.9,925.1 1596.6,926.5 1597.3,926.7 1598.0,925.1 1598.7,923.8 1599.4,923.5 1600.0,924.7 1600.1,925.9 1600.8,926.9 1601.5,928.1 1602.2,927.2 1602.9,926.0 1603.6,925.4 1604.3,926.7 1605.0,926.2 1605.7,925.4 1606.4,925.7 1607.1,927.3 1607.8,928.6 1608.5,929.1 1609.2,929.2 1609.9,927.7 1610.6,927.4 1611.3,926.1 1612.0,927.3 1612.7,927.2 1613.4,927.0 1614.1,927.0 1614.8,928.1 1615.5,929.3 1616.2,929.1 1616.9,926.7 1617.6,925.9 1618.3,926.5 1619.0,928.2 1619.7,926.3 1620.4,926.5 1621.1,926.9 1621.8,927.6 1622.5,927.1 1623.2,927.2 1623.9,926.9 1624.6,926.6 1625.3,927.2 1626.0,927.6 1626.7,927.6 1627.4,928.0 1628.1,927.4 1628.8,928.5 1629.5,928.4 1630.2,928.4 1630.9,927.1 1631.6,926.3 1632.3,926.0 1633.0,925.9 1633.7,929.1 1634.4,931.0 1635.1,931.1 1635.8,930.2 1636.5,929.2 1637.2,929.8 1637.9,929.8 1638.6,930.4 1639.3,930.6 1640.0,930.6 1640.7,930.2 1641.4,929.7 1642.1,929.2 1642.8,928.9 1643.5,929.4 1644.2,929.4 1644.9,929.0 1645.6,929.7 1646.3,930.3 1647.0,928.5 1647.7,927.3 1648.4,927.3 1649.1,928.2 1649.8,929.1 1650.5,928.6 1651.2,927.5 1651.9,926.2 1652.6,926.5 1653.3,928.3 1654.0,930.2 1654.7,930.0 1655.4,928.7 1656.1,928.6 1656.8,930.4 1657.5,930.1 1658.2,930.3 1658.9,929.1 1659.6,929.8 1660.3,929.6 1661.0,929.6 1661.7,929.6 1662.4,929.7 1663.1,929.3 1663.8,928.9 1664.5,928.7 1665.2,929.6 1665.9,930.5 1666.6,930.1 1667.3,930.0 1668.0,929.5 1668.7,930.2 1669.4,930.5 1670.1,931.3 1670.8,931.6 1671.5,931.3 1672.2,931.2 1672.9,930.9 1673.6,931.2 1674.3,930.9 1674.7,931.5 1675.0,932.1 1675.7,933.0 1676.4,932.4 1677.1,931.5 1677.8,930.5 1678.5,931.3 1679.2,932.5 1679.9,933.3 1680.6,931.6 1681.3,931.2 1682.0,931.9 1682.7,932.9 1683.4,932.8 1684.1,931.1 1684.8,929.5 1685.5,929.9 1686.2,931.6 1686.9,930.9 1687.6,930.2 1688.3,929.6 1689.0,931.9 1689.7,932.5 1690.4,932.8 1691.1,931.5 1691.8,931.1 1692.5,932.8 1693.2,933.4 1693.9,933.2 1694.6,932.5 1695.3,931.7 1696.0,932.6 1696.7,932.2 1697.4,932.0 1698.1,929.4 1698.8,930.5 1699.5,933.6 1700.2,933.7 1700.9,933.6 1701.6,933.1 1702.3,934.1 1703.0,932.6 1703.7,933.0 1704.4,934.6 1705.1,935.1 1705.8,934.2 1706.5,933.6 1707.2,934.5 1707.9,934.6 1708.6,932.2 1709.3,931.6 1710.0,931.9 1710.7,932.9 1711.4,933.4 1712.1,933.3 1712.8,932.3 1713.5,932.6 1714.2,933.5 1714.9,935.6 1715.6,935.1 1716.3,935.4 1717.0,934.1 1717.7,934.3 1718.4,934.6 1719.1,935.7 1719.8,935.3 1720.5,934.6 1721.2,935.5 1721.9,936.2 1722.6,936.9 1723.3,937.4 1724.0,938.0 1724.7,938.0 1725.4,938.5 1726.1,939.4 1726.8,938.2 1727.5,938.7 1728.2,939.2 1728.9,938.3 1729.6,936.4 1730.3,934.5 1731.0,935.2 1731.7,933.8 1732.4,934.7 1733.1,936.5 1733.8,937.2 1734.5,937.2 1735.2,936.7 1735.9,936.5 1736.6,936.1 1737.3,936.2 1738.0,936.2 1738.7,936.5 1739.4,937.0 1740.1,937.9 1740.8,936.6 1741.5,936.2 1742.2,935.2 1742.9,934.9 1743.6,934.5 1744.3,935.9 1745.0,936.9 1745.7,937.9 1746.4,938.6 1747.1,939.8 1747.8,939.0 1748.5,937.3 1749.2,935.7 1749.3,934.9 1749.9,935.8 1750.6,936.4 1751.3,936.5 1752.0,935.9 1752.7,937.0 1753.4,936.6 1754.1,936.7 1754.8,936.4 1755.5,937.1 1756.2,937.4 1756.9,938.4 1757.6,939.5 1758.3,938.0 1759.0,936.9 1759.7,936.2 1760.4,937.3 1761.1,938.4 1761.8,938.6 1762.5,937.6 1763.2,937.3 1763.9,939.0 1764.6,939.0 1765.3,937.7 1766.0,936.4 1766.7,937.2 1767.4,938.4 1768.1,941.2 1768.8,941.4 1769.5,940.9 1770.2,938.3 1770.9,939.4 1771.6,939.2 1772.3,939.5 1773.0,940.0 1773.7,940.3 1774.4,939.8 1775.1,939.7 1775.8,941.6 1776.5,942.0 1777.2,941.3 1777.9,942.3 1778.6,941.7 1779.3,940.7 1780.0,939.2 1780.7,939.2 1781.4,939.4 1782.1,939.3 1782.8,939.3 1783.5,938.1 1784.2,937.3 1784.9,937.1 1785.6,938.2 1786.3,939.7 1787.0,939.2 1787.7,939.9 1788.4,941.0 1789.1,941.4 1789.8,940.3 1790.5,939.9 1791.2,941.0 1791.9,941.0 1792.6,941.2 1793.3,941.8 1794.0,942.8 1794.7,943.2 1795.4,943.1 1796.1,942.7 1796.8,942.7 1797.5,943.1 1798.2,944.3 1798.9,944.0 1799.6,944.2 1800.3,943.3 1801.0,942.2 1801.7,940.5 1802.4,941.8 1803.1,941.9 1803.8,942.5 1804.5,942.4 1805.2,942.7 1805.9,944.2 1806.6,945.3 1807.3,945.3 1808.0,942.6 1808.7,940.3 1809.4,940.4 1810.1,941.9 1810.8,943.6 1811.5,943.4 1812.2,942.6 1812.9,942.1 1813.6,942.4 1814.3,942.1 1815.0,943.1 1815.7,943.4 1816.4,945.5 1817.1,944.9 1817.8,944.4 1818.5,944.3 1819.2,945.0 1819.9,946.7 1820.6,946.9 1821.3,945.7 1822.0,944.3 1822.7,944.4 1823.4,945.3 1823.9,944.5 1824.1,942.1 1824.8,940.8 1825.5,939.9 1826.2,941.1 1826.9,942.3 1827.6,942.6 1828.3,941.5 1829.0,944.3 1829.7,946.1 1830.4,945.1 1831.1,943.1 1831.8,941.6 1832.5,940.5 1833.2,940.3 1833.9,943.5 1834.6,946.6 1835.3,946.4 1836.0,944.5 1836.7,943.0 1837.4,943.2 1838.1,943.0 1838.8,940.8 1839.5,941.8 1840.2,944.7 1840.9,946.6 1841.6,946.0 1842.3,945.9 1843.0,945.3 1843.7,945.2 1844.4,945.1 1845.1,946.9 1845.8,946.1 1846.5,946.1 1847.2,944.7 1847.9,943.3 1848.6,942.8 1849.3,944.6 1850.0,946.8 1850.7,945.5 1851.4,944.8 1852.1,944.9 1852.8,945.4 1853.5,942.5 1854.2,942.1 1854.9,944.3 1855.6,946.1 1856.3,944.1 1857.0,941.9 1857.7,941.9 1858.4,944.2 1859.1,945.0 1859.8,944.8 1860.5,944.5 1861.2,943.8 1861.9,943.4 1862.6,942.2 1863.3,943.0 1864.0,943.9 1864.7,945.0 1865.4,945.9 1866.1,945.0 1866.8,944.7 1867.5,943.6 1868.2,943.6 1868.9,943.6 1869.6,945.4 1870.3,944.2 1871.0,943.3 1871.7,944.0 1872.4,946.7 1873.1,944.4 1873.8,942.8 1874.5,942.9 1875.2,944.1 1875.9,945.8 1876.6,946.5 1877.3,947.1 1878.0,946.7 1878.7,947.0 1879.4,944.9 1880.1,944.3 1880.8,946.1 1881.5,947.8 1882.2,948.1 1882.9,948.8 1883.6,947.0 1884.3,944.3 1885.0,943.2 1885.7,945.3 1886.0,946.4"/>
<path class="c" stroke="#0000ff" d="M135.0,428.0 135.7,427.3 136.4,429.0 137.1,430.9 137.5,431.8 137.8,433.2 138.5,433.5 139.2,437.7 139.9,437.8 140.6,439.7 141.3,439.3 142.0,443.2 142.7,447.3 143.4,451.1 144.1,451.0 144.8,452.4 145.5,452.5 146.2,452.6 146.9,454.0 147.4,455.3 147.6,455.9 148.3,455.1 149.0,455.5 149.7,457.8 150.4,460.6 151.1,461.8 151.8,461.7 152.5,462.1 153.2,461.9 153.9,462.1 154.6,465.4 155.3,467.8 156.0,471.1 156.7,472.1 157.4,470.6 158.1,471.1 158.8,474.5 159.5,478.3 160.0,480.7 160.2,484.3 160.9,486.0 161.6,483.6 162.3,483.4 163.0,484.9 163.7,484.4 164.4,485.0 165.1,484.7 165.8,488.3 166.5,491.8 167.2,493.0 167.9,492.7 168.6,492.4 169.3,494.8 170.0,494.1 170.7,495.5 171.4,496.0 172.0,495.6 172.1,494.1 172.8,496.3 173.5,498.0 174.2,498.1 174.9,500.0 175.6,502.6 176.3,503.7 177.0,501.1 177.7,500.3 178.4,503.0 179.1,508.4 179.8,510.9 180.5,511.4 181.2,509.1 181.9,512.6 182.0,515.3 182.6,518.3 183.3,519.8 184.0,522.1 184.7,523.7 185.4,521.8 186.1,519.5 186.8,519.0 187.5,518.7 188.2,522.9 188.9,525.1 189.6,527.4 190.3,526.9 191.0,529.9 191.7,531.9 192.4,533.0 193.1,532.5 193.8,533.1 194.5,530.1 195.2,531.0 195.9,531.6 196.6,534.3 197.3,534.6 198.0,535.8 198.7,538.1 199.4,537.1 199.6,536.6 200.1,536.9 200.8,538.8 201.5,539.7 202.2,540.1 202.9,541.5 203.6,541.0 204.3,539.6 205.0,540.0 205.7,543.4 206.4,545.9 207.1,545.4 207.8,544.9 208.5,546.3 209.2,549.3 209.9,549.5 210.6,549.5 211.3,550.7 212.0,553.6 212.7,554.1 213.4,554.8 214.1,556.2 214.5,559.6 214.8,557.7 215.5,559.5 216.2,558.9 216.9,558.1 217.6,556.9 218.3,558.6 219.0,560.0 219.7,560.0 220.4,558.7 221.1,560.8 221.8,562.0 222.5,563.8 223.2,565.7 223.9,567.3 224.6,568.2 225.3,565.9 226.0,566.7 226.7,569.1 227.4,570.2 228.1,569.1 228.8,569.3 229.4,570.6 229.5,571.7 230.2,572.1 230.9,571.8 231.6,571.3 232.3,569.3 233.0,570.6 233.7,572.2 234.4,575.6 235.1,575.4 235.8,575.8 236.5,577.7 237.2,578.8 237.9,581.2 238.6,582.3 239.3,581.7 240.0,579.7 240.7,579.0 241.4,580.7 242.1,584.2 242.8,585.9 243.5,585.0 244.2,585.3 244.3,588.7 244.9,589.2 245.6,587.8 246.3,585.0 247.0,586.1 247.7,587.6 248.4,591.2 249.1,592.6 249.8,595.0 250.5,594.9 251.2,597.0 251.9,599.2 252.6,600.6 253.3,601.5 254.0,601.6 254.7,601.4 255.4,603.1 256.1,605.5 256.8,605.7 257.5,604.3 258.2,605.4 258.9,605.2 259.0,604.5 259.6,605.0 260.3,608.0 261.0,609.6 261.7,608.6 262.4,607.5 263.1,608.7 263.8,612.0 264.5,615.3 265.2,615.8 265.9,614.7 266.6,613.8 267.3,614.4 268.0,615.1 268.7,615.8 269.4,619.1 270.1,619.8 270.8,618.7 271.5,617.2 272.2,617.1 272.9,614.0 273.6,613.0 274.3,613.9 275.0,617.4 275.7,616.9 276.4,618.2 277.1,619.9 277.8,620.9 278.5,620.2 279.0,618.6 279.2,619.4 279.9,621.9 280.6,624.3 281.3,623.8 282.0,621.6 282.7,620.1 283.4,621.8 284.1,623.6 284.8,625.0 285.5,625.1 286.2,626.3 286.9,626.2 287.6,625.8 288.3,625.3 289.0,626.6 289.7,628.7 290.4,629.0 291.1,628.7 291.8,630.5 292.5,631.7 293.2,632.1 293.9,630.7 294.6,630.2 295.3,628.1 296.0,628.3 296.7,629.1 297.4,630.6 298.1,631.6 298.8,632.2 299.0,632.6 299.5,634.2 300.2,635.5 300.9,636.2 301.6,635.6 302.3,634.7 303.0,633.3 303.7,635.7 304.4,638.4 305.1,639.0 305.8,639.6 306.5,639.2 307.2,638.5 307.9,637.7 308.6,638.2 309.3,639.2 310.0,640.1 310.7,641.1 311.4,640.6 312.1,639.6 312.8,639.5 313.5,639.3 314.2,639.0 314.9,640.0 315.6,642.7 316.3,644.6 317.0,644.6 317.7,644.7 318.4,646.3 319.0,647.2 319.1,648.5 319.8,648.0 320.5,648.5 321.2,648.0 321.9,649.3 322.6,648.8 323.3,647.1 324.0,645.9 324.7,647.2 325.4,650.2 326.1,651.1 326.8,650.8 327.5,650.5 328.2,651.1 328.9,652.2 329.6,651.1 330.3,649.9 331.0,649.5 331.7,649.4 332.4,646.8 333.1,645.3 333.8,644.1 334.5,644.8 335.2,646.4 335.9,648.7 336.6,648.8 337.3,648.2 338.0,648.7 338.7,648.8 339.4,648.8 340.1,650.6 340.8,650.5 341.0,649.5 341.5,649.1 342.2,650.4 342.9,651.9 343.6,654.5 344.3,654.2 345.0,654.7 345.7,653.7 346.4,652.4 347.1,651.0 347.8,653.5 348.5,654.5 349.2,655.5 349.9,657.1 350.6,656.9 351.3,654.7 352.0,656.4 352.7,658.0 353.4,657.8 354.1,655.8 354.8,655.2 355.5,655.7 356.2,657.2 356.9,658.4 357.6,658.2 358.3,658.1 359.0,658.3 359.7,659.7 360.4,658.9 361.1,657.8 361.8,655.8 362.5,655.6 363.2,657.5 363.9,659.8 364.6,660.3 365.3,658.9 366.0,658.3 366.0,656.2 366.7,656.9 367.4,661.0 368.1,661.6 368.8,660.5 369.5,660.2 370.2,661.4 370.9,660.7 371.6,660.0 372.3,660.8 373.0,660.3 373.7,660.6 374.4,661.0 375.1,660.7 375.8,661.7 376.5,660.3 377.2,662.2 377.9,660.8 378.6,661.3 379.3,660.4 380.0,661.8 380.7,662.9 381.4,664.4 382.1,663.0 382.8,662.5 383.5,662.4 384.2,663.7 384.9,663.4 385.6,665.5 386.3,666.4 387.0,667.0 387.7,666.5 388.4,668.0 389.1,668.6 389.8,668.5 390.5,668.4 391.0,668.2 391.2,668.6 391.9,668.8 392.6,668.2 393.3,668.2 394.0,666.6 394.7,667.4 395.4,665.8 396.1,666.0 396.8,664.8 397.5,666.4 398.2,666.7 398.9,667.0 399.6,666.0 400.3,666.9 401.0,669.5 401.7,670.3 402.4,671.0 403.1,670.0 403.8,669.2 404.5,667.5 405.2,667.0 405.9,667.1 406.6,668.1 407.3,668.8 408.0,667.1 408.7,667.4 409.4,669.4 410.1,669.5 410.8,667.4 411.5,668.3 412.2,669.7 412.9,667.4 413.6,665.6 414.3,666.6 415.0,669.6 415.7,670.3 416.0,669.5 416.4,667.4 417.1,667.5 417.8,667.3 418.5,668.0 419.2,667.8 419.9,669.5 420.6,669.3 421.3,667.7 422.0,666.4 422.7,667.5 423.4,666.6 424.1,667.3 424.8,666.5 425.5,667.3 426.2,667.6 426.9,669.0 427.6,668.5 428.3,666.9 429.0,665.8 429.7,665.9 430.4,666.2 431.1,668.7 431.8,668.6 432.5,668.4 433.2,666.9 433.9,666.5 434.6,667.3 435.3,669.2 436.0,670.4 436.7,669.3 437.4,667.9 438.1,667.4 438.8,667.4 439.5,665.1 440.2,663.3 440.7,662.9 440.9,665.5 441.6,666.9 442.3,667.8 443.0,668.4 443.7,667.9 444.4,668.2 445.1,668.5 445.8,668.7 446.5,669.0 447.2,668.7 447.9,667.2 448.6,665.6 449.3,667.8 450.0,668.8 450.7,666.4 451.4,665.6 452.1,665.9 452.8,670.4 453.5,672.7 454.2,672.7 454.9,669.0 455.6,668.2 456.3,667.5 457.0,668.2 457.7,667.9 458.4,669.3 459.1,668.1 459.8,667.6 460.5,665.8 461.2,666.7 461.9,667.3 462.6,666.4 463.3,663.8 464.0,663.2 464.7,663.9 465.4,665.2 465.6,665.9 466.1,665.8 466.8,663.9 467.5,664.9 468.2,666.4 468.9,668.5 469.6,668.6 470.3,666.4 471.0,665.0 471.7,664.0 472.4,666.5 473.1,666.1 473.8,665.2 474.5,665.8 475.2,667.5 475.9,667.6 476.6,666.8 477.3,665.6 478.0,664.8 478.7,663.1 479.4,664.0 480.1,663.6 480.8,663.0 481.5,663.7 482.2,662.9 482.9,663.7 483.6,663.5 484.3,665.9 485.0,665.0 485.7,664.9 486.4,664.3 487.1,666.4 487.8,665.0 488.5,663.5 489.2,662.1 489.9,662.9 490.4,660.8 490.6,660.7 491.3,661.9 492.0,661.1 492.7,661.7 493.4,662.0 494.1,660.8 494.8,656.7 495.5,656.0 496.2,656.8 496.9,660.1 497.6,663.6 498.3,662.8 499.0,661.1 499.7,662.5 500.4,662.2 501.1,660.5 501.8,659.9 502.5,659.3 503.2,656.6 503.9,654.4 504.6,654.3 505.3,655.2 506.0,655.3 506.7,655.8 507.4,654.6 508.0,655.0 508.1,654.7 508.8,654.6 509.5,652.5 510.2,651.8 510.9,650.8 511.6,649.7 512.3,648.3 513.0,648.2 513.7,649.8 514.4,649.8 515.1,648.3 515.8,645.6 516.5,643.0 517.2,642.1 517.9,644.2 518.6,648.3 519.3,649.4 520.0,647.9 520.7,647.4 521.4,647.2 522.1,644.6 522.8,642.3 523.5,642.8 524.2,645.5 524.9,645.3 525.6,642.9 526.3,640.4 527.0,639.3 527.7,638.9 527.7,637.1 528.4,636.4 529.1,637.1 529.8,637.8 530.5,638.5 531.2,639.4 531.9,638.9 532.6,636.8 533.3,635.8 534.0,636.7 534.7,636.2 535.4,637.1 536.1,636.9 536.8,638.3 537.5,639.1 538.2,638.1 538.9,638.4 539.6,639.7 540.3,641.3 541.0,638.2 541.7,638.3 542.4,637.2 543.1,636.7 543.8,636.2 544.5,635.0 545.2,635.1 545.9,635.6 546.6,633.9 547.3,631.6 548.0,630.9 548.7,631.5 549.4,630.5 550.1,630.1 550.8,631.7 551.5,631.1 552.2,630.2 552.6,629.0 552.9,631.0 553.6,631.2 554.3,631.4 555.0,631.2 555.7,632.3 556.4,630.7 557.1,629.4 557.8,628.2 558.5,627.0 559.2,627.0 559.9,628.4 560.6,627.6 561.3,627.3 562.0,623.5 562.7,621.8 563.4,618.3 564.1,621.6 564.8,621.8 565.5,623.0 566.2,618.9 566.9,619.1 567.6,619.1 568.3,621.2 569.0,617.8 569.7,616.0 570.4,617.3 571.1,620.6 571.8,620.5 572.5,617.3 572.5,614.4 573.2,613.8 573.9,613.7 574.6,613.4 575.3,611.9 576.0,612.1 576.7,611.8 577.4,611.0 578.1,613.8 578.8,613.2 579.5,613.3 580.2,609.8 580.9,609.7 581.6,608.7 582.3,607.1 583.0,604.3 583.7,605.0 584.4,606.2 585.1,605.0 585.8,601.2 586.5,599.9 587.2,602.2 587.9,604.4 588.6,603.5 589.3,602.5 590.0,601.6 590.7,601.1 591.4,598.4 592.0,599.2 592.1,599.9 592.8,600.4 593.5,599.2 594.2,597.6 594.9,594.3 595.6,592.8 596.3,592.4 597.0,593.1 597.7,593.6 598.4,594.0 599.1,594.5 599.8,593.8 600.5,592.4 601.2,591.2 601.9,590.1 602.6,590.2 603.3,590.8 604.0,589.5 604.7,586.2 605.4,583.5 606.1,585.4 606.8,587.1 607.5,586.9 608.2,584.4 608.5,583.2 608.9,585.2 609.6,584.3 610.3,581.4 611.0,578.1 611.7,577.3 612.4,575.4 613.1,573.5 613.8,573.2 614.5,573.1 615.2,574.6 615.9,573.4 616.6,573.3 617.3,573.5 617.3,576.8 618.0,574.5 618.7,568.2 619.4,566.6 620.1,569.9 620.8,573.3 621.5,573.6 622.2,572.5 622.9,573.3 623.6,571.1 624.3,571.1 625.0,570.9 625.7,571.4 626.4,573.4 627.1,574.5 627.8,572.8 628.5,570.9 629.2,572.6 629.8,573.4 629.9,571.2 630.6,569.8 631.3,570.2 632.0,569.7 632.7,567.7 633.4,566.2 634.1,566.7 634.8,564.6 635.5,562.3 636.2,560.5 636.9,562.9 637.6,561.7 638.3,558.2 639.0,553.9 639.7,553.9 639.7,555.9 640.4,554.6 641.1,552.2 641.8,553.3 642.5,555.2 643.2,556.5 643.9,555.9 644.6,555.0 645.3,551.5 646.0,550.2 646.7,550.3 647.4,551.3 648.1,550.1 648.8,548.8 649.5,547.4 650.2,546.4 650.9,545.7 651.6,542.1 652.3,541.4 653.0,543.2 653.7,542.5 654.4,540.3 655.1,539.4 655.8,538.4 656.5,536.9 657.0,536.6 657.2,538.8 657.9,537.9 658.6,540.4 659.3,541.0 660.0,540.1 660.7,538.3 661.4,537.1 662.1,535.0 662.8,535.0 663.5,536.4 664.2,536.2 664.9,533.7 665.6,533.5 666.3,533.0 667.0,532.4 667.7,534.4 668.4,534.4 669.1,532.1 669.8,529.1 670.5,531.8 671.2,532.1 671.9,532.7 672.0,531.6 672.6,531.3 673.3,529.7 674.0,526.4 674.7,523.0 675.4,525.5 676.1,526.2 676.8,525.4 677.5,521.6 678.2,520.8 678.9,519.6 679.6,519.6 680.3,522.2 681.0,521.5 681.7,519.3 682.0,516.7 682.4,514.9 683.1,512.9 683.8,514.1 684.5,514.6 685.2,516.8 685.9,516.7 686.6,518.0 687.3,513.9 688.0,511.7 688.7,512.7 689.4,514.2 690.1,513.9 690.8,512.5 691.5,510.4 692.2,510.3 692.9,509.6 693.6,508.5 694.3,506.3 695.0,506.0 695.7,507.9 696.4,509.5 697.1,512.4 697.8,514.4 698.5,512.9 699.2,512.4 699.4,511.2 699.9,508.3 700.6,507.8 701.3,508.5 702.0,506.6 702.7,503.8 703.4,507.2 704.1,507.8 704.8,507.2 705.5,505.5 706.2,503.5 706.9,501.0 707.6,502.7 708.3,501.9 709.0,498.7 709.7,497.9 710.4,499.5 711.1,501.4 711.8,501.8 712.5,500.6 713.2,499.9 713.9,498.3 714.3,497.8 714.6,496.4 715.3,494.5 716.0,495.5 716.7,497.4 717.4,498.6 718.1,496.6 718.8,495.4 719.5,494.8 720.2,495.2 720.9,496.1 721.6,494.7 722.3,492.7 723.0,493.6 723.7,492.3 724.4,492.4 725.1,491.9 725.5,490.5 725.8,487.8 726.5,488.5 727.2,487.1 727.9,488.2 728.6,487.3 729.3,489.6 730.0,490.8 730.7,495.0 731.4,493.4 732.1,488.8 732.8,486.5 733.5,488.0 734.2,491.0 734.9,492.1 735.6,491.8 736.3,492.4 737.0,490.6 737.7,493.0 738.4,492.5 739.0,494.5 739.1,495.4 739.8,496.4 740.5,495.0 741.2,494.2 741.9,494.5 742.6,494.3 743.3,492.3 744.0,492.7 744.7,491.3 745.4,491.1 745.4,489.6 746.1,489.2 746.8,490.4 747.5,491.3 748.2,490.8 748.9,490.0 749.6,490.9 750.3,494.7 751.0,495.8 751.7,495.1 752.4,494.2 753.1,495.5 753.8,498.6 754.5,500.9 755.2,502.1 755.9,501.1 756.5,503.5 756.6,502.6 757.3,502.8 758.0,502.2 758.7,504.2 759.4,506.2 760.1,507.1 760.8,507.2 761.5,508.4 762.2,510.1 762.9,511.6 763.6,512.6 764.3,515.3 765.0,519.6 765.7,521.3 766.4,521.1 766.5,520.6 767.1,522.1 767.8,523.6 768.5,524.7 769.2,526.3 769.9,525.9 770.6,525.4 771.3,527.5 772.0,528.0 772.7,528.7 773.4,526.5 774.1,526.5 774.8,526.4 775.5,527.8 776.2,529.5 776.4,529.9 776.9,529.9 777.6,529.4 778.3,533.3 779.0,538.7 779.7,543.8 780.4,547.0 781.1,548.3 781.4,547.7 781.8,547.6 782.5,548.8 783.2,548.5 783.9,550.3 784.6,552.9 785.3,553.9 786.0,553.6 786.7,554.5 787.4,554.1 788.1,550.6 788.8,549.6 789.5,551.3 790.2,556.6 790.9,559.9 791.6,556.2 792.3,554.9 793.0,555.4 793.7,558.1 793.8,557.3 794.4,557.2 795.1,558.4 795.8,558.3 796.5,560.0 797.2,560.6 797.9,561.6 798.3,561.3 798.6,560.9 799.3,555.1 800.0,544.5 800.7,535.4 801.3,533.4 801.4,531.4 802.1,530.1 802.8,531.6 803.5,534.3 804.2,533.3 804.9,532.5 805.6,535.3 805.8,535.2 806.3,541.6 807.0,563.7 807.5,576.3 807.7,579.5 808.4,588.7 809.1,596.2 809.8,601.9 810.0,602.5 810.5,603.7 811.2,605.6 811.9,607.8 812.6,610.7 813.3,612.6 814.0,613.7 814.7,615.5 815.4,615.6 816.1,614.5 816.8,613.5 817.5,614.3 818.2,616.4 818.7,617.8 818.9,618.3 819.6,618.9 820.3,622.2 821.0,624.5 821.7,627.3 822.4,628.0 823.1,628.4 823.8,629.3 824.5,630.5 825.2,631.7 825.9,631.4 826.6,631.4 827.3,631.3 828.0,632.6 828.7,634.0 829.4,637.2 830.1,639.2 830.8,640.8 831.0,640.4 831.5,640.3 832.2,643.1 832.9,645.0 833.6,647.7 834.3,646.7 835.0,646.3 835.7,646.8 836.4,647.9 837.1,649.2 837.8,648.3 838.5,649.5 839.2,650.7 839.9,652.9 840.6,652.9 841.0,651.5 841.3,650.8 842.0,653.3 842.7,654.7 843.4,654.2 844.1,653.6 844.8,656.0 845.5,657.8 846.2,661.2 846.9,664.5 847.6,666.0 848.3,663.6 849.0,664.8 849.7,668.9 850.4,672.7 851.0,674.1 851.1,672.5 851.8,672.8 852.5,670.4 853.2,673.8 853.9,675.7 854.6,676.3 855.3,674.0 856.0,674.8 856.7,678.3 857.4,679.8 858.1,680.3 858.8,683.0 859.5,683.9 860.2,682.7 860.9,680.1 861.6,679.9 862.3,681.0 863.0,681.3 863.7,683.2 864.4,683.3 865.1,684.1 865.8,684.5 866.0,685.3 866.5,686.0 867.2,687.6 867.9,687.9 868.6,690.0 869.3,691.6 870.0,693.3 870.7,692.6 871.4,693.0 872.1,692.1 872.8,694.6 873.5,696.6 874.2,698.5 874.9,696.8 875.6,697.6 876.3,698.3 877.0,698.2 877.7,698.4 878.3,697.4 878.4,697.3 879.1,697.4 879.8,700.9 880.5,701.7 881.2,702.0 881.9,701.8 882.6,704.8 883.3,704.4 884.0,703.0 884.7,702.3 885.4,705.4 886.1,706.0 886.8,705.2 887.5,704.9 888.2,707.3 888.9,709.1 889.6,710.5 890.3,710.8 891.0,711.6 891.7,711.7 892.4,712.4 893.0,712.3 893.1,711.5 893.8,711.2 894.5,711.3 895.2,712.7 895.9,712.8 896.6,713.1 897.3,715.1 898.0,716.3 898.7,716.2 899.4,716.6 900.1,720.1 900.8,720.8 901.5,718.3 902.2,716.0 902.9,716.4 903.6,717.0 904.3,716.8 905.0,718.4 905.7,721.0 906.4,723.0 907.1,723.1 907.8,721.9 908.5,721.5 909.2,720.9 909.9,720.8 910.6,719.3 910.6,720.7 911.3,723.3 912.0,723.1 912.7,721.8 913.4,721.5 914.1,722.7 914.8,724.3 915.5,725.0 916.2,725.9 916.9,725.4 917.6,725.3 918.3,724.2 919.0,727.3 919.7,731.1 920.4,733.5 921.1,733.6 921.8,735.2 922.5,736.6 923.2,734.8 923.9,733.3 924.6,731.3 925.3,732.1 925.6,731.9 926.0,733.2 926.7,734.1 927.4,734.6 928.1,734.8 928.8,734.6 929.5,735.1 930.2,735.7 930.9,733.3 931.6,733.5 932.3,734.2 933.0,737.7 933.7,736.9 934.4,736.3 935.1,737.4 935.8,738.0 936.5,738.5 937.2,738.4 937.9,738.6 938.6,738.7 939.3,741.0 940.0,742.6 940.7,741.5 941.4,740.5 942.1,740.9 942.8,740.4 943.5,738.5 944.2,738.8 944.9,739.1 945.5,740.2 945.6,740.5 946.3,741.2 947.0,741.0 947.7,738.4 948.4,737.6 949.1,737.0 949.8,737.9 950.5,739.2 951.2,741.2 951.9,742.3 952.6,740.7 953.3,739.6 954.0,739.2 954.7,741.2 955.4,742.6 956.1,743.4 956.8,743.7 957.5,744.5 958.2,746.6 958.9,746.0 959.6,745.2 960.3,743.5 961.0,743.3 961.7,744.4 962.4,745.4 963.1,746.0 963.8,745.8 964.5,745.4 965.2,745.0 965.9,746.2 966.6,748.1 967.3,749.6 968.0,749.5 968.7,749.8 969.4,749.0 970.0,748.3 970.1,747.8 970.8,748.7 971.5,748.9 972.2,751.2 972.9,750.9 973.6,751.8 974.3,751.3 975.0,752.0 975.7,752.5 976.4,753.3 977.1,753.6 977.8,753.0 978.5,752.1 979.2,753.1 979.9,753.6 980.6,755.6 981.3,753.6 982.0,752.8 982.7,752.0 983.4,753.5 984.1,754.3 984.8,755.6 985.5,755.1 986.2,755.5 986.9,756.7 987.6,758.6 988.3,756.8 989.0,755.7 989.7,754.3 990.4,754.2 991.1,754.3 991.8,754.4 992.5,753.1 993.2,752.9 993.9,753.5 994.6,757.1 995.0,757.8 995.3,756.8 996.0,754.5 996.7,755.2 997.4,757.1 998.1,758.3 998.8,757.3 999.5,757.1 1000.2,755.7 1000.9,757.3 1001.6,757.2 1002.3,756.6 1003.0,757.4 1003.7,760.2 1004.4,761.9 1005.1,761.7 1005.8,761.2 1006.5,761.7 1007.2,761.1 1007.9,762.8 1008.6,762.9 1009.3,762.0 1010.0,760.9 1010.7,763.0 1011.4,764.1 1012.1,764.6 1012.8,763.2 1013.5,762.5 1014.2,760.1 1014.9,760.8 1015.6,761.5 1016.3,763.6 1017.0,762.8 1017.7,762.3 1018.4,762.8 1019.1,763.6 1019.8,762.9 1020.0,761.4 1020.5,761.9 1021.2,763.0 1021.9,763.9 1022.6,764.0 1023.3,762.6 1024.0,763.3 1024.7,763.5 1025.4,764.2 1026.1,764.9 1026.8,766.0 1027.5,764.0 1028.2,761.4 1028.9,761.1 1029.6,763.1 1030.3,764.0 1031.0,763.5 1031.7,762.5 1032.4,763.6 1033.1,763.1 1033.8,763.0 1034.5,762.7 1035.2,764.4 1035.9,762.5 1036.6,761.8 1037.3,764.4 1038.0,766.2 1038.7,767.0 1039.4,766.8 1040.1,765.1 1040.8,763.4 1041.5,763.6 1042.2,765.6 1042.9,764.9 1043.6,764.5 1044.3,764.3 1045.0,763.1 1045.0,761.4 1045.7,761.3 1046.4,761.7 1047.1,762.6 1047.8,762.7 1048.5,762.9 1049.2,763.3 1049.9,764.7 1050.6,766.4 1051.3,767.3 1052.0,767.3 1052.7,765.9 1053.4,763.8 1054.1,763.3 1054.8,763.1 1055.5,762.7 1056.2,764.5 1056.9,764.2 1057.6,764.3 1058.3,763.4 1059.0,764.3 1059.7,765.9 1060.4,766.3 1061.1,764.9 1061.8,764.2 1062.5,764.9 1063.2,763.8 1063.9,761.2 1064.6,762.1 1065.3,763.0 1066.0,764.0 1066.7,763.0 1067.4,762.6 1068.1,763.7 1068.5,765.0 1068.8,764.2 1069.5,763.3 1070.2,765.6 1070.9,764.9 1071.6,763.4 1072.3,763.0 1073.0,765.5 1073.7,767.7 1074.4,767.0 1075.0,765.1 1075.1,763.4 1075.8,763.6 1076.5,765.0 1077.2,766.2 1077.9,769.5 1078.6,770.7 1079.3,770.0 1080.0,768.7 1080.7,767.8 1081.4,766.1 1082.1,765.1 1082.8,767.0 1083.5,767.3 1084.2,768.1 1084.9,768.0 1085.6,768.9 1086.3,767.8 1087.0,766.7 1087.7,767.7 1088.4,768.1 1089.1,769.0 1089.8,769.5 1090.5,770.3 1091.2,771.5 1091.9,769.4 1092.6,767.0 1093.3,766.6 1094.0,767.4 1094.7,768.4 1095.4,766.6 1096.1,766.4 1096.8,766.0 1097.5,765.7 1098.2,766.0 1098.9,766.6 1099.6,766.3 1100.0,767.6 1100.3,766.4 1101.0,768.9 1101.7,768.4 1102.4,769.4 1103.1,768.1 1103.8,768.7 1104.5,769.3 1105.2,768.5 1105.9,767.5 1106.6,765.9 1107.3,766.9 1108.0,767.9 1108.7,766.1 1109.4,764.6 1110.1,765.8 1110.8,767.5 1111.5,769.1 1112.2,769.7 1112.9,769.0 1113.6,766.4 1114.3,768.0 1115.0,768.6 1115.7,770.1 1116.4,768.5 1117.1,767.7 1117.8,767.1 1118.5,768.5 1119.2,769.9 1119.9,769.6 1120.6,770.5 1121.3,769.1 1122.0,768.5 1122.7,767.4 1123.4,768.6 1124.1,768.8 1124.6,769.1 1124.8,769.8 1125.5,768.9 1126.2,768.6 1126.9,768.8 1127.6,768.8 1128.3,765.9 1129.0,765.0 1129.7,763.1 1130.4,764.2 1131.1,764.6 1131.8,768.0 1132.5,768.0 1133.2,768.6 1133.9,768.7 1134.6,770.5 1135.3,770.8 1136.0,770.3 1136.7,767.5 1137.4,767.1 1138.1,766.2 1138.8,767.4 1139.5,767.8 1140.2,767.9 1140.9,768.2 1141.6,768.8 1142.3,769.1 1143.0,767.8 1143.7,768.7 1144.4,770.8 1145.1,771.7 1145.8,770.8 1146.5,770.9 1147.2,771.2 1147.9,770.8 1148.6,769.0 1149.3,768.9 1149.4,771.0 1150.0,772.8 1150.7,774.3 1151.4,773.9 1152.1,773.1 1152.8,772.3 1153.5,772.7 1154.2,772.8 1154.9,770.6 1155.6,769.1 1156.3,767.0 1157.0,768.6 1157.7,768.9 1158.4,768.3 1159.1,768.1 1159.8,769.5 1160.5,770.1 1161.2,769.2 1161.9,767.9 1162.6,768.9 1163.3,770.3 1164.0,772.9 1164.7,772.6 1165.4,774.1 1166.1,773.8 1166.8,772.7 1167.5,772.3 1168.2,772.7 1168.9,773.0 1169.6,772.4 1170.3,771.7 1171.0,771.5 1171.7,772.3 1172.4,772.3 1173.1,772.7 1173.8,772.7 1174.3,773.3 1174.5,772.3 1175.2,771.5 1175.9,770.4 1176.6,770.0 1177.3,771.5 1178.0,773.7 1178.7,773.8 1179.4,772.3 1180.1,771.0 1180.8,772.5 1181.5,773.0 1182.2,772.6 1182.9,772.1 1183.6,771.3 1184.3,770.8 1185.0,770.6 1185.7,771.3 1186.4,770.0 1187.1,770.4 1187.8,771.6 1188.5,771.1 1189.2,769.6 1189.9,769.0 1190.6,771.8 1191.3,771.5 1192.0,770.2 1192.7,768.8 1193.4,769.9 1194.1,771.0 1194.8,771.0 1195.5,771.0 1196.2,769.5 1196.9,767.2 1197.6,767.1 1198.3,770.4 1199.0,771.0 1199.0,770.0 1199.7,769.3 1200.4,770.8 1201.1,769.8 1201.8,768.5 1202.5,768.0 1203.2,768.9 1203.9,769.4 1204.6,770.1 1205.3,770.6 1206.0,769.2 1206.7,767.7 1207.4,768.5 1208.1,770.4 1208.8,770.8 1209.5,770.6 1210.2,770.9 1210.9,768.7 1211.6,768.6 1212.3,768.4 1213.0,769.5 1213.7,768.9 1214.4,767.6 1215.1,767.1 1215.8,768.4 1216.5,770.1 1217.2,770.3 1217.9,770.5 1218.6,769.9 1219.3,769.7 1220.0,769.3 1220.7,770.2 1221.4,771.1 1222.1,770.6 1222.8,769.8 1223.5,769.2 1224.0,768.9 1224.2,767.6 1224.9,766.2 1225.6,767.7 1226.3,768.0 1227.0,769.0 1227.7,767.9 1228.4,768.2 1229.1,767.3 1229.8,766.6 1230.5,765.9 1231.2,766.8 1231.9,768.2 1232.6,767.6 1233.3,766.8 1234.0,768.2 1234.7,769.4 1235.4,768.7 1236.1,765.9 1236.8,764.9 1237.5,765.1 1238.2,765.9 1238.9,765.9 1239.6,765.4 1240.3,764.0 1241.0,762.8 1241.7,760.4 1242.4,761.6 1243.1,761.7 1243.8,763.6 1244.5,765.5 1245.2,766.2 1245.9,765.1 1246.6,763.9 1247.3,763.6 1248.0,762.3 1248.7,761.8 1249.0,763.1 1249.4,762.0 1250.1,760.9 1250.8,758.5 1251.5,757.9 1252.2,758.3 1252.9,759.5 1253.6,760.1 1254.3,760.8 1255.0,759.8 1255.7,760.1 1256.4,759.5 1257.1,759.4 1257.8,757.5 1258.5,757.4 1259.2,759.1 1259.9,760.2 1260.6,759.2 1261.3,757.8 1262.0,756.9 1262.7,756.4 1263.4,754.9 1264.1,753.8 1264.8,754.1 1265.5,752.7 1266.2,753.3 1266.9,754.2 1267.6,755.5 1268.3,755.6 1269.0,756.5 1269.7,757.1 1270.4,757.6 1271.1,756.6 1271.8,757.0 1272.5,756.5 1273.2,755.5 1273.7,753.2 1273.9,751.8 1274.6,751.8 1275.3,752.3 1276.0,753.2 1276.7,754.3 1277.4,754.2 1278.1,755.6 1278.8,756.3 1279.5,756.3 1280.2,754.9 1280.9,752.1 1281.6,751.9 1282.3,753.2 1283.0,755.0 1283.7,751.9 1284.4,752.7 1285.1,753.4 1285.8,753.2 1286.5,751.6 1287.2,750.9 1287.9,749.7 1288.6,749.7 1289.3,749.6 1290.0,749.6 1290.7,749.7 1291.4,751.4 1292.1,749.9 1292.8,749.2 1293.5,749.0 1294.2,751.6 1294.9,750.7 1295.6,751.6 1296.3,750.3 1297.0,751.3 1297.7,749.5 1298.4,748.7 1298.6,749.4 1299.1,749.0 1299.8,747.5 1300.5,746.2 1301.2,747.1 1301.9,748.6 1302.6,748.7 1303.3,748.0 1304.0,747.7 1304.7,746.2 1305.4,745.3 1306.1,744.9 1306.8,745.2 1307.5,745.7 1308.2,744.1 1308.9,744.0 1309.6,743.8 1310.3,745.1 1311.0,745.3 1311.7,744.4 1312.4,744.5 1313.1,744.7 1313.8,746.7 1314.5,746.3 1315.2,744.8 1315.9,744.0 1316.6,743.0 1317.3,740.4 1318.0,737.3 1318.7,739.3 1319.4,742.0 1320.1,742.8 1320.8,741.1 1321.5,740.9 1322.2,741.8 1322.9,742.5 1323.4,744.5 1323.6,744.9 1324.3,743.7 1325.0,741.8 1325.7,741.3 1326.4,739.7 1327.1,739.2 1327.8,739.7 1328.5,740.7 1329.2,741.2 1329.9,740.9 1330.6,742.3 1331.3,742.3 1332.0,742.8 1332.7,743.1 1333.4,743.9 1334.1,744.5 1334.8,744.2 1335.5,744.7 1336.2,741.5 1336.9,740.8 1337.6,741.1 1338.3,741.1 1339.0,739.8 1339.7,740.2 1340.4,741.4 1341.1,740.5 1341.8,740.9 1342.5,739.7 1343.2,739.6 1343.9,738.7 1344.6,738.3 1345.3,738.9 1346.0,739.5 1346.7,740.5 1347.4,740.6 1348.1,741.1 1348.3,738.9 1348.8,737.3 1349.5,738.2 1350.2,740.3 1350.9,741.1 1351.6,742.3 1352.3,741.2 1353.0,740.9 1353.7,739.7 1354.4,740.5 1355.1,740.6 1355.8,742.0 1356.5,741.0 1357.2,740.4 1357.9,739.7 1358.6,740.2 1359.3,739.2 1360.0,739.6 1360.7,740.6 1361.4,743.0 1362.1,742.6 1362.8,741.4 1363.0,739.8 1363.5,739.9 1364.2,739.7 1364.9,738.5 1365.6,737.6 1366.3,738.2 1367.0,739.4 1367.7,739.2 1368.4,739.0 1369.1,738.8 1369.8,741.2 1370.5,742.3 1371.2,743.0 1371.9,743.6 1372.6,744.5 1373.3,743.5 1374.0,742.5 1374.7,741.0 1375.4,741.0 1376.1,742.1 1376.8,743.8 1377.5,745.2 1378.2,746.9 1378.9,748.2 1379.6,747.8 1380.3,746.9 1381.0,746.6 1381.7,745.2 1382.4,746.8 1383.1,747.6 1383.8,747.1 1384.5,749.1 1385.2,750.4 1385.6,750.8 1385.9,750.0 1386.6,750.1 1387.3,749.4 1388.0,748.7 1388.7,747.4 1389.4,748.2 1390.1,748.8 1390.8,748.0 1391.5,745.3 1392.2,744.9 1392.9,747.4 1393.6,748.5 1394.3,749.8 1395.0,749.6 1395.7,750.2 1396.4,749.8 1397.1,749.0 1397.8,748.2 1398.5,748.0 1399.2,748.5 1399.9,748.2 1400.6,749.7 1401.3,750.5 1402.0,751.5 1402.7,749.3 1403.4,749.0 1404.1,749.9 1404.8,751.1 1405.5,749.3 1406.2,748.3 1406.9,749.0 1407.6,748.7 1408.3,748.4 1409.0,747.6 1409.7,748.6 1410.4,750.8 1410.4,752.3 1411.1,752.2 1411.8,750.7 1412.5,750.8 1413.2,753.2 1413.9,755.7 1414.6,755.9 1415.3,753.7 1416.0,752.6 1416.7,754.8 1417.4,754.7 1418.1,755.2 1418.8,753.5 1419.5,752.3 1420.2,753.1 1420.9,753.9 1421.6,754.5 1422.3,753.1 1423.0,753.3 1423.7,754.2 1424.4,754.2 1425.1,756.1 1425.8,757.6 1426.5,759.8 1427.2,759.2 1427.9,758.4 1428.6,758.4 1429.3,759.8 1430.0,760.5 1430.3,759.9 1430.7,757.5 1431.4,755.5 1432.1,754.9 1432.8,755.5 1433.5,755.6 1434.2,754.9 1434.9,756.8 1435.6,757.7 1436.3,756.7 1437.0,754.2 1437.7,753.8 1438.4,755.9 1439.1,758.0 1439.8,758.8 1440.5,758.6 1441.2,758.9 1441.9,761.2 1442.6,762.3 1443.3,763.0 1444.0,762.8 1444.7,762.4 1445.4,761.7 1446.1,761.2 1446.8,761.2 1447.5,761.9 1448.2,762.4 1448.9,762.1 1449.6,761.9 1450.3,761.8 1451.0,761.5 1451.7,762.4 1452.4,763.1 1453.1,764.1 1453.8,762.9 1454.5,762.6 1455.2,761.9 1455.9,764.0 1456.6,765.2 1457.3,765.4 1458.0,765.4 1458.7,766.6 1459.4,766.7 1460.0,765.8 1460.1,763.9 1460.8,763.2 1461.5,763.3 1462.2,765.1 1462.9,764.3 1463.6,762.8 1464.3,761.7 1465.0,763.0 1465.7,762.7 1466.4,761.3 1467.1,762.5 1467.8,766.2 1468.5,766.1 1469.2,764.0 1469.9,764.8 1470.6,766.3 1471.3,766.5 1472.0,764.6 1472.7,765.2 1473.4,765.6 1474.1,766.8 1474.8,766.8 1475.5,765.7 1476.2,765.9 1476.9,766.1 1477.6,766.0 1478.3,764.7 1479.0,764.4 1479.7,764.0 1480.4,764.1 1481.1,764.7 1481.8,765.4 1482.5,767.3 1483.2,768.2 1483.9,767.3 1484.6,766.7 1485.0,766.2 1485.3,767.3 1486.0,765.6 1486.7,765.8 1487.4,764.8 1488.1,766.2 1488.8,766.1 1489.5,767.4 1490.2,767.4 1490.9,765.9 1491.6,763.9 1492.3,764.3 1493.0,766.4 1493.7,765.9 1494.4,765.2 1495.1,764.7 1495.8,766.0 1496.5,767.1 1497.2,767.3 1497.9,766.1 1498.6,766.2 1499.3,766.9 1500.0,768.9 1500.7,768.7 1501.4,768.6 1502.1,768.0 1502.8,768.1 1503.5,768.5 1504.2,769.4 1504.9,768.4 1505.6,767.7 1506.3,766.9 1507.0,767.8 1507.7,768.5 1508.4,771.2 1509.1,772.6 1509.8,771.8 1510.0,770.2 1510.5,770.8 1511.2,771.5 1511.9,772.1 1512.6,772.2 1513.3,773.8 1514.0,774.1 1514.7,772.1 1515.4,770.3 1516.1,770.0 1516.8,769.7 1517.5,768.3 1518.2,768.2 1518.9,769.3 1519.6,770.1 1520.3,769.0 1521.0,769.8 1521.7,771.5 1522.4,773.8 1523.1,773.4 1523.8,773.0 1524.5,772.7 1525.2,773.8 1525.9,774.2 1526.6,775.7 1527.3,775.1 1528.0,776.1 1528.5,774.9 1528.7,774.6 1529.4,773.3 1530.1,773.5 1530.8,773.5 1531.5,774.1 1532.2,774.9 1532.9,775.8 1533.6,775.4 1534.3,774.9 1535.0,774.9 1535.7,774.3 1536.4,773.2 1537.1,773.3 1537.8,774.3 1538.5,774.9 1539.2,774.9 1539.9,774.7 1540.6,775.1 1541.3,774.9 1542.0,774.6 1542.7,773.2 1543.4,772.7 1544.1,773.9 1544.8,775.3 1545.5,773.9 1546.2,772.5 1546.9,772.3 1547.6,773.0 1548.3,772.0 1549.0,770.8 1549.7,770.0 1550.4,770.3 1551.1,771.1 1551.8,771.3 1552.5,770.9 1553.2,769.3 1553.9,769.1 1554.6,770.7 1555.3,772.9 1556.0,773.9 1556.7,773.5 1557.4,771.2 1558.1,769.4 1558.8,769.0 1559.5,769.3 1560.2,768.6 1560.9,770.4 1561.6,771.2 1562.3,771.0 1563.0,772.4 1563.0,772.8 1563.7,774.1 1564.4,773.6 1565.1,774.3 1565.8,773.1 1566.5,773.6 1567.2,773.0 1567.9,772.5 1568.6,771.5 1569.3,772.4 1570.0,772.0 1570.7,771.6 1571.4,772.1 1572.1,773.0 1572.8,773.6 1573.5,773.1 1574.2,771.1 1574.9,769.7 1575.6,768.8 1576.3,769.9 1577.0,772.9 1577.7,774.2 1578.4,775.2 1579.1,775.0 1579.8,776.5 1580.5,776.4 1581.2,775.5 1581.9,775.5 1582.6,774.0 1583.3,771.9 1584.0,772.2 1584.7,773.7 1585.4,774.8 1586.1,774.9 1586.8,773.6 1587.5,774.0 1588.2,773.6 1588.9,774.0 1589.6,774.1 1590.3,775.2 1591.0,774.6 1591.7,773.2 1592.4,773.9 1593.1,774.4 1593.8,773.5 1594.5,772.7 1595.2,773.8 1595.9,775.3 1596.6,775.7 1597.3,775.6 1598.0,776.7 1598.7,777.3 1599.4,779.0 1600.1,778.9 1600.8,778.1 1601.5,776.2 1602.2,775.7 1602.9,776.4 1603.6,777.0 1604.3,777.3 1605.0,778.3 1605.7,778.2 1606.4,778.6 1607.1,776.7 1607.8,775.2 1608.5,774.4 1609.2,775.2 1609.9,776.4 1610.6,776.2 1611.3,775.3 1612.0,775.9 1612.7,777.4 1613.4,776.9 1614.1,775.0 1614.8,773.9 1615.5,776.3 1616.2,776.9 1616.9,776.1 1617.6,775.8 1618.3,776.5 1619.0,778.6 1619.7,778.0 1620.4,779.3 1621.1,778.9 1621.8,779.5 1622.5,779.0 1623.2,778.6 1623.9,779.3 1624.6,777.9 1625.0,776.8 1625.3,776.8 1626.0,778.1 1626.7,779.8 1627.4,778.3 1628.1,778.2 1628.8,777.7 1629.5,777.8 1630.2,778.0 1630.9,777.6 1631.6,778.2 1632.3,778.2 1633.0,779.8 1633.7,780.3 1634.4,779.6 1635.1,780.5 1635.8,780.8 1636.5,781.4 1637.2,782.1 1637.9,781.6 1638.6,778.8 1639.3,778.4 1640.0,778.5 1640.7,780.2 1641.4,778.7 1642.1,780.5 1642.8,781.2 1643.5,783.8 1644.2,781.7 1644.9,779.6 1645.6,779.5 1646.3,779.2 1647.0,777.4 1647.7,778.5 1648.4,781.8 1649.1,782.0 1649.8,781.3 1650.5,781.0 1651.2,782.5 1651.9,781.9 1652.6,782.6 1653.3,783.7 1654.0,783.9 1654.7,783.8 1655.4,782.6 1656.1,782.5 1656.8,782.9 1657.5,783.9 1658.2,784.3 1658.9,784.5 1659.6,784.9 1660.3,783.6 1661.0,782.4 1661.7,781.7 1662.4,783.0 1663.1,783.9 1663.8,783.4 1664.5,783.9 1665.2,783.8 1665.9,783.3 1666.6,781.9 1667.3,782.3 1668.0,783.7 1668.7,782.6 1669.4,781.5 1670.1,781.2 1670.8,782.0 1671.5,782.2 1672.2,782.4 1672.9,782.9 1673.6,783.6 1674.3,784.4 1675.0,785.8 1675.7,785.9 1676.4,788.0 1677.1,787.7 1677.8,786.6 1678.5,786.1 1679.2,786.4 1679.9,785.7 1680.6,785.1 1681.3,786.3 1682.0,784.7 1682.7,783.8 1683.4,784.0 1684.1,784.2 1684.8,784.0 1685.5,784.5 1686.2,784.5 1686.9,785.5 1687.6,785.3 1688.3,784.5 1689.0,784.9 1689.7,786.4 1690.4,787.2 1691.1,786.2 1691.8,785.5 1692.5,785.8 1693.2,785.9 1693.9,786.6 1694.6,785.8 1695.3,785.7 1696.0,783.6 1696.7,783.5 1697.4,783.4 1698.1,783.6 1698.8,782.8 1699.5,784.5 1699.6,785.9 1700.2,787.1 1700.9,786.9 1701.6,787.0 1702.3,787.2 1703.0,787.5 1703.7,787.3 1704.4,785.1 1705.1,785.2 1705.8,785.9 1706.5,787.0 1707.2,787.4 1707.9,786.3 1708.6,783.2 1709.3,782.9 1710.0,785.1 1710.7,785.3 1711.4,783.1 1712.1,783.4 1712.8,783.6 1713.5,784.0 1714.2,785.6 1714.9,787.9 1715.6,787.2 1716.3,786.2 1717.0,784.7 1717.7,784.6 1718.4,785.0 1719.1,784.9 1719.8,784.9 1720.5,786.4 1721.2,788.1 1721.9,788.0 1722.6,786.2 1723.3,787.9 1724.0,790.1 1724.7,790.3 1725.4,788.7 1726.1,788.5 1726.8,789.0 1727.5,787.3 1728.2,785.8 1728.9,785.1 1729.6,785.6 1730.3,785.2 1731.0,785.0 1731.7,786.4 1732.4,788.4 1733.1,788.9 1733.8,789.3 1734.5,788.6 1735.2,788.4 1735.9,786.6 1736.6,788.1 1737.3,789.0 1738.0,788.8 1738.7,787.4 1739.4,788.5 1740.1,790.4 1740.8,790.6 1741.5,789.6 1742.2,788.6 1742.9,787.3 1743.6,785.6 1744.3,786.6 1745.0,786.4 1745.7,787.6 1746.4,789.2 1747.1,790.2 1747.8,791.7 1748.5,790.7 1749.2,789.8 1749.9,788.2 1750.6,788.4 1751.3,788.3 1752.0,788.1 1752.7,788.6 1753.4,788.8 1754.1,789.2 1754.8,789.7 1755.5,787.5 1756.2,786.8 1756.9,787.4 1757.6,788.7 1758.3,788.4 1759.0,789.6 1759.7,790.3 1760.4,791.7 1761.1,790.7 1761.8,789.7 1762.5,787.4 1763.2,785.4 1763.9,785.1 1764.6,787.4 1765.3,789.1 1766.0,789.0 1766.7,787.8 1767.4,787.0 1768.1,785.7 1768.8,788.1 1769.5,787.9 1770.2,789.0 1770.9,788.4 1771.6,790.7 1772.3,790.3 1773.0,791.0 1773.7,792.0 1774.0,791.5 1774.4,789.4 1775.1,787.9 1775.8,787.7 1776.5,788.2 1777.2,788.7 1777.9,790.3 1778.6,790.6 1779.3,790.7 1780.0,791.7 1780.7,790.5 1781.4,790.2 1782.1,790.5 1782.8,792.0 1783.5,791.2 1784.2,792.1 1784.9,793.0 1785.6,791.0 1786.3,788.8 1787.0,789.9 1787.7,791.0 1788.4,792.0 1789.1,793.0 1789.8,794.2 1790.5,793.0 1791.2,791.9 1791.9,791.3 1792.6,790.1 1793.3,791.1 1794.0,790.5 1794.7,790.7 1795.4,790.9 1796.1,792.1 1796.8,790.6 1797.5,788.6 1798.2,788.1 1798.9,789.4 1799.6,790.7 1800.3,791.5 1801.0,793.4 1801.7,794.3 1802.4,794.0 1803.1,792.5 1803.8,792.5 1804.5,793.1 1805.2,794.2 1805.9,793.4 1806.6,793.0 1807.3,793.5 1808.0,793.8 1808.7,791.3 1809.4,790.5 1810.1,792.6 1810.8,793.5 1811.5,792.8 1812.2,793.7 1812.9,794.0 1813.6,793.1 1814.3,791.0 1815.0,792.8 1815.7,793.4 1816.4,793.5 1817.1,793.5 1817.8,793.5 1818.5,794.2 1819.2,794.1 1819.9,794.0 1820.6,793.6 1821.3,792.7 1822.0,793.7 1822.7,793.0 1823.4,793.1 1823.9,791.0 1824.1,790.8 1824.8,790.5 1825.5,791.5 1826.2,791.9 1826.9,792.4 1827.6,790.1 1828.3,789.1 1829.0,789.1 1829.7,789.3 1830.4,790.0 1831.1,790.4 1831.8,791.8 1832.5,791.2 1833.2,791.9 1833.9,792.2 1834.6,792.3 1835.3,793.0 1836.0,793.6 1836.7,794.4 1837.4,794.0 1838.1,793.6 1838.8,793.1 1839.5,792.7 1840.2,792.9 1840.9,791.5 1841.6,790.7 1842.3,791.0 1843.0,791.9 1843.7,791.8 1844.4,792.3 1845.1,791.5 1845.8,790.1 1846.5,789.9 1847.2,790.3 1847.9,791.0 1848.6,791.1 1849.3,790.6 1850.0,790.4 1850.7,792.1 1851.4,793.9 1852.1,792.6 1852.8,792.2 1853.5,792.5 1854.2,792.8 1854.9,792.7 1855.6,793.1 1856.3,791.8 1857.0,791.7 1857.7,792.5 1858.4,793.0 1859.1,792.4 1859.8,792.8 1860.5,793.8 1861.2,793.4 1861.9,792.4 1862.6,793.1 1863.3,793.4 1864.0,793.5 1864.7,792.6 1865.4,792.6 1866.1,792.3 1866.8,793.0 1867.5,793.6 1868.2,794.7 1868.9,795.5 1869.6,794.2 1870.3,792.3 1871.0,792.3 1871.7,791.8 1872.4,790.5 1873.1,789.1 1873.8,789.2 1874.5,789.1 1875.2,791.5 1875.9,792.0 1876.6,791.1 1877.3,790.6 1878.0,790.4 1878.7,790.3 1879.4,790.3 1880.1,792.8 1880.8,791.9 1881.5,790.1 1882.2,788.7 1882.9,789.5 1883.6,790.4 1884.3,789.6 1885.0,788.4 1885.7,788.3 1886.0,789.6"/>
<path class="c" stroke="#008000" d="M135.0,248.8 135.7,251.2 136.4,253.2 137.1,254.6 137.8,257.1 138.5,258.0 139.2,257.8 139.9,255.2 140.6,255.0 141.3,257.5 142.0,261.1 142.7,262.0 143.4,260.7 144.1,264.5 144.8,266.0 145.5,267.9 146.2,266.7 146.9,268.6 147.0,268.5 147.6,269.4 148.3,270.6 149.0,274.3 149.7,279.2 150.4,283.2 151.1,282.4 151.8,282.0 152.5,282.1 153.2,285.6 153.9,289.1 154.6,292.6 155.3,294.6 156.0,294.7 156.7,295.1 157.0,294.3 157.4,291.8 158.1,292.2 158.8,294.7 159.5,296.1 160.2,296.4 160.9,296.3 161.6,296.8 162.3,296.4 163.0,298.3 163.7,301.0 164.4,301.5 165.1,301.9 165.8,298.6 166.5,299.6 167.2,299.8 167.9,302.7 168.6,304.8 169.3,306.9 170.0,305.0 170.0,304.5 170.7,305.9 171.4,307.8 172.1,307.1 172.8,310.2 173.5,313.3 174.2,314.9 174.9,316.9 175.6,317.8 176.3,320.8 177.0,321.0 177.7,323.4 178.4,323.4 179.1,323.8 179.8,325.9 180.0,326.9 180.5,326.6 181.2,327.8 181.9,329.4 182.6,331.2 183.3,330.3 184.0,334.3 184.7,335.1 185.4,335.0 186.1,334.9 186.8,334.9 187.5,335.4 188.2,335.9 188.9,336.9 189.6,338.9 190.3,337.7 191.0,338.7 191.7,339.4 192.4,344.5 193.1,344.3 193.8,342.7 194.5,344.7 194.6,346.7 195.2,347.3 195.9,346.0 196.6,345.9 197.3,346.4 198.0,346.4 198.7,347.8 199.4,347.6 200.1,350.3 200.8,349.8 201.5,350.5 202.2,352.1 202.9,357.2 203.6,357.3 204.3,356.6 205.0,355.8 205.7,360.0 206.4,362.3 207.1,363.4 207.8,361.1 208.5,361.0 209.2,362.0 209.5,363.8 209.9,363.1 210.6,362.5 211.3,362.4 212.0,365.1 212.7,366.5 213.4,367.8 214.1,367.4 214.8,369.3 215.5,371.3 216.2,373.5 216.9,372.9 217.6,373.8 218.3,374.2 219.0,374.0 219.7,377.4 220.4,381.3 221.1,382.8 221.8,381.3 222.0,379.6 222.5,378.4 223.2,380.6 223.9,382.2 224.6,382.4 225.3,383.5 226.0,386.9 226.7,387.3 227.4,387.5 228.1,389.1 228.8,389.6 229.5,389.7 230.2,388.7 230.9,390.5 231.6,392.3 232.3,392.5 233.0,391.2 233.7,389.2 234.0,391.1 234.4,392.6 235.1,395.0 235.8,396.6 236.5,396.2 237.2,396.8 237.9,394.3 238.6,394.1 239.3,393.3 240.0,395.9 240.7,397.1 241.4,398.2 242.1,395.4 242.8,395.8 243.5,396.5 244.2,397.1 244.9,394.7 245.6,394.1 246.3,395.3 247.0,397.4 247.7,401.4 248.4,402.1 249.0,400.8 249.1,398.7 249.8,400.7 250.5,398.4 251.2,397.3 251.9,398.7 252.6,401.9 253.3,404.1 254.0,404.4 254.7,406.5 255.4,407.3 256.1,408.8 256.8,407.7 257.5,408.8 258.2,411.6 258.9,414.0 259.0,413.4 259.6,415.7 260.3,416.6 261.0,416.4 261.7,415.3 262.4,416.7 263.1,416.7 263.8,416.6 264.5,416.2 265.2,416.8 265.9,418.1 266.6,419.8 267.3,421.8 268.0,422.0 268.7,423.0 269.4,423.8 270.1,426.0 270.8,426.2 271.5,425.6 272.2,423.6 272.9,423.8 273.6,425.4 274.0,426.3 274.3,424.5 275.0,424.8 275.7,425.8 276.4,427.1 277.1,427.4 277.8,427.1 278.5,427.8 279.2,431.0 279.9,433.1 280.6,430.2 281.3,428.8 282.0,429.0 282.7,430.1 283.4,431.4 284.1,430.3 284.8,430.4 285.5,428.3 286.2,428.3 286.9,426.5 287.6,428.8 288.3,430.4 289.0,431.5 289.7,430.7 290.4,431.1 291.1,431.1 291.5,431.7 291.8,432.5 292.5,433.1 293.2,432.2 293.9,431.3 294.6,434.6 295.3,437.6 296.0,437.5 296.7,436.6 297.4,436.6 298.1,436.3 298.8,436.6 299.0,437.7 299.5,437.1 300.2,439.2 300.9,438.7 301.6,440.0 302.3,441.8 303.0,442.6 303.7,442.7 304.4,442.1 305.1,444.8 305.8,444.2 306.5,443.8 307.2,443.1 307.9,444.5 308.6,444.2 309.3,444.4 310.0,444.7 310.7,445.7 311.4,444.2 312.1,445.8 312.8,447.8 313.5,449.7 314.0,448.9 314.2,445.5 314.9,443.9 315.6,445.0 316.3,447.5 317.0,448.9 317.7,452.0 318.4,454.0 319.1,451.5 319.8,451.3 320.5,451.7 321.2,453.4 321.9,454.1 322.6,454.8 323.3,455.8 324.0,455.3 324.7,457.5 325.4,459.5 326.1,461.3 326.8,458.1 327.5,455.1 328.2,454.1 328.9,457.7 329.0,460.3 329.6,462.4 330.3,460.1 331.0,459.3 331.7,459.5 332.4,461.2 333.1,461.1 333.8,460.7 334.5,462.4 335.2,460.7 335.9,460.9 336.6,459.9 337.3,460.4 338.0,460.4 338.7,460.8 339.4,462.0 340.1,460.9 340.8,461.9 341.5,460.2 342.2,461.1 342.9,462.7 343.6,464.2 344.3,463.9 345.0,463.3 345.7,463.3 346.4,463.7 347.1,463.1 347.8,462.0 348.5,462.0 349.2,462.1 349.9,461.5 350.6,460.9 351.3,461.9 352.0,460.3 352.7,458.8 353.4,458.6 354.0,458.7 354.1,459.2 354.8,461.0 355.5,463.7 356.2,466.3 356.9,468.1 357.6,466.5 358.3,465.1 359.0,464.8 359.7,466.0 360.4,464.7 361.1,466.2 361.8,467.5 362.5,467.8 363.2,465.1 363.9,465.0 364.6,466.2 365.3,467.8 366.0,467.4 366.7,467.1 367.4,467.6 368.1,470.2 368.8,470.2 369.5,469.2 370.2,468.9 370.9,470.2 371.6,469.3 372.3,470.1 373.0,470.5 373.7,470.4 374.4,469.0 375.1,468.6 375.8,466.5 376.5,466.8 377.2,466.9 377.9,467.3 378.6,467.5 378.6,468.6 379.3,468.6 380.0,466.4 380.7,467.6 381.4,467.9 382.1,468.7 382.8,466.8 383.5,465.8 384.2,467.3 384.9,469.5 385.6,468.9 386.3,467.2 387.0,467.5 387.7,471.6 388.4,473.1 389.1,470.7 389.8,467.8 390.5,469.4 391.2,469.1 391.9,468.5 392.6,469.2 393.3,469.5 394.0,467.9 394.7,468.5 395.4,470.2 396.1,469.0 396.8,469.5 397.5,469.8 398.2,470.7 398.9,471.6 399.6,472.6 400.3,471.2 401.0,470.6 401.7,470.9 402.4,472.0 403.1,472.8 403.4,473.6 403.8,472.2 404.5,472.4 405.2,474.2 405.9,475.1 406.6,474.6 407.3,472.8 408.0,471.7 408.7,471.0 409.4,474.2 410.1,475.8 410.8,474.7 411.5,472.9 412.2,472.9 412.9,472.3 413.6,471.9 414.3,474.1 415.0,477.2 415.7,477.1 416.4,474.5 417.1,472.8 417.8,473.3 418.5,474.4 419.2,476.6 419.9,477.7 420.6,476.8 421.3,476.7 422.0,477.1 422.7,477.2 423.0,475.7 423.4,476.1 424.1,475.2 424.8,474.9 425.5,475.9 426.2,478.0 426.9,478.0 427.6,476.6 428.3,474.4 429.0,475.2 429.7,475.8 430.4,475.0 431.1,472.9 431.8,472.5 432.5,471.0 433.2,470.3 433.9,470.0 434.6,471.9 435.3,471.0 436.0,470.5 436.7,468.8 437.4,469.2 438.1,470.3 438.8,470.1 439.5,468.4 440.2,467.4 440.7,467.3 440.9,469.9 441.6,469.7 442.3,470.9 443.0,471.1 443.7,471.9 444.4,471.4 445.1,471.2 445.8,470.7 446.5,471.0 447.2,471.9 447.9,471.5 448.6,472.2 449.3,473.6 450.0,472.9 450.7,470.3 451.4,471.0 452.1,473.0 452.8,473.4 453.0,474.9 453.5,475.1 454.2,475.8 454.9,474.2 455.6,472.8 456.3,471.7 457.0,471.7 457.7,471.9 458.4,471.9 459.1,470.8 459.8,468.7 460.5,468.4 461.2,469.6 461.9,471.6 462.6,472.1 463.3,472.7 464.0,472.5 464.7,470.3 465.4,468.0 466.1,466.7 466.8,467.5 467.5,468.0 468.2,467.6 468.9,468.6 469.6,469.1 470.3,468.5 471.0,467.1 471.7,465.1 472.4,464.3 473.1,463.8 473.8,464.9 474.5,466.2 475.2,466.4 475.9,468.8 476.6,468.0 477.3,466.4 478.0,463.5 478.0,463.4 478.7,464.2 479.4,465.0 480.1,466.2 480.8,464.2 481.5,464.4 482.2,465.7 482.9,464.8 483.6,463.1 484.3,460.9 485.0,462.3 485.7,460.4 486.4,460.6 487.1,461.3 487.8,462.0 488.5,458.8 489.2,457.2 489.9,457.1 490.6,460.6 491.3,459.8 492.0,458.2 492.7,457.5 493.4,459.4 494.1,461.2 494.8,460.6 495.5,460.4 496.2,461.5 496.9,459.0 497.6,457.8 498.3,458.4 499.0,460.1 499.7,461.5 500.4,460.8 501.1,460.7 501.8,457.8 502.5,457.7 503.0,457.1 503.2,456.4 503.9,455.4 504.6,456.0 505.3,457.6 506.0,458.0 506.7,454.8 507.4,452.6 508.1,452.0 508.8,452.0 509.5,452.0 510.2,450.3 510.9,449.3 511.6,449.5 512.3,451.4 513.0,449.6 513.7,447.6 514.4,445.4 515.0,446.3 515.1,449.4 515.8,449.4 516.5,448.2 517.2,448.0 517.9,449.1 518.6,449.5 519.3,447.9 520.0,447.6 520.7,446.7 521.4,448.1 522.1,447.0 522.8,445.6 523.5,446.6 524.2,446.8 524.9,445.6 525.6,444.3 526.3,444.8 527.0,445.3 527.7,445.8 528.4,444.9 529.1,445.6 529.8,445.0 530.5,446.4 531.2,445.9 531.9,445.0 532.6,442.2 533.3,443.7 534.0,444.9 534.7,446.0 535.4,444.9 536.1,443.7 536.8,441.7 537.5,440.6 538.2,439.5 538.9,440.0 539.6,442.3 540.0,442.7 540.3,441.3 541.0,439.3 541.7,437.2 542.4,437.0 543.1,436.6 543.8,437.4 544.5,436.6 545.2,434.8 545.9,435.5 546.6,438.4 547.3,438.7 548.0,436.0 548.7,435.5 549.4,436.4 550.1,433.2 550.8,432.5 551.5,434.3 552.2,434.8 552.9,436.7 553.6,438.1 554.3,438.8 555.0,436.8 555.7,435.1 556.4,434.2 557.1,434.5 557.8,435.9 558.5,436.3 559.2,435.1 559.9,433.8 560.6,433.9 561.3,434.9 562.0,433.0 562.7,429.8 563.4,427.6 564.1,427.9 564.8,427.2 565.0,426.8 565.5,426.8 566.2,428.2 566.9,427.0 567.6,423.4 568.3,421.9 569.0,423.0 569.7,424.5 570.4,423.9 571.1,424.2 571.8,422.5 572.5,423.5 573.2,424.6 573.9,423.9 574.6,419.6 575.3,416.0 576.0,416.4 576.7,417.8 577.4,417.8 578.1,417.9 578.8,419.1 579.5,418.4 580.2,415.9 580.9,413.3 581.6,411.9 582.3,411.1 583.0,410.5 583.7,409.3 584.4,406.4 585.0,407.0 585.1,409.1 585.8,411.0 586.5,412.6 587.2,410.0 587.9,408.2 588.6,408.0 589.3,410.3 590.0,408.1 590.7,408.2 591.4,408.0 592.1,410.2 592.8,408.4 593.5,406.5 594.2,403.7 594.9,402.3 595.6,404.7 596.3,407.0 597.0,408.4 597.7,406.8 598.4,403.4 599.1,402.0 599.8,401.5 600.5,404.6 601.2,403.3 601.9,401.0 602.6,398.7 603.3,399.2 604.0,398.0 604.7,397.7 605.4,397.4 606.1,395.2 606.8,393.5 607.0,396.4 607.5,396.5 608.2,393.6 608.9,389.6 609.6,386.1 610.3,383.7 611.0,382.5 611.7,383.4 612.4,381.1 612.4,381.5 613.1,379.6 613.8,380.0 614.5,380.8 615.2,381.2 615.9,379.1 616.6,376.9 617.3,374.8 618.0,375.3 618.7,375.4 619.4,375.3 620.1,376.0 620.8,376.1 621.5,378.0 622.2,378.2 622.9,381.1 623.6,377.8 624.3,375.2 625.0,372.0 625.7,373.3 626.4,374.4 627.1,377.5 627.8,377.3 628.5,377.7 629.2,375.4 629.8,374.1 629.9,372.5 630.6,375.1 631.3,373.8 632.0,371.6 632.7,369.4 633.4,370.8 634.1,370.7 634.8,370.1 635.5,369.1 636.2,370.1 636.9,370.0 637.6,370.2 638.3,367.0 639.0,366.6 639.7,365.0 640.4,365.7 641.1,364.2 641.8,364.2 642.5,364.3 643.2,363.9 643.9,360.8 644.6,358.7 645.3,360.6 646.0,362.3 646.7,360.6 647.0,359.9 647.4,359.8 648.1,360.3 648.8,356.7 649.5,356.7 650.2,357.1 650.9,356.6 651.6,353.8 652.3,351.7 653.0,352.6 653.7,352.6 654.4,351.6 655.1,348.5 655.8,347.3 656.5,347.0 657.2,347.5 657.9,345.2 658.6,347.3 659.3,350.9 660.0,353.7 660.7,351.3 661.4,348.4 662.1,348.3 662.8,350.6 663.5,350.1 664.2,349.2 664.6,348.4 664.9,349.1 665.6,347.0 666.3,345.6 667.0,344.4 667.7,343.8 668.4,343.1 669.1,345.0 669.8,344.2 670.5,343.7 671.2,343.7 671.9,344.4 672.6,342.3 673.3,341.8 674.0,342.5 674.7,342.7 675.4,340.0 676.1,338.1 676.8,337.4 677.5,338.8 678.2,338.2 678.9,338.3 679.6,338.6 680.3,338.6 681.0,340.7 681.7,340.6 682.0,341.1 682.4,338.1 683.1,338.1 683.8,337.1 684.5,336.7 685.2,335.1 685.9,331.7 686.6,330.0 687.3,326.6 688.0,325.0 688.7,323.3 689.4,323.0 690.1,320.4 690.8,317.7 691.5,315.6 692.2,315.2 692.9,316.6 693.6,317.0 694.3,314.7 694.4,315.6 695.0,316.4 695.7,312.7 696.4,309.9 697.1,311.0 697.8,313.1 698.5,314.9 699.2,314.6 699.9,312.9 700.6,311.4 701.3,309.9 702.0,308.4 702.7,308.2 703.4,308.9 704.1,308.9 704.8,309.4 705.5,310.0 706.2,310.5 706.9,309.9 707.6,311.2 708.3,311.0 709.0,309.4 709.3,308.7 709.7,305.9 710.4,308.1 711.1,308.1 711.8,307.4 712.5,302.8 713.2,300.7 713.9,302.2 714.6,306.1 715.3,306.5 716.0,306.9 716.7,306.5 717.4,307.9 718.1,309.3 718.8,308.4 719.5,309.4 720.2,307.7 720.9,308.6 721.6,306.3 722.3,306.4 723.0,305.6 723.7,306.4 724.2,307.4 724.4,309.9 725.1,307.5 725.8,304.8 726.5,302.0 727.2,304.6 727.9,305.0 728.6,306.7 729.3,305.8 730.0,303.3 730.7,302.1 731.4,301.5 732.1,304.6 732.8,306.0 733.5,309.3 734.2,307.3 734.9,308.4 735.6,308.7 736.3,307.3 737.0,306.9 737.7,310.5 738.4,311.3 739.0,308.8 739.1,305.8 739.8,306.8 740.5,307.4 741.2,308.6 741.9,308.4 742.6,308.9 743.3,307.8 744.0,308.7 744.7,309.8 745.4,312.8 746.1,312.6 746.8,311.9 747.5,312.2 748.2,311.8 748.9,310.0 749.0,308.1 749.6,304.5 750.3,304.3 751.0,304.6 751.7,307.3 752.4,305.4 753.1,305.7 753.8,306.2 754.5,307.5 755.2,308.7 755.9,309.0 756.6,307.5 757.3,305.5 758.0,308.2 758.7,309.6 759.4,311.2 760.1,310.7 760.8,313.7 761.5,314.1 761.5,315.8 762.2,315.7 762.9,317.2 763.6,317.6 764.3,319.6 765.0,319.7 765.7,318.7 766.4,318.5 767.1,319.3 767.8,320.9 768.5,323.9 769.2,327.0 769.9,326.8 770.6,328.3 771.3,330.6 771.5,334.3 772.0,334.2 772.7,336.1 773.4,340.0 774.1,342.4 774.8,343.0 775.5,343.8 776.2,345.0 776.9,347.3 777.6,350.7 778.3,353.3 779.0,353.0 779.0,354.4 779.7,357.2 780.4,357.5 781.1,357.6 781.8,357.7 782.5,358.3 783.2,360.8 783.9,361.6 784.6,362.8 785.3,361.3 786.0,362.8 786.7,361.9 787.4,365.0 788.1,365.0 788.8,366.4 789.5,367.6 790.2,368.7 790.9,367.7 791.3,368.1 791.6,369.7 792.3,372.3 793.0,370.9 793.7,368.5 794.4,366.3 795.1,366.1 795.8,364.7 796.5,364.7 797.2,364.5 797.6,365.1 797.9,365.0 798.6,360.6 799.3,355.6 800.0,351.3 800.7,347.8 801.4,342.9 802.1,340.3 802.5,343.7 802.8,347.0 803.5,348.7 804.2,349.6 804.9,353.1 805.6,358.4 806.3,364.9 806.5,366.3 807.0,372.6 807.7,387.0 808.4,400.4 808.7,404.0 809.1,405.6 809.8,408.7 810.5,411.7 811.2,414.7 811.9,417.0 812.6,416.9 813.3,418.1 814.0,420.5 814.7,421.6 815.4,423.5 816.0,426.3 816.1,427.7 816.8,429.1 817.5,431.6 818.2,432.6 818.9,432.3 819.6,432.7 820.3,434.6 821.0,436.2 821.7,437.5 822.4,439.5 823.1,441.4 823.8,440.2 824.5,439.5 825.2,441.0 825.9,443.6 826.6,444.6 827.3,446.5 828.0,447.9 828.6,447.1 828.7,445.6 829.4,447.4 830.1,449.1 830.8,450.1 831.5,451.0 832.2,454.4 832.9,455.1 833.6,454.5 834.3,453.9 835.0,455.8 835.7,459.7 836.4,459.9 837.1,460.3 837.8,459.6 838.5,463.2 838.6,464.6 839.2,465.6 839.9,465.8 840.6,466.1 841.3,466.3 842.0,466.5 842.7,468.4 843.4,471.4 844.1,471.8 844.8,472.5 845.5,476.1 846.2,477.5 846.9,478.7 847.6,479.2 848.3,481.2 849.0,479.9 849.7,478.7 850.4,479.1 851.0,481.5 851.1,481.3 851.8,480.5 852.5,480.2 853.2,483.7 853.9,483.2 854.6,482.3 855.3,483.1 856.0,485.9 856.7,485.7 857.4,483.7 858.1,484.3 858.8,487.4 859.5,487.3 860.2,486.4 860.9,485.6 861.6,488.0 862.3,489.4 863.0,491.8 863.7,493.4 864.4,493.9 865.1,493.0 865.8,494.5 866.0,495.9 866.5,497.8 867.2,499.2 867.9,500.3 868.6,500.3 869.3,499.9 870.0,500.6 870.7,501.6 871.4,503.1 872.1,504.6 872.8,505.2 873.5,506.4 874.2,507.9 874.9,509.8 875.6,510.8 876.0,510.7 876.3,510.8 877.0,512.8 877.7,514.6 878.4,514.8 879.1,515.5 879.8,516.1 880.5,517.8 881.2,518.9 881.9,520.4 882.6,522.2 883.3,525.6 884.0,527.1 884.7,527.9 885.4,528.3 886.1,528.0 886.8,526.7 887.5,529.1 888.0,531.3 888.2,530.7 888.9,531.4 889.6,532.1 890.3,532.0 891.0,531.2 891.7,533.4 892.4,535.2 893.1,536.0 893.8,534.6 894.5,533.6 895.2,533.4 895.9,535.3 896.6,535.5 897.3,536.0 898.0,535.8 898.7,534.3 899.4,532.8 900.1,534.6 900.8,536.9 901.5,537.5 902.2,538.1 902.9,538.3 903.6,539.0 904.3,537.7 905.0,537.3 905.7,537.7 906.4,539.4 907.1,539.9 907.8,540.5 908.0,542.0 908.5,541.3 909.2,539.6 909.9,538.3 910.6,539.1 911.3,538.6 912.0,539.8 912.7,540.4 913.4,541.3 914.1,542.1 914.8,542.3 915.5,542.5 916.2,543.3 916.9,544.8 917.6,546.1 918.3,546.1 919.0,545.7 919.7,545.9 920.4,547.6 921.1,549.7 921.8,550.4 922.5,549.9 923.2,548.8 923.9,547.5 924.6,547.9 925.3,546.6 925.6,547.8 926.0,550.2 926.7,553.9 927.4,551.9 928.1,550.5 928.8,549.7 929.5,549.7 930.2,550.1 930.9,550.0 931.6,549.9 932.3,549.6 933.0,548.7 933.7,547.9 934.4,547.3 935.1,550.5 935.8,553.1 936.5,553.8 937.2,554.3 937.9,553.6 938.6,554.4 939.3,554.3 940.0,553.4 940.7,552.7 941.4,553.7 942.1,554.9 942.8,555.1 943.5,555.1 944.2,556.9 944.9,557.4 945.6,558.1 946.3,558.2 947.0,559.5 947.7,558.0 948.0,557.5 948.4,557.6 949.1,559.3 949.8,558.2 950.5,558.5 951.2,559.4 951.9,559.9 952.6,559.0 953.3,559.4 954.0,560.4 954.7,561.0 955.4,560.3 956.1,561.3 956.8,562.8 957.5,565.0 958.2,565.8 958.9,566.5 959.6,566.7 960.3,567.8 961.0,568.3 961.7,568.0 962.4,568.3 963.0,570.0 963.1,569.2 963.8,568.0 964.5,566.2 965.2,567.3 965.9,568.5 966.6,570.1 967.3,570.5 968.0,569.6 968.7,570.2 969.4,569.9 970.1,570.1 970.8,570.6 971.5,571.3 972.2,571.8 972.9,570.4 973.6,571.5 974.3,570.8 975.0,569.7 975.7,569.3 976.4,569.7 977.1,570.8 977.8,570.1 978.5,570.8 979.2,570.7 979.9,570.3 980.6,569.0 981.3,568.2 982.0,568.1 982.7,568.3 983.4,569.9 984.1,571.4 984.8,570.3 985.5,569.3 986.2,569.9 986.9,572.2 987.6,573.4 987.7,573.7 988.3,573.9 989.0,574.4 989.7,573.3 990.4,572.4 991.1,571.5 991.8,572.8 992.5,573.2 993.2,573.1 993.9,572.1 994.6,571.9 995.3,573.1 996.0,574.3 996.7,573.3 997.4,574.6 998.1,574.5 998.8,576.4 999.5,575.3 1000.2,574.6 1000.9,574.3 1001.6,574.0 1002.3,573.2 1003.0,573.2 1003.7,575.6 1004.4,577.4 1005.1,577.1 1005.8,577.1 1006.5,575.6 1007.2,575.2 1007.9,576.1 1008.6,576.6 1009.3,576.1 1010.0,573.7 1010.7,573.9 1011.4,573.4 1012.1,575.2 1012.6,577.5 1012.8,579.6 1013.5,579.5 1014.2,577.4 1014.9,577.7 1015.6,577.1 1016.3,577.1 1017.0,578.8 1017.7,579.9 1018.4,579.1 1019.1,577.0 1019.8,578.4 1020.5,579.3 1021.2,579.0 1021.9,577.5 1022.6,578.5 1023.3,581.3 1024.0,583.1 1024.7,582.8 1025.4,582.2 1026.1,582.9 1026.8,583.6 1027.5,581.4 1028.2,579.0 1028.9,577.0 1029.6,578.7 1030.3,578.8 1031.0,578.2 1031.7,577.9 1032.4,578.3 1033.1,577.9 1033.8,578.3 1034.5,580.0 1035.2,581.8 1035.9,581.4 1036.6,582.8 1037.3,581.5 1037.4,580.8 1038.0,579.0 1038.7,578.7 1039.4,578.9 1040.1,580.7 1040.8,582.2 1041.5,583.8 1042.2,583.8 1042.9,583.8 1043.6,582.9 1044.3,582.7 1045.0,580.9 1045.7,579.3 1046.4,577.8 1047.1,577.7 1047.8,578.3 1048.5,577.0 1049.2,574.0 1049.9,574.0 1050.0,576.6 1050.6,578.5 1051.3,579.8 1052.0,581.0 1052.7,580.6 1053.4,580.3 1054.1,582.3 1054.8,584.5 1055.5,583.5 1056.2,581.7 1056.9,580.2 1057.6,581.2 1058.3,582.7 1059.0,583.3 1059.7,582.3 1060.4,581.6 1061.1,581.0 1061.8,579.9 1062.5,579.3 1063.2,579.4 1063.9,580.1 1064.6,580.5 1065.3,581.5 1066.0,581.5 1066.7,581.0 1067.4,578.3 1068.1,576.5 1068.8,576.7 1069.5,577.8 1070.2,578.4 1070.9,578.5 1071.6,578.9 1072.3,579.8 1073.0,579.6 1073.7,579.8 1074.4,579.6 1075.0,579.3 1075.1,579.3 1075.8,579.7 1076.5,580.3 1077.2,578.9 1077.9,577.9 1078.6,579.5 1079.3,579.8 1080.0,580.6 1080.7,580.5 1081.4,581.7 1082.1,580.6 1082.8,580.8 1083.5,581.5 1084.2,582.2 1084.9,580.1 1085.6,579.7 1086.3,578.6 1087.0,579.1 1087.7,579.7 1088.4,581.1 1089.1,581.7 1089.8,581.4 1090.5,581.6 1091.2,580.9 1091.9,581.3 1092.6,582.6 1093.3,583.1 1094.0,581.2 1094.7,581.4 1095.4,580.9 1096.1,580.8 1096.8,581.4 1097.5,582.4 1098.2,583.8 1098.9,583.8 1099.6,582.6 1100.0,580.7 1100.3,580.5 1101.0,582.9 1101.7,583.2 1102.4,582.1 1103.1,581.7 1103.8,581.8 1104.5,582.5 1105.2,582.1 1105.9,581.6 1106.6,580.6 1107.3,579.6 1108.0,581.3 1108.7,582.8 1109.4,583.2 1110.1,582.7 1110.8,581.7 1111.5,582.4 1112.2,582.4 1112.9,583.8 1113.6,582.5 1114.3,581.8 1115.0,581.5 1115.7,583.1 1116.4,583.2 1117.1,582.7 1117.8,582.1 1118.5,582.7 1119.2,582.3 1119.9,583.4 1120.6,582.6 1121.3,583.1 1122.0,582.4 1122.7,583.5 1123.4,583.0 1124.1,584.3 1124.6,584.0 1124.8,582.3 1125.5,580.1 1126.2,580.4 1126.9,582.5 1127.6,582.8 1128.3,582.3 1129.0,582.7 1129.7,582.6 1130.4,581.9 1131.1,581.1 1131.8,581.2 1132.5,581.8 1133.2,583.1 1133.9,584.5 1134.6,583.8 1135.3,585.1 1136.0,585.8 1136.7,585.3 1137.4,583.2 1138.1,582.7 1138.8,583.9 1139.5,583.5 1140.2,582.3 1140.9,581.5 1141.6,583.6 1142.3,584.6 1143.0,585.1 1143.7,584.4 1144.4,585.8 1145.1,586.8 1145.8,587.6 1146.5,587.2 1147.2,588.1 1147.9,590.2 1148.6,591.0 1149.3,590.5 1149.4,590.2 1150.0,588.5 1150.7,588.9 1151.4,588.2 1152.1,588.6 1152.8,587.7 1153.5,587.0 1154.2,587.3 1154.9,587.4 1155.6,589.0 1156.3,589.2 1157.0,587.9 1157.7,586.9 1158.4,586.5 1159.1,586.7 1159.8,587.8 1160.5,588.2 1161.2,588.0 1161.9,588.0 1162.6,589.5 1163.3,589.8 1164.0,588.6 1164.7,587.6 1165.4,588.3 1166.1,588.2 1166.8,588.3 1167.5,587.1 1168.2,586.6 1168.9,585.7 1169.6,584.5 1170.3,585.7 1171.0,586.1 1171.7,585.3 1172.4,584.9 1173.1,583.6 1173.8,584.3 1174.3,584.1 1174.5,585.7 1175.2,585.7 1175.9,586.9 1176.6,587.5 1177.3,586.9 1178.0,587.1 1178.7,587.7 1179.4,587.8 1180.1,587.9 1180.8,587.1 1181.5,585.6 1182.2,584.6 1182.9,585.2 1183.6,586.9 1184.3,588.0 1185.0,586.4 1185.7,584.4 1186.4,583.3 1187.1,583.5 1187.8,582.8 1188.5,584.1 1189.2,585.7 1189.9,586.6 1190.6,584.9 1191.3,584.0 1192.0,583.6 1192.7,583.8 1193.4,584.9 1194.1,586.7 1194.8,588.2 1195.5,588.3 1196.2,586.7 1196.9,583.6 1197.6,583.2 1198.3,584.7 1199.0,586.5 1199.0,586.1 1199.7,585.3 1200.4,583.5 1201.1,582.3 1201.8,584.8 1202.5,586.7 1203.2,586.2 1203.9,585.9 1204.6,586.5 1205.3,587.8 1206.0,586.2 1206.7,587.9 1207.4,588.5 1208.1,589.2 1208.8,587.1 1209.5,586.3 1210.2,585.8 1210.9,585.7 1211.6,584.5 1212.3,583.2 1213.0,582.4 1213.7,582.0 1214.4,582.4 1215.1,583.6 1215.8,584.0 1216.5,583.0 1217.2,581.5 1217.9,581.1 1218.6,580.9 1219.3,581.3 1220.0,581.7 1220.7,581.8 1221.4,582.8 1222.1,583.4 1222.8,583.3 1223.5,582.8 1224.0,581.3 1224.2,580.3 1224.9,580.2 1225.6,581.6 1226.3,583.5 1227.0,584.1 1227.7,582.5 1228.4,580.6 1229.1,581.2 1229.8,581.1 1230.5,581.2 1231.2,583.9 1231.9,584.6 1232.6,582.9 1233.3,581.6 1234.0,581.1 1234.7,579.9 1235.4,580.1 1236.1,581.5 1236.8,582.3 1237.5,581.4 1238.2,581.0 1238.9,579.3 1239.6,578.3 1240.3,579.4 1241.0,578.0 1241.7,576.7 1242.4,574.8 1243.1,575.2 1243.8,575.5 1244.5,576.2 1245.2,576.2 1245.9,575.6 1246.6,576.7 1247.3,576.5 1248.0,576.0 1248.7,576.7 1249.0,578.1 1249.4,578.4 1250.1,577.1 1250.8,576.3 1251.5,576.4 1252.2,577.3 1252.9,577.0 1253.6,575.4 1254.3,576.7 1255.0,577.4 1255.7,579.0 1256.4,579.0 1257.1,579.7 1257.8,578.8 1258.5,578.0 1259.2,577.5 1259.9,577.0 1260.6,577.2 1261.3,577.7 1262.0,577.3 1262.7,575.9 1263.4,576.1 1264.1,577.6 1264.8,577.3 1265.5,575.7 1266.2,574.5 1266.9,574.9 1267.6,573.5 1268.3,573.7 1269.0,573.3 1269.7,575.1 1270.4,575.5 1271.1,575.8 1271.8,574.3 1272.5,573.8 1273.2,573.3 1273.7,572.6 1273.9,572.2 1274.6,571.8 1275.3,571.6 1276.0,571.8 1276.7,572.9 1277.4,573.7 1278.1,573.9 1278.8,573.0 1279.5,572.4 1280.2,571.2 1280.9,570.8 1281.6,571.6 1282.3,573.2 1283.0,573.2 1283.7,570.8 1284.4,570.4 1285.1,571.5 1285.8,573.3 1286.5,573.4 1287.2,572.4 1287.9,570.3 1288.6,568.7 1289.3,568.9 1290.0,570.2 1290.7,569.6 1291.4,567.5 1292.1,566.2 1292.8,565.6 1293.5,565.4 1294.2,562.9 1294.9,562.3 1295.6,564.0 1296.3,565.6 1297.0,564.9 1297.7,564.1 1298.4,564.3 1298.6,563.7 1299.1,562.9 1299.8,562.3 1300.5,562.6 1301.2,562.8 1301.9,563.4 1302.6,562.0 1303.3,562.4 1304.0,561.4 1304.7,561.5 1305.4,560.4 1306.1,560.0 1306.8,558.9 1307.5,558.9 1308.2,558.8 1308.9,559.1 1309.6,559.6 1310.3,560.1 1311.0,560.0 1311.7,558.2 1312.4,556.3 1313.1,555.4 1313.8,555.1 1314.5,556.1 1315.2,555.4 1315.9,555.0 1316.6,555.1 1317.3,554.6 1318.0,554.8 1318.5,555.5 1318.7,556.8 1319.4,556.0 1320.1,554.6 1320.8,556.0 1321.5,556.6 1322.2,558.0 1322.9,557.8 1323.6,557.7 1324.3,556.8 1325.0,556.9 1325.7,556.7 1326.4,556.8 1327.1,557.2 1327.8,557.0 1328.5,555.6 1329.2,554.2 1329.9,553.5 1330.6,553.1 1331.3,553.6 1332.0,552.5 1332.7,552.4 1333.4,554.9 1334.1,555.9 1334.8,556.6 1335.5,556.5 1336.0,558.9 1336.2,557.7 1336.9,559.1 1337.6,558.6 1338.3,558.5 1339.0,558.5 1339.7,558.9 1340.4,556.0 1341.1,554.3 1341.8,554.4 1342.5,555.1 1343.2,553.8 1343.9,552.9 1344.6,554.8 1345.3,556.7 1346.0,556.3 1346.7,554.3 1347.4,553.1 1348.1,554.2 1348.8,553.3 1349.5,554.7 1350.2,554.1 1350.9,553.5 1351.6,550.9 1352.3,550.1 1353.0,551.7 1353.7,552.7 1354.4,552.2 1354.5,550.9 1355.1,552.1 1355.8,552.6 1356.5,550.0 1357.2,549.5 1357.9,551.9 1358.6,553.1 1359.3,552.6 1360.0,553.7 1360.7,552.2 1361.4,553.1 1362.1,552.5 1362.8,555.1 1363.5,554.2 1364.2,556.8 1364.9,557.2 1365.6,557.8 1366.3,554.0 1367.0,553.1 1367.7,553.6 1368.4,554.5 1369.1,551.5 1369.8,551.2 1370.5,553.6 1371.2,556.6 1371.9,556.7 1372.6,555.7 1373.0,553.9 1373.3,555.4 1374.0,555.6 1374.7,557.5 1375.4,557.2 1376.1,557.5 1376.8,558.2 1377.5,558.6 1378.2,558.9 1378.9,558.0 1379.6,557.5 1380.3,555.4 1381.0,557.2 1381.7,558.7 1382.4,559.1 1383.1,556.9 1383.8,558.2 1384.5,560.1 1385.2,561.9 1385.9,561.8 1386.6,558.7 1387.3,557.8 1388.0,558.7 1388.7,561.3 1389.4,561.7 1390.1,561.9 1390.8,561.9 1391.5,561.9 1392.2,560.4 1392.9,560.8 1393.6,561.3 1394.3,562.3 1395.0,563.6 1395.7,564.6 1396.4,564.8 1397.1,562.7 1397.8,561.9 1398.0,563.0 1398.5,564.7 1399.2,566.3 1399.9,565.5 1400.6,565.1 1401.3,565.1 1402.0,564.8 1402.7,563.0 1403.4,563.9 1404.1,566.2 1404.8,568.0 1405.5,567.5 1406.2,566.1 1406.9,565.8 1407.6,565.5 1408.3,567.1 1409.0,566.4 1409.7,566.2 1410.4,566.4 1411.1,567.6 1411.8,567.9 1412.5,567.9 1413.2,567.0 1413.9,567.5 1414.6,568.7 1415.3,568.8 1416.0,567.4 1416.7,566.3 1417.4,565.6 1418.1,565.1 1418.8,566.3 1419.5,567.0 1420.2,568.2 1420.9,567.3 1421.6,567.3 1422.3,566.9 1422.9,568.8 1423.0,568.5 1423.7,567.8 1424.4,568.7 1425.1,571.0 1425.8,570.7 1426.5,570.8 1427.2,572.4 1427.9,574.5 1428.6,572.3 1429.3,570.0 1430.0,568.7 1430.7,569.7 1431.4,568.4 1432.1,569.8 1432.8,570.3 1433.5,571.1 1434.2,571.3 1434.9,572.4 1435.6,572.2 1436.3,571.0 1437.0,571.2 1437.7,571.4 1438.4,570.5 1439.1,570.6 1439.8,571.1 1440.5,572.1 1441.2,571.2 1441.9,570.2 1442.6,569.7 1443.3,569.2 1444.0,571.3 1444.7,574.3 1445.4,575.6 1446.1,574.3 1446.8,574.0 1447.5,574.2 1447.7,572.9 1448.2,570.8 1448.9,571.5 1449.6,573.9 1450.3,575.1 1451.0,573.4 1451.7,571.5 1452.4,572.0 1453.1,571.6 1453.8,572.6 1454.5,573.6 1455.2,575.1 1455.9,573.8 1456.6,574.5 1457.3,574.7 1458.0,575.1 1458.7,573.9 1459.4,574.0 1460.1,576.0 1460.8,577.0 1461.5,577.6 1462.2,577.1 1462.9,577.5 1463.6,578.5 1464.3,576.3 1465.0,576.4 1465.7,575.7 1466.4,577.6 1467.1,577.9 1467.8,576.5 1468.5,576.0 1469.2,576.9 1469.9,578.0 1470.6,577.1 1471.3,576.7 1472.0,577.6 1472.6,578.0 1472.7,578.8 1473.4,578.7 1474.1,578.8 1474.8,579.1 1475.5,579.6 1476.2,580.3 1476.9,579.9 1477.6,581.0 1478.3,581.6 1479.0,582.2 1479.7,580.7 1480.4,578.5 1481.1,579.0 1481.8,578.6 1482.5,580.0 1483.2,579.4 1483.9,579.6 1484.6,579.2 1485.3,579.9 1486.0,580.7 1486.7,582.7 1487.4,582.4 1488.1,580.4 1488.8,579.6 1489.5,580.6 1490.2,581.4 1490.9,580.9 1491.6,580.6 1492.3,579.4 1493.0,580.0 1493.7,582.1 1494.4,583.9 1495.1,584.7 1495.8,584.5 1496.5,584.3 1497.2,584.3 1497.4,584.9 1497.9,584.4 1498.6,583.3 1499.3,584.4 1500.0,586.2 1500.7,587.7 1501.4,585.2 1502.1,584.3 1502.8,583.4 1503.5,583.6 1504.2,582.9 1504.9,582.8 1505.6,581.7 1506.3,581.1 1507.0,583.2 1507.7,585.2 1508.4,585.7 1509.1,584.5 1509.8,584.0 1510.5,585.2 1511.2,584.8 1511.9,585.6 1512.6,586.0 1513.3,586.5 1514.0,584.5 1514.7,584.8 1515.4,585.3 1516.1,586.8 1516.8,584.8 1517.5,584.5 1518.2,584.9 1518.9,586.3 1519.6,587.1 1520.3,588.3 1521.0,590.1 1521.7,589.2 1522.4,588.9 1523.1,588.3 1523.8,588.7 1524.5,588.4 1525.2,586.9 1525.9,584.6 1526.6,585.6 1527.3,587.0 1528.0,586.9 1528.5,585.1 1528.7,586.4 1529.4,585.6 1530.1,584.7 1530.8,584.7 1531.5,586.8 1532.2,587.3 1532.9,585.5 1533.6,584.3 1534.3,586.2 1535.0,587.5 1535.7,586.0 1536.4,585.0 1537.1,586.3 1537.8,586.9 1538.5,584.9 1539.2,585.4 1539.9,586.4 1540.6,587.3 1541.3,587.1 1542.0,587.1 1542.7,587.2 1543.4,588.0 1544.1,586.8 1544.8,585.1 1545.5,583.7 1546.2,585.6 1546.9,586.1 1547.6,584.4 1548.3,582.6 1549.0,583.1 1549.7,583.4 1550.4,582.8 1551.1,582.3 1551.8,581.5 1552.5,583.1 1553.2,584.9 1553.9,585.4 1554.6,584.1 1555.3,585.9 1556.0,585.7 1556.7,583.9 1557.4,584.1 1558.1,585.7 1558.8,586.1 1559.5,585.2 1560.2,585.0 1560.9,584.7 1561.6,585.8 1562.3,586.3 1563.0,586.1 1563.0,584.9 1563.7,583.5 1564.4,584.9 1565.1,585.9 1565.8,586.5 1566.5,585.5 1567.2,586.4 1567.9,586.7 1568.6,585.9 1569.3,584.3 1570.0,583.2 1570.7,583.7 1571.4,584.3 1572.1,584.1 1572.8,583.8 1573.5,585.6 1574.2,585.2 1574.9,583.6 1575.6,583.3 1576.3,584.4 1577.0,584.5 1577.7,584.1 1578.4,584.3 1579.1,585.1 1579.8,585.0 1580.5,586.8 1581.2,587.1 1581.9,588.3 1582.6,588.3 1583.3,588.0 1584.0,589.7 1584.7,589.9 1585.4,589.5 1586.1,587.5 1586.8,589.0 1587.5,590.8 1588.2,589.9 1588.9,590.0 1589.6,589.1 1590.3,590.7 1591.0,589.9 1591.7,590.1 1592.4,589.0 1593.1,589.4 1593.8,589.5 1594.5,589.6 1595.2,589.1 1595.9,590.1 1596.6,591.4 1597.3,591.2 1598.0,591.8 1598.7,590.9 1599.4,591.7 1600.0,592.0 1600.1,593.1 1600.8,593.8 1601.5,593.1 1602.2,592.2 1602.9,592.3 1603.6,593.0 1604.3,592.0 1605.0,592.3 1605.7,593.8 1606.4,594.1 1607.1,594.4 1607.8,594.5 1608.5,593.4 1609.2,591.2 1609.9,592.0 1610.6,593.1 1611.3,593.9 1612.0,592.7 1612.7,592.3 1613.4,593.2 1614.1,596.1 1614.8,596.7 1615.5,596.4 1616.2,595.5 1616.9,595.0 1617.6,594.6 1618.3,593.8 1619.0,594.8 1619.7,594.9 1620.4,594.4 1621.1,594.1 1621.8,593.5 1622.5,591.8 1623.2,592.7 1623.9,593.6 1624.6,594.2 1625.3,594.1 1626.0,594.9 1626.7,592.7 1627.4,592.8 1628.1,594.2 1628.8,595.8 1629.5,594.8 1630.2,595.4 1630.9,594.6 1631.6,594.6 1632.3,593.9 1633.0,594.2 1633.7,594.8 1634.4,595.5 1635.1,596.3 1635.8,596.7 1636.5,596.8 1637.2,597.1 1637.9,598.1 1638.6,598.2 1639.3,599.5 1640.0,597.4 1640.7,597.1 1641.4,595.1 1642.1,596.9 1642.8,596.1 1643.5,596.9 1644.2,596.4 1644.9,596.0 1645.6,596.2 1646.3,597.2 1647.0,596.1 1647.7,596.5 1648.4,597.8 1649.1,599.5 1649.8,598.6 1650.5,598.4 1651.2,599.0 1651.9,600.1 1652.6,601.2 1653.3,600.8 1654.0,598.9 1654.7,598.0 1655.4,598.1 1656.1,598.9 1656.8,598.4 1657.5,597.2 1658.2,597.4 1658.9,597.0 1659.6,598.1 1660.3,599.3 1661.0,599.4 1661.7,597.3 1662.4,595.3 1663.1,596.0 1663.8,596.9 1664.5,597.8 1665.2,597.2 1665.9,595.7 1666.6,595.4 1667.3,597.4 1668.0,597.0 1668.7,596.6 1669.4,597.8 1670.1,599.2 1670.8,599.6 1671.5,600.2 1672.2,601.3 1672.9,600.4 1673.6,599.0 1674.3,599.0 1674.7,598.2 1675.0,597.0 1675.7,596.3 1676.4,596.3 1677.1,596.9 1677.8,596.8 1678.5,597.7 1679.2,596.4 1679.9,597.2 1680.6,596.3 1681.3,595.3 1682.0,594.2 1682.7,594.6 1683.4,597.8 1684.1,599.9 1684.8,600.8 1685.5,599.0 1686.2,598.9 1686.9,600.2 1687.6,601.3 1688.3,603.1 1689.0,602.3 1689.7,599.6 1690.4,597.5 1691.1,597.5 1691.8,597.6 1692.5,597.9 1693.2,598.9 1693.9,599.3 1694.6,599.9 1695.3,600.1 1696.0,599.5 1696.7,598.3 1697.4,599.1 1698.1,599.7 1698.8,599.7 1699.5,598.5 1700.2,599.0 1700.9,598.8 1701.6,598.5 1702.3,598.3 1703.0,598.8 1703.7,598.4 1704.4,596.4 1705.1,596.9 1705.8,597.8 1706.5,597.4 1707.2,595.1 1707.9,595.4 1708.6,597.1 1709.3,596.9 1710.0,596.5 1710.7,596.7 1711.4,598.9 1712.1,600.6 1712.8,601.4 1713.5,599.6 1714.2,598.6 1714.9,599.6 1715.6,601.1 1716.3,601.4 1717.0,601.4 1717.7,601.1 1718.4,601.2 1719.1,600.6 1719.8,600.2 1720.5,600.3 1721.2,600.9 1721.9,599.5 1722.6,597.7 1723.3,596.9 1724.0,597.5 1724.7,597.8 1725.4,598.4 1726.1,599.7 1726.8,599.5 1727.5,599.2 1728.2,598.5 1728.9,599.5 1729.6,599.3 1730.3,599.7 1731.0,600.4 1731.7,601.8 1732.4,604.5 1733.1,605.5 1733.8,605.0 1734.5,603.8 1735.2,603.0 1735.9,601.5 1736.6,600.6 1737.3,601.0 1738.0,601.6 1738.7,602.3 1739.4,601.2 1740.1,602.1 1740.8,602.9 1741.5,602.9 1742.2,601.4 1742.9,602.3 1743.6,603.7 1744.3,605.3 1745.0,604.5 1745.7,603.7 1746.4,603.5 1747.1,606.3 1747.8,605.0 1748.5,603.0 1749.2,600.2 1749.3,600.0 1749.9,600.1 1750.6,600.9 1751.3,600.2 1752.0,601.5 1752.7,601.7 1753.4,602.2 1754.1,602.1 1754.8,602.8 1755.5,602.3 1756.2,601.9 1756.9,602.6 1757.6,603.3 1758.3,603.4 1759.0,602.7 1759.7,602.1 1760.4,601.7 1761.1,600.6 1761.8,599.1 1762.5,599.2 1763.2,600.8 1763.9,602.6 1764.6,605.9 1765.3,607.3 1766.0,606.5 1766.7,604.9 1767.4,605.6 1768.1,605.8 1768.8,603.8 1769.5,602.6 1770.2,603.8 1770.9,602.6 1771.6,602.6 1772.3,602.0 1773.0,603.1 1773.7,603.6 1774.4,603.0 1775.1,602.7 1775.8,602.3 1776.5,604.4 1777.2,605.4 1777.9,606.7 1778.6,608.1 1779.3,606.1 1780.0,603.5 1780.7,602.2 1781.4,602.5 1782.1,603.8 1782.8,604.9 1783.5,605.4 1784.2,604.5 1784.9,603.6 1785.6,603.8 1786.3,603.1 1787.0,602.8 1787.7,602.9 1788.4,602.9 1789.1,604.3 1789.8,605.4 1790.5,605.1 1791.2,604.7 1791.9,604.4 1792.6,605.8 1793.3,605.6 1794.0,607.0 1794.7,606.9 1795.4,606.4 1796.1,604.9 1796.8,604.1 1797.5,604.7 1798.2,605.4 1798.9,606.8 1799.6,606.7 1800.3,608.7 1801.0,607.2 1801.7,607.3 1802.4,606.8 1803.1,607.9 1803.8,607.3 1804.5,608.9 1805.2,609.5 1805.9,608.9 1806.6,607.8 1807.3,608.1 1808.0,607.6 1808.7,608.7 1809.4,608.1 1810.1,607.8 1810.8,607.3 1811.5,607.9 1812.2,608.2 1812.9,608.4 1813.6,609.5 1814.3,610.6 1815.0,610.6 1815.7,609.6 1816.4,609.5 1817.1,609.3 1817.8,608.8 1818.5,607.6 1819.2,607.6 1819.9,607.9 1820.6,608.1 1821.3,607.8 1822.0,606.9 1822.7,607.1 1823.4,609.7 1823.9,610.1 1824.1,609.6 1824.8,609.1 1825.5,609.2 1826.2,607.8 1826.9,607.3 1827.6,607.9 1828.3,608.5 1829.0,608.1 1829.7,608.2 1830.4,608.2 1831.1,608.0 1831.8,607.6 1832.5,607.3 1833.2,608.9 1833.9,610.8 1834.6,610.7 1835.3,609.4 1836.0,608.5 1836.7,608.9 1837.4,608.6 1838.1,607.8 1838.8,608.2 1839.5,607.2 1840.2,607.1 1840.9,606.0 1841.6,607.0 1842.3,606.2 1843.0,606.9 1843.7,608.9 1844.4,610.3 1845.1,609.0 1845.8,608.7 1846.5,609.2 1847.2,608.9 1847.9,607.9 1848.6,607.0 1849.3,606.1 1850.0,604.2 1850.7,606.1 1851.4,605.8 1852.1,606.9 1852.8,608.4 1853.5,609.2 1854.2,608.1 1854.9,605.9 1855.6,606.3 1856.3,606.5 1857.0,607.8 1857.7,608.1 1858.4,608.3 1859.1,606.2 1859.8,604.5 1860.5,605.3 1861.2,607.2 1861.9,608.7 1862.6,606.6 1863.3,605.7 1864.0,605.0 1864.7,605.1 1865.4,604.5 1866.1,605.3 1866.8,606.9 1867.5,606.4 1868.2,606.4 1868.9,607.2 1869.6,606.5 1870.3,606.6 1871.0,606.8 1871.7,607.2 1872.4,607.5 1873.1,607.5 1873.8,608.7 1874.5,608.4 1875.2,609.2 1875.9,607.6 1876.6,606.6 1877.3,606.6 1878.0,606.7 1878.7,608.0 1879.4,608.6 1880.1,608.4 1880.8,609.2 1881.5,609.2 1882.2,609.4 1882.9,609.1 1883.6,609.3 1884.3,608.6 1885.0,608.0 1885.7,607.7 1886.0,607.1"/>
<path class="c" stroke="#00ff00" d="M135.0,96.0 135.7,95.0 136.4,93.6 137.1,94.9 137.8,97.4 138.5,95.6 139.2,94.6 139.9,95.0 140.0,93.9 140.6,94.7 141.3,95.2 142.0,94.5 142.7,92.9 143.4,94.5 144.1,95.0 144.8,96.0 145.5,96.6 146.2,97.5 146.9,99.6 147.6,102.9 148.3,103.7 149.0,104.1 149.7,103.8 150.4,105.6 151.1,102.5 151.8,101.9 152.5,103.6 153.2,110.6 153.9,114.2 154.6,114.3 155.0,115.2 155.3,113.7 156.0,112.3 156.7,113.5 157.4,116.0 158.1,118.6 158.8,116.5 159.5,117.5 160.2,117.4 160.9,116.0 161.6,116.8 162.3,117.3 163.0,118.4 163.7,118.5 164.4,120.7 165.1,120.9 165.8,121.8 166.5,122.1 167.0,122.5 167.2,123.1 167.9,125.3 168.6,127.1 169.3,128.1 170.0,131.0 170.7,131.4 171.4,134.7 172.1,135.3 172.8,135.7 173.5,137.8 174.2,141.8 174.9,141.4 175.6,141.0 176.3,141.4 177.0,143.9 177.0,142.8 177.7,144.7 178.4,144.1 179.1,145.6 179.8,148.5 180.5,150.0 181.2,150.2 181.9,151.7 182.6,155.6 183.3,156.2 184.0,157.0 184.7,157.2 185.4,157.0 186.1,157.3 186.8,158.1 187.5,158.5 188.2,155.4 188.9,153.1 189.6,154.1 190.3,157.7 191.0,161.0 191.7,160.9 192.0,159.3 192.4,160.1 193.1,160.9 193.8,162.3 194.5,164.2 195.2,165.1 195.9,163.8 196.6,162.8 197.3,164.3 198.0,164.4 198.7,166.3 199.4,170.8 200.1,172.5 200.8,173.3 201.5,173.0 202.2,175.6 202.9,175.9 203.6,176.3 204.3,175.5 205.0,176.9 205.7,176.7 206.4,176.1 207.0,173.2 207.1,169.7 207.8,169.7 208.5,173.3 209.2,174.7 209.9,174.3 210.6,173.5 211.3,173.1 212.0,172.9 212.7,178.3 213.4,182.0 214.1,184.3 214.8,183.1 215.5,182.4 216.2,182.5 216.9,183.9 217.6,183.6 218.3,182.6 219.0,184.9 219.7,187.0 220.4,187.9 221.1,186.9 221.8,183.6 222.5,184.1 223.2,186.8 223.9,190.9 224.5,190.3 224.6,189.9 225.3,190.7 226.0,190.6 226.7,190.5 227.4,187.9 228.1,189.1 228.8,189.6 229.5,189.8 230.2,188.5 230.9,188.4 231.6,191.6 232.3,191.5 233.0,192.9 233.7,194.5 234.4,197.0 235.1,197.4 235.8,197.3 236.5,198.3 237.2,200.8 237.9,202.4 238.6,204.5 239.3,203.2 240.0,203.3 240.7,202.5 241.4,201.9 242.0,200.8 242.1,203.0 242.8,203.8 243.5,205.7 244.2,205.8 244.9,207.9 245.6,207.0 246.3,207.2 247.0,205.4 247.7,206.4 248.4,203.9 249.1,205.4 249.8,205.2 250.5,207.5 251.2,206.0 251.9,205.3 252.6,207.5 253.3,207.5 254.0,209.8 254.7,212.8 255.4,217.1 256.1,218.1 256.8,216.3 257.5,214.0 258.2,217.9 258.9,220.1 259.0,220.7 259.6,217.7 260.3,218.4 261.0,215.9 261.7,214.8 262.4,214.4 263.1,213.3 263.8,213.5 264.5,214.5 265.2,217.2 265.9,216.3 266.6,216.5 267.3,219.2 268.0,221.4 268.7,222.2 269.4,220.4 270.1,221.1 270.8,220.8 271.5,222.9 272.2,223.0 272.9,223.8 273.6,225.3 274.3,225.6 275.0,225.0 275.7,225.4 276.4,229.2 277.1,229.9 277.8,230.5 278.5,232.6 279.0,235.0 279.2,232.9 279.9,231.0 280.6,230.9 281.3,231.5 282.0,230.6 282.7,230.9 283.4,230.0 284.1,230.0 284.8,227.8 285.5,228.1 286.2,230.9 286.9,233.9 287.6,232.6 288.3,230.8 289.0,232.4 289.7,234.8 290.4,235.1 291.1,234.8 291.8,237.2 292.5,238.7 293.2,238.2 293.9,234.1 294.6,235.0 295.3,235.6 296.0,238.8 296.7,239.6 297.4,240.9 298.1,238.8 298.8,237.4 299.5,236.5 300.2,236.9 300.9,237.3 301.6,237.5 302.3,237.2 303.0,238.7 303.7,238.9 304.0,240.2 304.4,241.4 305.1,241.2 305.8,241.9 306.5,242.8 307.2,243.9 307.9,245.0 308.6,244.4 309.3,242.4 310.0,242.1 310.7,245.2 311.4,246.1 312.1,246.7 312.8,245.4 313.5,243.3 314.2,243.0 314.9,244.1 315.6,243.3 316.3,242.1 317.0,245.6 317.7,247.3 318.4,247.6 319.1,246.2 319.8,244.5 320.5,243.4 321.2,245.5 321.9,246.8 322.6,246.5 323.3,245.7 324.0,244.3 324.7,243.7 325.4,245.3 326.1,245.6 326.8,246.1 327.5,246.8 328.2,251.5 328.9,252.5 329.0,251.1 329.6,248.5 330.3,247.3 331.0,246.5 331.7,246.1 332.4,247.5 333.1,249.9 333.8,250.4 334.5,248.4 335.2,245.9 335.9,243.9 336.6,247.2 337.3,250.4 338.0,251.9 338.7,250.6 339.4,250.3 340.1,251.4 340.8,251.2 341.5,253.5 342.2,255.5 342.9,255.8 343.6,254.8 344.3,253.2 345.0,253.4 345.7,253.3 346.4,253.8 347.1,254.5 347.8,253.9 348.5,252.8 349.2,251.6 349.9,250.7 350.6,252.2 351.3,252.6 352.0,254.8 352.7,258.4 353.4,259.4 354.0,259.5 354.1,256.6 354.8,255.4 355.5,255.7 356.2,257.3 356.9,258.5 357.6,257.3 358.3,256.7 359.0,257.8 359.7,257.6 360.4,259.0 361.1,259.1 361.8,257.7 362.5,256.7 363.2,256.7 363.9,259.0 364.6,258.9 365.3,259.9 366.0,260.1 366.7,259.2 367.4,259.7 368.1,261.6 368.8,262.6 369.5,261.6 370.2,261.4 370.9,260.5 371.6,259.7 372.3,259.7 373.0,259.6 373.7,258.1 374.4,257.7 375.1,260.1 375.8,261.4 376.5,261.8 377.2,261.9 377.9,262.3 378.5,261.2 378.6,260.5 379.3,260.1 380.0,261.7 380.7,262.6 381.4,261.0 382.1,260.9 382.8,261.9 383.5,263.0 384.2,262.9 384.9,264.0 385.6,266.0 386.3,267.7 387.0,266.7 387.7,262.7 388.4,256.9 389.1,258.0 389.8,261.3 390.5,264.9 391.2,263.2 391.9,261.4 392.6,260.2 393.3,260.2 394.0,262.2 394.7,264.5 395.4,265.0 396.1,263.8 396.8,262.0 397.5,260.9 398.2,263.2 398.9,265.0 399.6,266.1 400.3,264.6 401.0,263.2 401.7,263.2 402.4,262.4 403.0,262.3 403.1,262.3 403.8,261.7 404.5,258.9 405.2,256.5 405.9,256.4 406.6,256.9 407.3,257.9 408.0,260.8 408.7,260.6 409.4,259.8 410.1,260.3 410.8,262.8 411.5,262.8 412.2,263.2 412.9,262.6 413.6,265.2 414.3,266.0 415.0,266.3 415.7,263.4 416.4,262.8 417.1,263.7 417.8,265.8 418.5,265.1 419.2,264.8 419.9,263.2 420.6,264.0 421.3,263.7 422.0,263.6 422.7,263.3 423.4,262.5 424.1,261.4 424.8,261.2 425.5,262.2 426.2,263.1 426.9,262.4 427.6,261.7 428.0,261.4 428.3,262.4 429.0,261.9 429.7,260.8 430.4,260.9 431.1,261.0 431.8,259.6 432.5,260.5 433.2,261.3 433.9,263.9 434.6,263.4 435.3,263.9 436.0,262.2 436.7,263.5 437.4,263.9 438.1,264.0 438.8,262.5 439.5,262.6 440.2,262.5 440.9,262.9 441.6,260.9 442.3,261.8 443.0,262.2 443.7,263.4 444.4,262.0 445.1,262.5 445.8,264.0 446.5,264.2 447.2,261.4 447.9,259.5 448.6,260.4 449.3,261.4 450.0,261.3 450.7,260.6 451.4,260.9 452.1,260.5 452.8,260.2 453.0,259.8 453.5,262.9 454.2,264.8 454.9,264.7 455.6,263.0 456.3,264.0 457.0,264.9 457.7,265.4 458.4,264.3 459.1,262.9 459.8,260.3 460.5,259.7 461.2,260.6 461.9,261.9 462.6,261.9 463.3,261.6 464.0,261.9 464.7,259.6 465.4,259.6 466.1,259.6 466.8,261.2 467.5,259.5 468.2,257.3 468.9,256.5 469.6,258.0 470.3,261.5 471.0,262.2 471.7,260.0 472.4,258.9 473.1,258.2 473.8,258.3 474.5,256.8 475.2,255.8 475.9,255.0 476.6,256.4 477.3,258.2 478.0,259.1 478.0,258.9 478.7,260.7 479.4,261.3 480.1,262.0 480.8,260.0 481.5,258.1 482.2,256.4 482.9,256.2 483.6,257.5 484.3,259.3 485.0,260.2 485.7,260.4 486.4,260.5 487.1,260.7 487.8,257.3 488.5,256.6 489.2,256.0 489.9,255.7 490.6,253.6 491.3,254.6 492.0,253.8 492.7,251.0 493.4,252.7 494.1,252.0 494.8,252.6 495.5,252.6 496.2,255.8 496.9,254.5 497.6,252.8 498.3,252.3 499.0,252.3 499.7,252.0 500.4,251.0 501.1,248.6 501.8,249.8 502.5,250.6 503.0,250.6 503.2,251.7 503.9,253.5 504.6,252.4 505.3,248.7 506.0,250.3 506.7,251.8 507.4,252.5 508.1,250.2 508.8,249.8 509.5,250.2 510.2,252.2 510.9,254.2 511.6,255.5 512.3,252.2 513.0,248.0 513.7,246.1 514.4,248.7 515.1,250.0 515.8,250.6 516.5,248.3 517.2,244.8 517.9,243.9 518.6,244.4 519.3,242.7 520.0,240.3 520.7,242.2 521.4,243.2 522.1,241.9 522.8,242.5 523.5,242.9 524.2,244.3 524.9,243.6 525.6,244.0 526.3,245.8 527.0,245.3 527.7,246.4 528.0,244.2 528.4,244.1 529.1,241.8 529.8,243.8 530.5,245.4 531.2,244.3 531.9,242.8 532.6,243.2 533.3,244.8 534.0,243.9 534.7,244.1 535.4,243.5 536.1,244.1 536.8,241.4 537.5,238.4 538.2,237.1 538.9,235.6 539.6,235.0 540.3,235.9 541.0,236.9 541.7,238.4 542.4,239.5 543.1,239.4 543.8,236.6 544.5,235.4 545.2,236.3 545.9,235.4 546.6,235.8 547.3,237.1 548.0,237.7 548.7,236.6 549.4,234.3 550.1,233.4 550.8,232.6 551.5,231.5 552.2,229.7 552.5,228.8 552.9,228.0 553.6,226.9 554.3,226.3 555.0,226.6 555.7,225.5 556.4,224.7 557.1,223.8 557.8,225.5 558.5,226.9 559.2,226.5 559.9,225.5 560.6,224.9 561.3,221.5 562.0,221.5 562.7,223.7 563.4,226.1 564.1,223.0 564.8,222.9 565.5,223.8 566.2,224.3 566.9,223.7 567.6,221.7 568.3,219.8 569.0,219.9 569.7,220.2 570.4,220.7 571.1,220.4 571.8,219.9 572.5,218.4 573.2,216.9 573.9,216.6 574.6,216.6 575.3,217.4 576.0,217.9 576.7,217.7 577.0,216.1 577.4,216.0 578.1,216.1 578.8,215.9 579.5,214.6 580.2,212.7 580.9,211.0 581.6,209.7 582.3,211.1 583.0,210.1 583.7,211.4 584.4,211.2 585.1,208.6 585.8,206.8 586.5,208.3 587.2,210.1 587.9,211.1 588.6,215.2 589.3,215.2 590.0,211.5 590.0,208.9 590.7,208.2 591.4,207.3 592.1,208.7 592.8,209.6 593.5,208.9 594.2,208.3 594.9,206.5 595.6,204.6 596.3,202.9 597.0,204.1 597.7,202.9 598.4,201.7 599.1,200.5 599.8,202.5 600.5,202.2 601.2,202.3 601.9,199.4 602.6,199.1 603.3,199.9 604.0,201.6 604.7,200.2 605.4,199.2 606.0,201.2 606.1,202.5 606.8,201.4 607.5,200.4 608.2,198.0 608.9,197.1 609.6,197.7 610.3,197.4 611.0,195.2 611.7,193.3 612.4,192.2 613.1,190.0 613.8,189.5 614.5,189.6 615.2,190.7 615.9,189.4 616.6,188.9 617.3,186.5 618.0,187.7 618.7,188.5 619.4,190.1 620.1,189.5 620.8,186.9 621.5,184.6 622.2,182.9 622.9,182.4 623.6,182.0 624.3,181.4 625.0,182.4 625.7,183.1 626.4,185.6 627.1,185.1 627.8,182.5 628.5,180.5 629.2,180.5 629.8,180.2 629.9,180.1 630.6,179.5 631.3,180.6 632.0,180.1 632.7,178.7 633.4,176.4 634.1,176.3 634.8,176.9 635.5,174.9 636.2,173.8 636.9,174.3 637.6,175.1 638.3,174.1 639.0,172.2 639.7,173.8 640.4,173.9 641.1,173.7 641.8,172.4 642.5,175.5 643.2,176.8 643.9,175.0 644.6,170.4 645.3,166.5 646.0,164.7 646.7,167.1 647.4,168.6 648.1,167.3 648.8,164.2 649.5,164.3 649.7,165.2 650.2,165.1 650.9,166.2 651.6,164.7 652.3,163.6 653.0,160.0 653.7,158.4 654.4,159.2 655.1,162.9 655.8,166.6 656.5,163.8 657.2,161.3 657.9,158.0 658.6,160.0 659.3,160.6 660.0,160.7 660.7,159.5 661.4,159.0 662.1,160.0 662.8,159.7 663.5,160.0 664.2,158.9 664.9,157.8 665.6,155.3 666.3,151.7 667.0,148.8 667.7,149.8 668.4,148.5 669.1,149.9 669.5,149.9 669.8,148.7 670.5,146.3 671.2,145.6 671.9,144.9 672.6,144.3 673.3,147.0 674.0,148.4 674.7,149.6 675.4,148.1 676.1,147.7 676.8,146.9 677.5,148.0 678.2,147.3 678.9,146.5 679.6,144.9 680.3,144.3 681.0,142.6 681.7,142.7 682.4,141.0 683.1,141.3 683.8,139.4 684.5,139.6 685.2,140.6 685.9,142.5 686.6,142.4 687.3,141.9 688.0,140.0 688.7,141.2 689.4,141.5 689.4,140.0 690.1,139.5 690.8,139.7 691.5,140.1 692.2,140.3 692.9,140.8 693.6,140.4 694.3,137.8 695.0,139.0 695.7,138.5 696.4,135.1 697.1,135.5 697.8,138.4 698.5,137.4 699.2,133.5 699.9,133.1 700.6,135.0 701.3,135.0 702.0,137.2 702.7,135.8 703.4,133.3 704.1,133.3 704.3,133.3 704.8,134.1 705.5,133.2 706.2,133.2 706.9,131.7 707.6,130.1 708.3,130.0 709.0,127.6 709.7,128.0 710.4,127.5 711.1,129.1 711.8,129.5 712.5,130.2 713.2,128.6 713.9,124.9 714.6,122.3 715.3,123.7 716.0,122.2 716.7,118.4 717.4,117.5 718.1,119.9 718.8,123.7 719.3,125.4 719.5,125.0 720.2,120.8 720.9,119.7 721.6,124.1 722.3,125.1 723.0,123.4 723.7,120.3 724.4,122.7 725.1,122.6 725.8,124.0 726.5,122.8 727.2,122.8 727.9,123.7 728.6,125.6 729.3,125.5 730.0,123.5 730.7,123.6 731.4,125.0 732.1,125.6 732.8,124.0 733.5,120.2 734.2,118.9 734.2,116.3 734.9,113.9 735.6,115.5 736.3,118.4 737.0,118.5 737.7,119.3 738.4,121.0 739.1,122.3 739.8,121.0 740.5,120.2 741.2,118.0 741.9,117.4 742.6,116.5 743.3,115.9 744.0,116.7 744.7,120.1 745.4,120.9 746.1,118.2 746.8,116.8 747.5,116.2 748.2,116.1 748.9,114.8 749.6,117.1 750.3,120.2 750.5,118.8 751.0,114.5 751.7,112.7 752.4,114.8 753.1,118.6 753.8,120.2 754.5,117.9 755.2,117.4 755.9,118.9 756.6,121.1 757.3,120.1 758.0,121.3 758.7,122.6 759.4,124.3 760.1,127.5 760.8,130.0 761.5,130.4 762.2,130.3 762.9,131.6 763.6,133.8 764.0,134.5 764.3,136.2 765.0,135.6 765.7,135.8 766.4,133.5 767.1,136.8 767.8,140.8 768.5,141.9 769.2,140.8 769.9,139.5 770.6,140.1 771.3,140.6 772.0,145.0 772.7,146.4 773.4,144.5 774.1,143.6 774.8,142.6 775.5,143.0 776.2,145.6 776.9,145.8 777.6,145.5 778.3,147.6 779.0,148.9 779.7,149.5 780.0,149.3 780.4,148.8 781.1,148.4 781.8,151.5 782.5,154.8 783.2,152.7 783.9,153.3 784.6,152.5 785.3,154.5 786.0,157.8 786.7,162.8 787.4,166.8 788.1,168.6 788.8,167.4 789.5,169.5 790.2,170.2 790.9,171.9 791.6,170.6 792.3,171.1 793.0,170.9 793.3,169.9 793.7,168.9 794.4,166.8 795.1,164.0 795.8,161.6 796.5,158.9 797.2,154.1 797.9,149.1 798.0,147.4 798.6,143.2 799.3,135.2 800.0,128.6 800.3,128.4 800.7,127.1 801.4,126.4 802.0,126.4 802.1,127.1 802.8,139.0 802.9,139.4 803.5,141.7 804.2,142.3 804.9,145.5 805.6,149.0 805.6,148.6 806.3,150.4 806.7,152.9 807.0,155.3 807.7,163.8 807.7,163.8 808.4,177.9 808.4,177.5 809.1,184.1 809.8,189.4 810.0,191.3 810.5,192.4 811.2,195.1 811.9,198.1 812.6,200.8 813.3,204.5 814.0,207.2 814.7,208.9 815.4,211.3 816.1,211.4 816.8,209.6 817.5,208.9 818.2,210.1 818.9,210.8 819.6,211.0 820.3,213.0 821.0,216.4 821.0,217.8 821.7,219.6 822.4,220.1 823.1,220.0 823.8,222.2 824.5,225.0 825.2,226.5 825.9,225.7 826.6,226.2 827.3,225.3 828.0,223.6 828.7,222.5 829.4,224.0 830.1,225.3 830.8,227.7 831.5,229.1 832.2,230.2 832.9,231.5 833.6,234.1 834.3,236.2 835.0,236.4 835.7,236.1 836.4,237.7 837.1,239.2 837.8,241.3 838.5,240.6 838.6,240.5 839.2,240.5 839.9,241.7 840.6,243.0 841.3,243.4 842.0,246.2 842.7,245.9 843.4,246.4 844.1,246.4 844.8,248.8 845.5,248.9 846.2,250.0 846.9,250.4 847.6,251.1 848.3,250.7 849.0,251.9 849.7,253.4 850.4,256.5 851.1,259.2 851.8,258.5 852.5,258.0 853.2,257.8 853.9,259.7 854.6,260.6 855.3,262.6 856.0,263.7 856.7,264.1 857.4,266.3 858.1,267.8 858.5,268.4 858.8,267.8 859.5,267.8 860.2,266.4 860.9,267.3 861.6,270.3 862.3,269.6 863.0,269.4 863.7,270.9 864.4,272.5 865.1,271.2 865.8,270.7 866.5,272.4 867.2,273.2 867.9,273.4 868.6,274.8 869.3,276.7 870.0,277.3 870.7,276.7 871.4,278.1 872.1,280.1 872.8,281.0 873.5,282.7 874.2,285.7 874.9,286.6 875.6,287.9 876.3,285.3 877.0,283.9 877.7,285.1 878.3,286.2 878.4,286.1 879.1,286.4 879.8,288.3 880.5,287.1 881.2,287.3 881.9,286.8 882.6,286.7 883.3,288.6 884.0,291.0 884.7,290.6 885.4,290.2 886.1,289.1 886.8,290.2 887.5,292.1 888.2,295.3 888.9,296.9 889.6,297.8 890.3,296.4 891.0,295.4 891.7,295.2 892.4,297.1 893.1,296.6 893.8,296.4 894.5,296.2 895.2,296.8 895.9,296.3 896.6,295.5 897.3,296.1 898.0,298.9 898.0,300.4 898.7,300.3 899.4,299.5 900.1,299.2 900.8,299.2 901.5,298.9 902.2,300.2 902.9,300.8 903.6,300.4 904.3,300.4 905.0,301.6 905.7,302.9 906.4,302.7 907.1,302.7 907.8,304.0 908.5,305.7 909.2,306.6 909.9,306.1 910.6,305.3 911.3,304.1 912.0,304.9 912.7,309.1 913.0,309.9 913.4,309.6 914.1,307.0 914.8,307.8 915.5,308.3 916.2,309.6 916.9,310.1 917.6,311.8 918.3,311.2 919.0,312.1 919.7,311.2 920.4,311.8 921.1,312.5 921.8,315.7 922.5,315.1 923.2,312.7 923.9,311.5 924.6,311.2 925.3,311.7 926.0,311.7 926.7,311.5 927.4,312.4 928.1,314.5 928.8,315.0 929.5,315.8 930.2,315.9 930.9,316.0 931.6,317.4 932.3,319.7 933.0,319.8 933.7,318.5 934.4,317.3 935.1,317.0 935.8,317.9 936.5,319.9 937.2,319.7 937.9,319.8 938.0,319.2 938.6,319.6 939.3,320.0 940.0,320.9 940.7,320.8 941.4,321.4 942.1,321.2 942.8,321.5 943.5,321.0 944.2,321.7 944.9,322.7 945.6,324.8 946.3,324.0 947.0,321.7 947.7,319.4 948.4,320.6 949.1,322.5 949.8,324.4 950.5,325.4 951.2,323.5 951.9,323.8 952.6,324.4 953.3,325.0 954.0,322.3 954.7,321.4 955.4,323.0 956.1,326.2 956.8,328.2 957.5,327.9 958.2,328.0 958.9,329.3 959.6,330.0 960.3,329.2 961.0,329.8 961.7,328.5 962.4,327.8 963.0,326.4 963.1,326.2 963.8,325.8 964.5,327.6 965.2,330.3 965.9,331.1 966.6,330.9 967.3,330.3 968.0,327.6 968.7,327.1 969.4,328.2 970.1,329.6 970.8,330.8 971.5,332.1 972.2,332.4 972.9,331.6 973.6,332.4 974.3,333.8 975.0,333.0 975.7,333.7 976.4,333.0 977.1,332.9 977.8,333.2 978.5,336.0 979.2,337.3 979.9,336.6 980.6,335.6 981.3,335.1 982.0,336.3 982.7,335.6 983.4,335.2 984.1,334.5 984.8,335.8 985.5,337.2 986.2,338.7 986.9,338.4 987.6,337.2 987.7,335.5 988.3,335.6 989.0,337.2 989.7,339.5 990.4,339.0 991.1,337.5 991.8,337.1 992.5,337.8 993.2,338.8 993.9,338.2 994.6,336.3 995.3,336.9 996.0,338.1 996.7,338.6 997.4,336.4 998.1,337.2 998.8,337.1 999.5,337.3 1000.2,336.3 1000.9,337.9 1001.6,340.5 1002.3,341.6 1003.0,340.1 1003.7,339.4 1004.4,339.0 1005.1,338.8 1005.8,338.1 1006.5,339.4 1007.2,338.7 1007.9,338.9 1008.6,339.6 1009.3,340.8 1010.0,342.3 1010.7,342.1 1011.4,342.7 1012.1,343.1 1012.6,342.9 1012.8,342.7 1013.5,340.7 1014.2,341.1 1014.9,341.9 1015.6,342.0 1016.3,341.7 1017.0,341.9 1017.7,343.1 1018.4,341.6 1019.1,342.2 1019.8,343.9 1020.5,344.5 1021.2,342.1 1021.9,340.2 1022.6,340.6 1023.3,343.0 1024.0,344.5 1024.7,345.6 1025.4,344.7 1026.1,344.1 1026.8,343.1 1027.5,343.1 1028.2,341.4 1028.9,342.2 1029.6,342.9 1030.3,344.1 1031.0,345.8 1031.7,347.8 1032.4,345.3 1033.1,343.0 1033.8,342.9 1034.5,343.9 1035.2,345.5 1035.9,345.1 1036.6,344.5 1037.3,342.9 1037.4,344.7 1038.0,346.3 1038.7,346.2 1039.4,345.2 1040.1,344.5 1040.8,344.5 1041.5,344.0 1042.2,344.3 1042.9,345.5 1043.6,346.2 1044.3,346.3 1045.0,346.4 1045.7,346.4 1046.4,346.0 1047.1,346.1 1047.8,346.0 1048.5,346.9 1049.2,346.6 1049.9,346.6 1050.0,345.8 1050.6,347.4 1051.3,348.8 1052.0,348.2 1052.7,346.6 1053.4,344.3 1054.1,346.5 1054.8,347.5 1055.5,348.1 1056.2,347.0 1056.9,347.1 1057.6,347.9 1058.3,346.6 1059.0,344.1 1059.7,342.7 1060.4,343.8 1061.1,345.4 1061.8,345.2 1062.5,345.8 1063.2,346.7 1063.9,347.3 1064.6,346.7 1065.3,347.2 1066.0,347.1 1066.7,348.3 1067.4,348.0 1068.1,347.9 1068.8,346.5 1069.5,348.2 1070.2,347.3 1070.9,346.6 1071.6,346.6 1072.3,348.5 1073.0,348.9 1073.7,347.2 1074.4,345.7 1075.0,344.7 1075.1,345.9 1075.8,348.4 1076.5,349.1 1077.2,350.0 1077.9,349.2 1078.6,347.0 1079.3,345.8 1080.0,346.8 1080.7,348.4 1081.4,349.2 1082.1,346.7 1082.8,345.3 1083.5,343.6 1084.2,344.7 1084.9,344.6 1085.6,344.5 1086.3,344.7 1087.0,343.9 1087.7,344.1 1088.4,344.5 1089.1,345.4 1089.8,345.3 1090.5,345.1 1091.2,345.9 1091.9,346.2 1092.6,347.1 1093.3,347.3 1094.0,346.8 1094.7,347.2 1095.4,347.6 1096.1,347.7 1096.8,347.1 1097.5,347.8 1098.2,349.0 1098.9,349.1 1099.6,349.1 1100.0,347.3 1100.3,346.4 1101.0,346.6 1101.7,346.6 1102.4,349.0 1103.1,349.9 1103.8,350.3 1104.5,349.5 1105.2,349.8 1105.9,348.7 1106.6,347.5 1107.3,349.2 1108.0,351.0 1108.7,351.9 1109.4,353.0 1110.1,352.8 1110.8,352.5 1111.5,350.5 1112.2,351.0 1112.9,350.1 1113.6,349.9 1114.3,351.1 1115.0,350.9 1115.7,350.8 1116.4,350.4 1117.1,351.1 1117.8,351.5 1118.5,350.5 1119.2,351.1 1119.9,349.0 1120.6,350.2 1121.3,350.3 1122.0,350.1 1122.7,348.7 1123.4,346.9 1124.1,348.3 1124.6,351.2 1124.8,353.1 1125.5,350.2 1126.2,349.4 1126.9,351.8 1127.6,353.1 1128.3,350.7 1129.0,349.0 1129.7,349.7 1130.4,351.0 1131.1,352.5 1131.8,351.5 1132.5,350.9 1133.2,348.3 1133.9,349.4 1134.6,351.0 1135.3,352.3 1136.0,350.4 1136.7,350.5 1137.4,350.7 1138.1,350.3 1138.8,348.5 1139.5,348.4 1140.2,348.6 1140.9,349.1 1141.6,350.6 1142.3,352.3 1143.0,353.7 1143.7,351.9 1144.4,351.0 1145.1,349.7 1145.8,350.0 1146.5,349.5 1147.2,349.8 1147.9,349.9 1148.6,349.5 1149.3,349.0 1149.4,349.6 1150.0,349.2 1150.7,349.4 1151.4,348.0 1152.1,349.2 1152.8,350.6 1153.5,348.6 1154.2,348.4 1154.9,349.8 1155.6,354.7 1156.3,355.3 1157.0,354.0 1157.7,352.7 1158.4,351.0 1159.1,349.4 1159.8,349.1 1160.5,350.5 1161.2,353.0 1161.9,352.1 1162.6,352.1 1163.3,352.6 1164.0,353.6 1164.7,353.0 1165.4,352.0 1166.1,350.9 1166.8,352.5 1167.5,353.3 1168.2,352.9 1168.9,352.5 1169.6,351.6 1170.3,352.3 1171.0,352.8 1171.7,353.8 1172.4,351.0 1173.1,349.2 1173.8,352.2 1174.3,353.8 1174.5,355.0 1175.2,352.9 1175.9,352.8 1176.6,352.3 1177.3,352.5 1178.0,352.3 1178.7,352.2 1179.4,353.4 1180.1,354.3 1180.8,353.8 1181.5,354.5 1182.2,353.5 1182.9,352.4 1183.6,351.4 1184.3,351.5 1185.0,352.8 1185.7,351.0 1186.4,349.0 1187.1,346.8 1187.8,349.3 1188.5,352.4 1189.2,354.0 1189.9,353.1 1190.6,352.2 1191.3,352.5 1192.0,354.4 1192.7,355.9 1193.4,357.3 1194.1,356.4 1194.8,356.1 1195.5,355.3 1196.2,355.4 1196.9,354.0 1197.6,354.1 1198.3,354.1 1199.0,353.5 1199.0,352.7 1199.7,351.8 1200.4,352.3 1201.1,351.0 1201.8,351.9 1202.5,352.2 1203.2,353.5 1203.9,352.4 1204.6,351.4 1205.3,350.7 1206.0,349.2 1206.7,348.3 1207.4,349.3 1208.1,350.6 1208.8,350.0 1209.5,348.0 1210.2,349.3 1210.9,352.4 1211.6,354.1 1212.3,354.5 1213.0,352.9 1213.7,353.0 1214.4,351.1 1215.1,353.0 1215.8,353.4 1216.5,353.5 1217.2,352.3 1217.9,351.2 1218.6,349.3 1219.3,347.6 1220.0,346.7 1220.7,346.2 1221.4,347.9 1222.1,350.0 1222.8,352.0 1223.5,351.4 1224.0,349.7 1224.2,349.5 1224.9,351.1 1225.6,352.6 1226.3,351.4 1227.0,352.1 1227.7,353.3 1228.4,354.6 1229.1,354.4 1229.8,353.5 1230.5,351.2 1231.2,351.2 1231.9,351.9 1232.6,351.8 1233.3,351.8 1234.0,351.2 1234.7,351.7 1235.4,351.8 1236.1,352.7 1236.8,351.5 1237.5,350.8 1238.2,349.7 1238.9,350.0 1239.6,350.5 1240.3,351.4 1241.0,350.1 1241.7,350.1 1242.4,350.5 1243.1,349.0 1243.8,349.5 1244.5,350.2 1245.2,350.8 1245.9,349.0 1246.6,348.7 1247.3,348.9 1248.0,349.5 1248.7,349.5 1249.0,347.5 1249.4,345.3 1250.1,345.6 1250.8,347.1 1251.5,346.4 1252.2,345.5 1252.9,344.9 1253.6,345.4 1254.3,346.6 1255.0,347.5 1255.7,347.1 1256.4,346.6 1257.1,346.5 1257.8,344.1 1258.5,342.2 1259.2,341.4 1259.9,343.8 1260.6,345.5 1261.3,345.4 1262.0,344.7 1262.7,345.6 1263.4,346.9 1264.1,346.9 1264.8,346.1 1265.5,347.2 1266.2,347.8 1266.9,348.7 1267.6,347.0 1268.3,346.1 1269.0,345.7 1269.7,346.1 1270.4,345.7 1271.1,345.8 1271.8,345.4 1272.5,343.3 1273.2,344.0 1273.7,344.8 1273.9,347.3 1274.6,348.2 1275.3,347.8 1276.0,346.1 1276.7,342.8 1277.4,342.4 1278.1,342.4 1278.8,343.5 1279.5,344.4 1280.2,344.9 1280.9,344.9 1281.6,343.6 1282.3,342.6 1283.0,341.5 1283.7,341.1 1284.4,339.3 1285.1,339.1 1285.8,339.3 1286.5,340.7 1287.2,340.7 1287.9,338.7 1288.6,338.3 1289.3,337.7 1290.0,338.7 1290.7,338.9 1291.4,339.0 1292.1,338.6 1292.8,338.3 1293.5,337.9 1294.2,338.4 1294.9,339.1 1295.6,339.8 1296.3,337.9 1297.0,336.7 1297.7,337.6 1298.4,339.0 1298.6,338.7 1299.1,337.2 1299.8,336.4 1300.5,337.2 1301.2,336.9 1301.9,338.4 1302.6,338.9 1303.3,338.0 1304.0,336.6 1304.7,335.8 1305.4,337.6 1306.1,336.7 1306.8,337.3 1307.5,336.1 1308.2,336.6 1308.9,335.4 1309.6,333.8 1310.3,333.3 1311.0,333.5 1311.7,334.5 1312.4,335.4 1313.1,335.2 1313.8,335.2 1314.5,335.3 1315.2,335.1 1315.9,335.5 1316.6,335.6 1317.3,335.6 1318.0,335.1 1318.7,335.7 1319.4,335.4 1320.1,332.0 1320.8,331.3 1321.5,333.0 1322.2,334.0 1322.9,332.3 1323.4,331.6 1323.6,330.4 1324.3,330.6 1325.0,331.4 1325.7,334.2 1326.4,334.9 1327.1,335.3 1327.8,334.5 1328.5,335.6 1329.2,334.5 1329.9,332.6 1330.6,331.5 1331.3,333.0 1332.0,331.1 1332.7,330.1 1333.4,331.2 1334.1,331.3 1334.8,330.1 1335.5,331.4 1336.2,332.5 1336.9,332.5 1337.6,330.9 1338.3,329.5 1339.0,327.5 1339.7,327.1 1340.4,328.5 1341.1,330.5 1341.8,331.8 1342.5,331.7 1343.2,329.3 1343.9,327.8 1344.6,327.3 1345.3,328.5 1346.0,329.5 1346.7,332.2 1347.4,333.9 1348.1,333.5 1348.3,331.5 1348.8,330.7 1349.5,330.7 1350.2,331.0 1350.9,330.0 1351.6,330.4 1352.3,332.0 1353.0,333.8 1353.7,333.1 1354.4,333.1 1355.1,332.6 1355.8,330.2 1356.5,329.7 1357.2,330.6 1357.9,331.4 1358.6,329.3 1359.3,331.0 1360.0,332.6 1360.7,333.0 1361.4,332.1 1362.1,334.2 1362.8,333.5 1363.5,334.4 1364.2,331.5 1364.9,332.2 1365.6,331.5 1366.3,331.7 1367.0,329.5 1367.7,329.8 1368.4,330.8 1369.1,330.5 1369.8,330.9 1370.5,332.6 1371.2,331.3 1371.9,330.6 1372.6,330.6 1373.0,331.7 1373.3,332.5 1374.0,332.9 1374.7,333.8 1375.4,335.0 1376.1,336.6 1376.8,336.8 1377.5,336.6 1378.2,334.6 1378.9,333.7 1379.6,335.7 1380.3,338.4 1381.0,338.3 1381.7,338.1 1382.4,337.1 1383.1,335.5 1383.8,337.2 1384.5,339.4 1385.2,338.4 1385.9,335.0 1386.6,335.4 1387.3,334.8 1388.0,333.9 1388.7,334.6 1389.4,337.4 1390.1,339.3 1390.8,339.4 1391.5,337.8 1392.2,336.6 1392.9,337.6 1393.6,339.1 1394.3,338.5 1395.0,338.3 1395.7,337.9 1396.4,338.7 1397.1,338.9 1397.8,341.1 1398.0,343.3 1398.5,345.0 1399.2,343.2 1399.9,340.6 1400.6,341.4 1401.3,343.6 1402.0,341.4 1402.7,339.7 1403.4,339.0 1404.1,338.9 1404.8,339.0 1405.5,339.4 1406.2,339.4 1406.9,338.7 1407.6,337.9 1408.3,338.5 1409.0,339.5 1409.7,340.7 1410.4,340.9 1411.1,339.3 1411.8,340.2 1412.5,340.0 1413.2,341.0 1413.9,340.6 1414.6,342.0 1415.3,342.8 1416.0,343.7 1416.7,340.4 1417.4,338.3 1418.1,337.5 1418.8,339.7 1419.5,341.6 1420.2,343.6 1420.9,345.7 1421.6,345.0 1422.3,343.9 1422.9,343.6 1423.0,343.1 1423.7,343.0 1424.4,341.2 1425.1,341.1 1425.8,342.3 1426.5,344.0 1427.2,344.7 1427.9,344.2 1428.6,344.6 1429.3,343.9 1430.0,344.7 1430.7,345.2 1431.4,344.7 1432.1,344.9 1432.8,347.1 1433.5,349.7 1434.2,348.6 1434.9,346.0 1435.6,345.3 1436.3,345.4 1437.0,346.0 1437.7,345.2 1438.4,347.7 1439.1,349.2 1439.8,348.6 1440.5,346.3 1441.2,347.2 1441.9,347.6 1442.6,346.2 1443.3,346.6 1444.0,348.3 1444.7,348.5 1445.4,347.9 1446.1,348.4 1446.8,348.0 1447.5,347.1 1447.7,349.1 1448.2,351.2 1448.9,352.4 1449.6,350.9 1450.3,349.8 1451.0,350.0 1451.7,349.4 1452.4,349.8 1453.1,350.1 1453.8,350.5 1454.5,350.5 1455.2,350.6 1455.9,351.4 1456.6,350.2 1457.3,351.5 1458.0,350.2 1458.7,351.4 1459.4,352.1 1460.1,353.4 1460.8,352.8 1461.5,354.0 1462.2,354.3 1462.9,353.7 1463.6,354.6 1464.3,354.9 1465.0,354.0 1465.7,354.8 1466.4,354.2 1467.1,353.7 1467.8,354.3 1468.5,354.3 1469.2,355.1 1469.9,354.4 1470.6,356.1 1471.3,354.8 1472.0,354.6 1472.6,354.6 1472.7,355.0 1473.4,355.8 1474.1,355.7 1474.8,354.6 1475.5,356.5 1476.2,357.7 1476.9,359.0 1477.6,357.0 1478.3,354.6 1479.0,353.6 1479.7,352.9 1480.4,353.1 1481.1,354.2 1481.8,355.3 1482.5,355.0 1483.2,353.4 1483.9,354.7 1484.6,355.4 1485.3,356.8 1486.0,356.6 1486.7,356.0 1487.4,355.1 1488.1,355.8 1488.8,356.9 1489.5,357.2 1490.2,356.1 1490.9,354.1 1491.6,355.1 1492.3,356.4 1493.0,356.3 1493.7,356.2 1494.4,356.4 1495.1,355.7 1495.8,354.3 1496.5,354.4 1497.2,355.4 1497.4,357.2 1497.9,358.8 1498.6,358.7 1499.3,358.0 1500.0,357.6 1500.7,357.1 1501.4,356.0 1502.1,356.6 1502.8,357.0 1503.5,357.5 1504.2,359.1 1504.9,359.8 1505.6,360.3 1506.3,358.2 1507.0,360.0 1507.7,358.7 1508.4,357.7 1509.1,356.0 1509.8,358.7 1510.5,359.3 1511.2,358.3 1511.9,358.3 1512.6,359.8 1513.3,359.9 1514.0,357.7 1514.7,357.5 1515.4,357.9 1516.1,357.1 1516.8,357.8 1517.5,357.7 1518.2,359.6 1518.9,360.3 1519.6,359.9 1520.3,359.9 1521.0,361.1 1521.7,362.0 1522.4,359.4 1523.1,357.9 1523.8,359.1 1524.5,360.6 1525.2,360.1 1525.9,358.6 1526.6,358.2 1527.3,359.4 1528.0,360.0 1528.5,359.1 1528.7,358.5 1529.4,360.1 1530.1,361.7 1530.8,361.9 1531.5,362.0 1532.2,363.4 1532.9,363.6 1533.6,362.3 1534.3,360.3 1535.0,359.8 1535.7,359.4 1536.4,360.8 1537.1,360.3 1537.8,358.4 1538.5,355.8 1539.2,356.2 1539.9,355.8 1540.6,355.6 1541.3,355.1 1542.0,355.4 1542.7,355.5 1543.4,357.5 1544.1,357.4 1544.8,356.8 1545.5,356.1 1546.2,357.7 1546.9,358.3 1547.6,358.4 1548.3,358.5 1549.0,358.9 1549.7,359.0 1550.4,356.8 1551.1,356.0 1551.8,357.6 1552.5,359.4 1553.2,359.6 1553.9,359.1 1554.6,357.1 1555.3,356.6 1556.0,357.4 1556.7,358.8 1557.4,358.5 1558.1,357.9 1558.8,357.2 1559.5,356.9 1560.2,357.3 1560.9,357.8 1561.6,359.1 1562.3,359.7 1563.0,358.9 1563.0,357.8 1563.7,357.4 1564.4,357.5 1565.1,357.3 1565.8,357.9 1566.5,358.6 1567.2,358.7 1567.9,358.9 1568.6,359.7 1569.3,361.4 1570.0,361.3 1570.7,359.8 1571.4,358.4 1572.1,357.7 1572.8,358.4 1573.5,360.0 1574.2,361.8 1574.9,360.3 1575.6,360.1 1576.3,360.4 1577.0,362.4 1577.7,361.6 1578.4,362.0 1579.1,361.8 1579.8,361.6 1580.5,360.4 1581.2,360.6 1581.9,360.3 1582.6,360.6 1583.3,361.6 1584.0,362.5 1584.7,362.8 1585.4,361.7 1586.1,362.3 1586.8,361.3 1587.5,362.1 1588.2,362.5 1588.9,361.6 1589.6,362.1 1590.3,363.1 1591.0,363.3 1591.7,363.6 1592.4,363.7 1593.1,362.4 1593.8,361.3 1594.5,363.7 1595.2,364.8 1595.9,363.9 1596.6,364.3 1597.3,364.5 1598.0,364.1 1598.7,363.4 1599.4,363.3 1600.1,363.3 1600.8,362.7 1601.5,361.4 1602.2,362.8 1602.9,365.7 1603.6,367.8 1604.3,367.0 1605.0,365.2 1605.0,363.9 1605.7,364.3 1606.4,365.7 1607.1,366.4 1607.8,366.0 1608.5,363.6 1609.2,363.1 1609.9,363.3 1610.6,365.4 1611.3,365.1 1612.0,366.1 1612.7,366.7 1613.4,368.0 1614.1,366.3 1614.8,363.8 1615.5,364.4 1616.2,366.9 1616.9,366.7 1617.6,365.3 1618.3,364.9 1619.0,366.8 1619.7,366.2 1620.4,365.9 1621.1,364.6 1621.8,364.6 1622.5,365.6 1623.2,365.6 1623.9,363.5 1624.6,362.8 1625.3,364.0 1626.0,367.4 1626.7,369.2 1627.4,369.3 1628.1,367.0 1628.8,364.8 1629.5,366.2 1630.2,366.7 1630.9,367.0 1631.6,367.3 1632.3,368.6 1633.0,367.6 1633.7,367.3 1634.4,366.9 1635.1,365.4 1635.8,364.8 1636.5,365.5 1637.2,366.7 1637.9,366.8 1638.6,368.2 1639.3,369.8 1640.0,369.8 1640.0,369.4 1640.7,366.4 1641.4,367.6 1642.1,368.1 1642.8,369.7 1643.5,368.8 1644.2,368.9 1644.9,368.5 1645.6,368.7 1646.3,367.8 1647.0,365.2 1647.7,365.7 1648.4,366.4 1649.1,367.8 1649.8,368.6 1650.5,369.3 1651.2,369.0 1651.9,366.9 1652.6,366.4 1653.3,366.0 1654.0,368.1 1654.7,367.8 1655.4,366.9 1656.1,366.4 1656.8,368.8 1657.5,369.3 1658.2,370.3 1658.9,369.5 1659.6,368.8 1660.3,368.1 1661.0,371.0 1661.7,372.8 1662.4,371.1 1663.1,368.6 1663.8,367.5 1664.5,370.0 1665.2,371.3 1665.9,369.5 1666.6,367.7 1667.3,368.2 1668.0,368.9 1668.7,366.7 1669.4,366.2 1670.1,368.1 1670.8,368.3 1671.5,367.4 1672.2,366.5 1672.9,366.5 1673.6,365.4 1674.3,364.3 1674.7,365.9 1675.0,366.9 1675.7,366.9 1676.4,367.7 1677.1,369.6 1677.8,369.2 1678.5,366.9 1679.2,365.6 1679.9,367.0 1680.6,368.8 1681.3,370.0 1682.0,369.0 1682.7,369.2 1683.4,368.1 1684.1,365.9 1684.8,365.3 1685.5,367.5 1686.2,370.0 1686.9,369.4 1687.6,368.9 1688.3,368.6 1689.0,367.5 1689.7,367.4 1690.4,368.7 1691.1,370.7 1691.8,371.6 1692.5,370.8 1693.2,370.7 1693.9,370.8 1694.6,370.6 1695.3,369.5 1696.0,369.4 1696.7,369.6 1697.4,369.3 1698.1,368.5 1698.8,369.9 1699.5,371.8 1700.2,373.2 1700.9,372.9 1701.6,372.5 1702.3,371.7 1703.0,370.9 1703.7,370.7 1704.4,370.8 1705.1,370.4 1705.8,369.4 1706.5,368.7 1707.2,367.6 1707.9,366.8 1708.6,367.8 1709.3,369.9 1710.0,370.8 1710.7,370.9 1711.4,370.7 1712.1,369.9 1712.8,370.7 1713.5,371.5 1714.2,372.2 1714.9,371.9 1715.6,372.0 1716.3,371.7 1717.0,371.2 1717.7,370.8 1718.4,371.2 1719.1,371.3 1719.8,370.6 1720.5,370.6 1721.2,371.1 1721.9,371.4 1722.6,370.3 1723.3,370.7 1724.0,369.7 1724.7,369.8 1725.4,370.8 1726.1,371.3 1726.8,370.9 1727.5,371.6 1728.2,373.3 1728.9,373.8 1729.6,374.1 1730.3,373.2 1731.0,373.3 1731.7,372.1 1732.4,372.4 1733.1,372.2 1733.8,372.1 1734.5,370.1 1735.2,370.3 1735.9,371.0 1736.6,370.7 1737.3,371.8 1738.0,373.4 1738.7,374.0 1739.4,373.5 1740.1,373.6 1740.8,373.6 1741.5,373.5 1742.2,373.9 1742.9,374.2 1743.6,373.5 1744.3,374.7 1745.0,375.1 1745.7,375.2 1746.4,376.6 1747.1,377.6 1747.8,377.6 1748.5,375.1 1749.2,374.6 1749.3,374.4 1749.9,375.1 1750.6,374.3 1751.3,374.3 1752.0,373.8 1752.7,374.2 1753.4,372.9 1754.1,374.6 1754.8,374.7 1755.5,373.9 1756.2,372.8 1756.9,375.0 1757.6,377.2 1758.3,376.0 1759.0,374.9 1759.7,375.3 1760.4,375.5 1761.1,374.8 1761.8,374.0 1762.5,373.8 1763.2,374.5 1763.9,374.5 1764.6,374.5 1765.3,374.2 1766.0,374.7 1766.7,375.7 1767.4,373.9 1768.1,374.0 1768.8,372.9 1769.5,373.4 1770.2,372.4 1770.9,373.5 1771.6,374.2 1772.3,373.5 1773.0,373.8 1773.7,376.0 1774.4,375.7 1775.1,374.5 1775.8,373.3 1776.5,373.6 1777.2,373.3 1777.9,373.4 1778.6,374.5 1779.3,375.2 1780.0,374.7 1780.7,374.4 1781.4,374.5 1782.1,377.2 1782.8,379.3 1783.5,380.0 1784.2,377.4 1784.9,375.4 1785.6,375.7 1786.3,376.3 1787.0,375.3 1787.7,375.6 1788.4,375.8 1789.1,376.7 1789.8,376.1 1790.5,376.6 1791.2,375.9 1791.9,374.1 1792.6,372.7 1793.3,373.8 1794.0,376.6 1794.7,376.8 1795.4,376.2 1796.1,376.0 1796.8,377.1 1797.5,377.1 1798.2,376.7 1798.9,377.2 1799.6,376.6 1800.3,377.1 1801.0,378.0 1801.7,379.4 1802.4,378.6 1803.1,377.4 1803.8,377.1 1804.5,378.3 1805.2,378.2 1805.9,378.5 1806.6,379.7 1807.3,379.0 1808.0,377.2 1808.7,376.0 1809.4,377.3 1810.1,377.2 1810.8,377.3 1811.5,376.7 1812.2,376.4 1812.9,376.7 1813.6,376.9 1814.3,375.7 1815.0,375.0 1815.7,375.3 1816.4,376.0 1817.1,375.1 1817.8,376.8 1818.5,378.0 1819.2,379.0 1819.9,376.7 1820.6,377.6 1821.3,377.7 1822.0,379.2 1822.7,379.8 1823.4,379.5 1823.9,378.0 1824.1,378.2 1824.8,379.5 1825.5,379.8 1826.2,378.9 1826.9,378.2 1827.6,377.8 1828.3,377.3 1829.0,376.2 1829.7,376.6 1830.4,378.1 1831.1,378.7 1831.8,376.9 1832.5,376.3 1833.2,378.0 1833.9,378.9 1834.6,377.8 1835.3,377.5 1836.0,378.0 1836.7,377.4 1837.4,376.9 1838.1,376.9 1838.8,377.8 1839.5,377.4 1840.2,376.8 1840.9,375.7 1841.6,376.3 1842.3,379.1 1843.0,379.3 1843.7,379.5 1844.4,379.1 1845.1,379.4 1845.8,379.9 1846.5,380.3 1847.2,379.0 1847.9,377.1 1848.6,378.5 1849.3,380.9 1850.0,382.0 1850.7,382.8 1851.4,382.1 1852.1,379.7 1852.8,378.3 1853.5,378.3 1854.2,379.4 1854.9,380.1 1855.6,379.4 1856.3,378.9 1857.0,378.7 1857.7,378.4 1858.4,378.1 1859.1,378.8 1859.8,379.4 1860.5,378.2 1861.2,377.1 1861.9,377.5 1862.6,377.9 1863.3,377.1 1864.0,375.0 1864.7,375.1 1865.4,376.8 1866.1,378.9 1866.8,378.4 1867.5,378.4 1868.2,378.3 1868.9,379.7 1869.6,379.8 1870.3,378.9 1871.0,378.2 1871.7,379.1 1872.4,379.2 1873.1,378.7 1873.8,378.1 1874.5,378.2 1875.2,377.1 1875.9,376.9 1876.6,376.8 1877.3,378.2 1878.0,377.9 1878.7,377.9 1879.4,376.3 1880.1,376.6 1880.8,378.1 1881.5,380.0 1882.2,380.0 1882.9,378.8 1883.6,379.5 1884.3,379.5 1885.0,377.5 1885.7,375.5 1886.0,375.8"/>
</g>
<g id="markers">
<line class="d" stroke-dasharray="5.8 4.029" x1="746.05" y1="55.0" x2="746.05" y2="1201"/>
<line class="d" stroke-dasharray="5.8 4.027" x1="802.0" y1="55.0" x2="802.0" y2="1200.7"/>
<line class="d" stroke-dasharray="5.8 3.992" x1="865.0" y1="837.7" x2="865.0" y2="1196"/>
<line class="d" stroke-dasharray="5.8 3.976" x1="895.0" y1="881" x2="895.0" y2="1248.5"/>
<line class="d" stroke-dasharray="5.8 3.840" x1="1108.0" y1="1140.4" x2="1108.0" y2="1290.8"/>
<line class="d" stroke-dasharray="5.8 3.888" x1="1220.0" y1="1110.6" x2="1220.0" y2="1271.4"/>
<line class="d" stroke-dasharray="5.8 3.950" x1="1340.2" y1="1088" x2="1340.2" y2="1249.8"/>
<line class="d" stroke-dasharray="5.8 4.017" x1="1353.9" y1="97.3" x2="1353.9" y2="1261.5"/>
<line class="d" stroke-dasharray="5.8 3.958" x1="1480.4" y1="949.7" x2="1480.4" y2="1258"/>
<line class="d" stroke-dasharray="5.8 3.971" x1="1767.0" y1="1109.5" x2="1767.0" y2="1281.4"/>
</g>
<g id="axes">
<line class="t" x1="264.9" y1="1273" x2="264.9" y2="1300"/>
<line class="t" x1="589.2" y1="1273" x2="589.2" y2="1300"/>
<line class="t" x1="913.5" y1="1273" x2="913.5" y2="1300"/>
<line class="t" x1="1237.8" y1="1273" x2="1237.8" y2="1300"/>
<line class="t" x1="1562.1" y1="1273" x2="1562.1" y2="1300"/>
<line class="t" x1="427.0" y1="1287" x2="427.0" y2="1300"/>
<line class="t" x1="751.3" y1="1287" x2="751.3" y2="1300"/>
<line class="t" x1="1075.7" y1="1287" x2="1075.7" y2="1300"/>
<line class="t" x1="1399.9" y1="1287" x2="1399.9" y2="1300"/>
<line class="t" x1="1724.2" y1="1287" x2="1724.2" y2="1300"/>
<text class="b" font-size="66.8" text-anchor="middle" transform="translate(265.9,1377.5) scale(0.958,1)">10</text>
<text class="b" font-size="66.8" text-anchor="middle" transform="translate(590.2,1377.5) scale(0.958,1)">20</text>
<text class="b" font-size="66.8" text-anchor="middle" transform="translate(914.5,1377.5) scale(0.958,1)">30</text>
<text class="b" font-size="66.8" text-anchor="middle" transform="translate(1238.8,1377.5) scale(0.958,1)">40</text>
<text class="b" font-size="66.8" text-anchor="middle" transform="translate(1563.1,1377.5) scale(0.958,1)">50</text>
<text class="b" font-size="66.8" text-anchor="middle" transform="translate(1887.4,1377.5) scale(0.958,1)">60</text>
</g>
<g id="titles">
<text class="b" font-size="72" text-anchor="start" transform="translate(847.6,1502) scale(0.924,1)">2 Theta</text>
<text class="b" font-size="63.5" text-anchor="start" transform="translate(1105.1,1500.8) scale(0.9,1)">[</text>
<text class="b" font-size="52" text-anchor="start" transform="translate(1124.3,1473)">o</text>
<text class="b" font-size="63.5" text-anchor="start" transform="translate(1155.1,1500.8) scale(0.9,1)">]</text>
<text class="b" font-size="69" text-anchor="middle" transform="translate(65.5,611) rotate(-90)">Intensity [a.u.]</text>
</g>
<g id="samples">
<text class="b" font-size="65.3" text-anchor="end" transform="translate(1837,312) scale(0.96,1)">G/rCB<tspan stroke="#000" stroke-width="3.8" dy="2.2">_</tspan><tspan dy="-2.2">SA</tspan><tspan stroke="#000" stroke-width="3.8" dy="2.2">_</tspan><tspan dy="-2.2">3h</tspan></text>
<text class="b" font-size="63.6" text-anchor="end" transform="translate(1837,544) scale(0.953,1)">rCB<tspan stroke="#000" stroke-width="3.8" dy="2.2">_</tspan><tspan dy="-2.2">BDS</tspan><tspan stroke="#000" stroke-width="3.8" dy="2.2">_</tspan><tspan dy="-2.2">20h</tspan></text>
<text class="b" font-size="65.3" text-anchor="end" transform="translate(1837,720.5) scale(0.96,1)">rCB<tspan stroke="#000" stroke-width="3.8" dy="2.2">_</tspan><tspan dy="-2.2">SA</tspan><tspan stroke="#000" stroke-width="3.8" dy="2.2">_</tspan><tspan dy="-2.2">24h</tspan></text>
<text class="b" font-size="65.3" text-anchor="end" transform="translate(1837,885) scale(0.96,1)">rCB<tspan stroke="#000" stroke-width="3.8" dy="2.2">_</tspan><tspan dy="-2.2">SA</tspan><tspan stroke="#000" stroke-width="3.8" dy="2.2">_</tspan><tspan dy="-2.2">3h</tspan></text>
<text class="b" font-size="65.3" text-anchor="end" transform="translate(1835.6,1059) scale(0.96,1)">rCB</text>
</g>
<g id="phases">
<text class="g" font-size="47.4" text-anchor="start" transform="translate(698.3,89.6)">C</text>
<text class="g" font-size="47.4" text-anchor="start" transform="translate(817.8,101.5)">SiO<tspan font-size="31" dy="13">2</tspan></text>
<text class="g" font-size="47.4" text-anchor="start" transform="translate(1310.5,145.8)">C</text>
<text class="g" font-size="47.4" text-anchor="start" transform="translate(975.3,819)">ZnS</text>
<text class="g" font-size="47.4" text-anchor="start" transform="translate(975.3,875)">ZnO</text>
<text class="g" font-size="47.4" text-anchor="start" transform="translate(900.4,953.3) scale(0.958,1)">CaSO<tspan font-size="31" dy="13">4</tspan></text>
<text class="g" font-size="47.4" text-anchor="start" transform="translate(900.4,1021.7) scale(0.958,1)">CaCO<tspan font-size="31" dy="13">3</tspan></text>
<text class="g" font-size="47.4" text-anchor="start" transform="translate(1051.3,1054.4)">ZnS</text>
<text class="g" font-size="47.4" text-anchor="start" transform="translate(1051.3,1110.4)">ZnO</text>
<text class="g" font-size="47.4" text-anchor="start" transform="translate(1170.6,1084.3)">ZnS</text>
<text class="g" font-size="47.4" text-anchor="start" transform="translate(1275.9,1062.4) scale(0.95,1)">CaCO<tspan font-size="31" dy="13">3</tspan></text>
<text class="g" font-size="47.4" text-anchor="start" transform="translate(1493.3,999.2)">ZnS</text>
<text class="g" font-size="47.4" text-anchor="start" transform="translate(1493.3,1056.3)">ZnO</text>
<text class="g" font-size="47.4" text-anchor="start" transform="translate(1643.2,1123.7)">ZnS</text>
<text class="g" font-size="47.4" text-anchor="start" transform="translate(1643.2,1180.4)">ZnO</text>
</g>
<g id="arrow"><line x1="989" y1="826.6" x2="900" y2="849.4" stroke="#000" stroke-width="2.8"/><polygon points="873.8,856.3 904.8,838.6 910,857" fill="#000"/></g>
</svg>
</body></html>
